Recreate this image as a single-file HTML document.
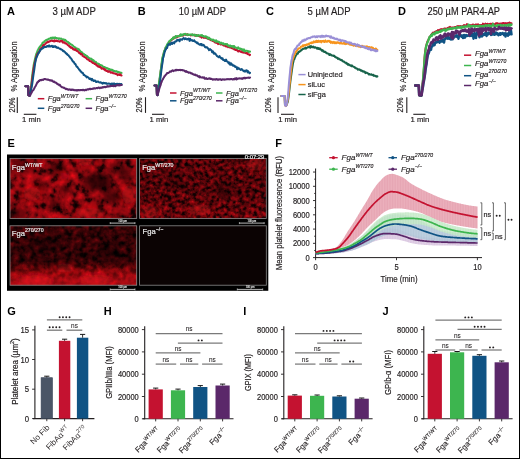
<!DOCTYPE html>
<html><head><meta charset="utf-8"><style>
html,body{margin:0;padding:0;background:#fff;}
svg{display:block;will-change:transform;}
</style></head><body>
<svg width="520" height="459" viewBox="0 0 520 459" font-family='"Liberation Sans", sans-serif' fill="#231f20">
<defs>
<filter id="t1" x="0" y="0" width="1" height="1" color-interpolation-filters="sRGB">
<feTurbulence type="fractalNoise" baseFrequency="0.12" numOctaves="4" seed="3"/>
<feGaussianBlur stdDeviation="0.5"/>
<feComponentTransfer><feFuncR type="table" tableValues="0 0 0.03 0.14 0.4 0.56 0.64 0.73 0.84 0.93 1"/><feFuncA type="linear" slope="0" intercept="1"/></feComponentTransfer>
<feColorMatrix type="matrix" values="1 0 0 0 0  0.05 0 0 0 0  0.1 0 0 0 0  0 0 0 1 0"/>
</filter>
<filter id="t2" x="0" y="0" width="1" height="1" color-interpolation-filters="sRGB">
<feTurbulence type="fractalNoise" baseFrequency="0.27" numOctaves="4" seed="11"/>
<feGaussianBlur stdDeviation="0.35"/>
<feComponentTransfer><feFuncR type="table" tableValues="0 0 0.03 0.09 0.23 0.39 0.51 0.62 0.75 0.88 1"/><feFuncA type="linear" slope="0" intercept="1"/></feComponentTransfer>
<feColorMatrix type="matrix" values="1 0 0 0 0  0.05 0 0 0 0  0.1 0 0 0 0  0 0 0 1 0"/>
</filter>
<filter id="t3" x="0" y="0" width="1" height="1" color-interpolation-filters="sRGB">
<feTurbulence type="fractalNoise" baseFrequency="0.18" numOctaves="4" seed="5"/>
<feGaussianBlur stdDeviation="0.4"/>
<feComponentTransfer><feFuncR type="table" tableValues="0 0 0.02 0.08 0.2 0.33 0.43 0.53 0.68 0.84 1"/><feFuncA type="linear" slope="0" intercept="1"/></feComponentTransfer>
<feColorMatrix type="matrix" values="1 0 0 0 0  0.05 0 0 0 0  0.1 0 0 0 0  0 0 0 1 0"/>
</filter>
<clipPath id="ci0"><rect x="10" y="158.5" width="126.7" height="59.9"/></clipPath>
<clipPath id="ci1"><rect x="139.6" y="158.5" width="126.7" height="59.9"/></clipPath>
<clipPath id="ci2"><rect x="10" y="225.8" width="126.7" height="59.4"/></clipPath>
<radialGradient id="g1a" cx="0.3" cy="0.55" r="0.45"><stop offset="0" stop-color="#e01018" stop-opacity="0.25"/><stop offset="1" stop-color="#ff1010" stop-opacity="0"/></radialGradient>
<radialGradient id="g1b" cx="0.72" cy="0.45" r="0.35"><stop offset="0" stop-color="#000" stop-opacity="0.45"/><stop offset="1" stop-color="#000" stop-opacity="0"/></radialGradient>
<linearGradient id="g3a" x1="0" y1="0" x2="0" y2="1"><stop offset="0" stop-color="#000" stop-opacity="0.35"/><stop offset="0.6" stop-color="#000" stop-opacity="0.45"/><stop offset="0.78" stop-color="#000" stop-opacity="0"/></linearGradient>
<linearGradient id="g3b" x1="0" y1="0" x2="0" y2="1"><stop offset="0.6" stop-color="#ff0a0a" stop-opacity="0"/><stop offset="0.9" stop-color="#f0101a" stop-opacity="0.5"/><stop offset="1" stop-color="#f0101a" stop-opacity="0.55"/></linearGradient>
<linearGradient id="g2a" x1="0" y1="0" x2="0" y2="1"><stop offset="0" stop-color="#000" stop-opacity="0.1"/><stop offset="0.5" stop-color="#000" stop-opacity="0.2"/><stop offset="1" stop-color="#000" stop-opacity="0"/></linearGradient>
<filter id="blr" x="-0.5" y="-0.5" width="2" height="2"><feGaussianBlur stdDeviation="3"/></filter><clipPath id="cTL"><rect x="10" y="158.5" width="126.7" height="59.9"/></clipPath>
<clipPath id="cTR"><rect x="139.6" y="158.5" width="126.7" height="59.9"/></clipPath><clipPath id="cBL"><rect x="10" y="225.8" width="126.7" height="59.4"/></clipPath>
<pattern id="pr" width="1.62" height="10" patternUnits="userSpaceOnUse"><rect width="1.62" height="10" fill="#ebb0bc"/><rect width="0.5" height="10" fill="#e39fad"/></pattern>
<pattern id="pg" width="1.62" height="10" patternUnits="userSpaceOnUse"><rect width="1.62" height="10" fill="#c9ebcb"/><rect width="0.5" height="10" fill="#b9e3bc"/></pattern>
<pattern id="pb" width="1.62" height="10" patternUnits="userSpaceOnUse"><rect width="1.62" height="10" fill="#b7cadb"/><rect width="0.5" height="10" fill="#a9bfd3"/></pattern>
<pattern id="pp" width="1.62" height="10" patternUnits="userSpaceOnUse"><rect width="1.62" height="10" fill="#ddcbe3"/><rect width="0.5" height="10" fill="#d2bcdb"/></pattern>
</defs>
<rect x="0" y="0" width="520" height="459" fill="#fff"/>
<text x="7" y="14.6" font-size="11" font-weight="bold" fill="#000" >A</text>
<text x="137.8" y="14.6" font-size="11" font-weight="bold" fill="#000" >B</text>
<text x="266" y="14.6" font-size="11" font-weight="bold" fill="#000" >C</text>
<text x="398" y="14.6" font-size="11" font-weight="bold" fill="#000" >D</text>
<text x="7.6" y="147" font-size="11" font-weight="bold" fill="#000" >E</text>
<text x="275.3" y="147" font-size="11" font-weight="bold" fill="#000" >F</text>
<text x="7.2" y="315.2" font-size="11" font-weight="bold" fill="#000" >G</text>
<text x="103.8" y="315.3" font-size="11" font-weight="bold" fill="#000" >H</text>
<text x="243.2" y="315.2" font-size="11" font-weight="bold" fill="#000" >I</text>
<text x="382.4" y="315.2" font-size="11" font-weight="bold" fill="#000" >J</text>
<text x="52.5" y="14.9" font-size="10" stroke="#231f20" stroke-width="0.18" textLength="43.3" lengthAdjust="spacingAndGlyphs" >3 µM ADP</text>
<text x="178.8" y="14.9" font-size="10" stroke="#231f20" stroke-width="0.18" textLength="47.2" lengthAdjust="spacingAndGlyphs" >10 µM ADP</text>
<text x="307.6" y="14.9" font-size="10" stroke="#231f20" stroke-width="0.18" textLength="43" lengthAdjust="spacingAndGlyphs" >5 µM ADP</text>
<text x="427.6" y="14.9" font-size="10" stroke="#231f20" stroke-width="0.18" textLength="72.4" lengthAdjust="spacingAndGlyphs" >250 µM PAR4-AP</text>
<text transform="translate(16.9,66.4) rotate(-90)" font-size="9" stroke="#231f20" stroke-width="0.18" text-anchor="middle" textLength="50.2" lengthAdjust="spacingAndGlyphs" >% Aggregation</text>
<line x1="17.3" y1="97.2" x2="17.3" y2="112.9" stroke="#231f20" stroke-width="1.1" />
<line x1="23.8" y1="114.3" x2="36.4" y2="114.3" stroke="#231f20" stroke-width="1.1" />
<text transform="translate(14.9,105) rotate(-90)" font-size="8.6" stroke="#231f20" stroke-width="0.18" text-anchor="middle" textLength="15.2" lengthAdjust="spacingAndGlyphs" >20%</text>
<text x="22.1" y="122" font-size="7.4" stroke="#231f20" stroke-width="0.18" textLength="18.7" lengthAdjust="spacingAndGlyphs" >1 min</text>
<path d="M25.4,86.2 L28.2,86.2 L28.4,95.2 L29.6,95.9 L30.1,93.4 L30.6,90.0 L31.1,86.1 L31.6,81.5 L32.1,76.2 L32.6,72.3 L33.1,69.1 L33.6,65.4 L34.1,62.7 L34.6,60.7 L35.1,58.5 L35.6,56.5 L36.1,54.4 L36.6,53.2 L37.1,52.2 L37.6,50.4 L38.1,49.8 L38.6,48.5 L39.1,47.9 L39.6,46.9 L40.1,46.7 L40.6,45.6 L41.1,45.4 L41.6,44.7 L42.1,44.0 L42.6,42.6 L43.1,42.8 L43.6,42.4 L44.1,42.0 L44.6,40.9 L45.1,40.9 L45.6,40.3 L46.1,40.1 L46.6,40.4 L47.1,39.5 L47.6,39.5 L48.1,39.5 L48.6,38.8 L49.1,38.7 L49.6,38.7 L50.1,38.5 L50.6,37.9 L51.1,38.2 L51.6,38.6 L52.1,37.5 L52.6,38.2 L53.1,37.9 L53.6,37.6 L54.1,38.5 L54.6,38.1 L55.1,37.4 L55.6,37.9 L56.1,38.2 L56.6,38.0 L57.1,38.3 L57.6,38.2 L58.1,38.5 L58.6,38.9 L59.1,38.2 L59.6,38.7 L60.1,38.5 L60.6,38.8 L61.1,38.5 L61.6,38.9 L62.1,39.2 L62.6,39.7 L63.1,40.0 L63.6,39.3 L64.1,39.7 L64.6,40.4 L65.1,39.7 L65.6,40.4 L66.1,40.8 L66.6,41.6 L67.1,41.7 L67.6,41.7 L68.1,42.1 L68.6,42.5 L69.1,43.6 L69.6,43.3 L70.1,43.7 L70.6,44.2 L71.1,44.4 L71.6,44.8 L72.1,44.8 L72.6,45.5 L73.1,45.7 L73.6,46.6 L74.1,46.8 L74.6,46.9 L75.1,47.5 L75.6,47.5 L76.1,48.4 L76.6,48.4 L77.1,48.9 L77.6,48.6 L78.1,49.6 L78.6,49.3 L79.1,49.5 L79.6,50.5 L80.1,50.7 L80.6,51.5 L81.1,52.7 L81.6,52.0 L82.1,52.5 L82.6,53.2 L83.1,53.7 L83.6,53.8 L84.1,54.2 L84.6,54.9 L85.1,55.2 L85.6,55.1 L86.1,55.8 L86.6,56.2 L87.1,56.1 L87.6,57.0 L88.1,56.9 L88.6,57.9 L89.1,58.0 L89.6,58.3 L90.1,58.4 L90.6,58.9 L91.1,58.6 L91.6,59.2 L92.1,60.1 L92.6,59.6 L93.1,60.9 L93.6,60.3 L94.1,61.5 L94.6,61.3 L95.1,62.2 L95.6,62.3 L96.1,62.0 L96.6,63.3 L97.1,63.6 L97.6,63.4 L98.1,63.6 L98.6,64.0 L99.1,64.0 L99.6,65.0 L100.1,64.7 L100.6,65.1 L101.1,65.2 L101.6,65.5 L102.1,65.5 L102.6,66.7 L103.1,66.5 L103.6,67.1 L104.1,67.0 L104.6,67.0 L105.1,67.4 L105.6,67.6 L106.1,68.0 L106.6,68.1 L107.1,68.4 L107.6,68.2 L108.1,68.6 L108.6,69.7 L109.1,69.1 L109.6,69.1 L110.1,69.8 L110.6,70.3 L111.1,69.5 L111.6,70.1 L112.1,70.1 L112.6,69.9 L113.1,70.9 L113.6,70.8 L114.1,71.0 L114.6,70.9 L115.1,71.5 L115.6,71.3 L116.1,71.5 L116.6,71.3 L117.1,71.4 L117.6,72.5 L118.1,71.9 L118.6,72.3 L119.1,72.4 L119.6,72.3 L120.1,72.4 L120.6,72.9 L121.1,72.7 L121.6,72.9" fill="none" stroke="#3db54f" stroke-width="2.0" stroke-linejoin="round" stroke-linecap="round"/>
<path d="M25.4,86.2 L28.2,86.2 L28.4,95.2 L29.6,95.9 L30.1,94.0 L30.6,91.2 L31.1,88.1 L31.6,84.2 L32.1,79.7 L32.6,76.3 L33.1,72.7 L33.6,69.0 L34.1,66.2 L34.6,63.8 L35.1,61.4 L35.6,59.4 L36.1,57.1 L36.6,56.4 L37.1,54.3 L37.6,54.0 L38.1,53.0 L38.6,52.3 L39.1,51.9 L39.6,51.1 L40.1,49.5 L40.6,48.6 L41.1,48.8 L41.6,47.5 L42.1,47.2 L42.6,46.9 L43.1,45.4 L43.6,44.8 L44.1,45.1 L44.6,44.5 L45.1,44.0 L45.6,43.7 L46.1,43.0 L46.6,42.4 L47.1,42.6 L47.6,42.0 L48.1,41.5 L48.6,42.1 L49.1,41.6 L49.6,41.6 L50.1,41.0 L50.6,40.9 L51.1,40.7 L51.6,40.7 L52.1,41.0 L52.6,40.6 L53.1,41.0 L53.6,40.9 L54.1,41.5 L54.6,40.3 L55.1,41.1 L55.6,40.8 L56.1,40.9 L56.6,40.5 L57.1,40.9 L57.6,41.3 L58.1,41.1 L58.6,41.3 L59.1,41.2 L59.6,41.8 L60.1,41.5 L60.6,40.8 L61.1,41.4 L61.6,41.1 L62.1,40.8 L62.6,41.9 L63.1,42.7 L63.6,42.4 L64.1,42.2 L64.6,42.4 L65.1,43.4 L65.6,43.3 L66.1,43.5 L66.6,43.8 L67.1,44.2 L67.6,44.9 L68.1,45.3 L68.6,45.7 L69.1,45.7 L69.6,46.7 L70.1,46.6 L70.6,47.6 L71.1,47.1 L71.6,47.8 L72.1,48.2 L72.6,48.0 L73.1,49.3 L73.6,49.5 L74.1,49.1 L74.6,49.8 L75.1,50.0 L75.6,49.2 L76.1,50.5 L76.6,50.7 L77.1,51.1 L77.6,51.0 L78.1,51.7 L78.6,52.1 L79.1,52.9 L79.6,53.0 L80.1,53.3 L80.6,54.2 L81.1,53.9 L81.6,54.4 L82.1,54.3 L82.6,55.9 L83.1,56.1 L83.6,56.5 L84.1,56.8 L84.6,57.0 L85.1,57.4 L85.6,57.6 L86.1,58.0 L86.6,58.5 L87.1,59.3 L87.6,59.4 L88.1,59.5 L88.6,59.7 L89.1,60.0 L89.6,61.1 L90.1,61.1 L90.6,61.3 L91.1,61.5 L91.6,61.6 L92.1,62.3 L92.6,62.9 L93.1,62.8 L93.6,63.2 L94.1,63.5 L94.6,63.9 L95.1,63.6 L95.6,64.4 L96.1,64.5 L96.6,65.4 L97.1,65.2 L97.6,65.9 L98.1,66.6 L98.6,66.2 L99.1,66.4 L99.6,67.0 L100.1,67.2 L100.6,67.1 L101.1,67.9 L101.6,68.7 L102.1,68.2 L102.6,68.5 L103.1,68.4 L103.6,69.2 L104.1,68.9 L104.6,69.2 L105.1,70.3 L105.6,69.8 L106.1,70.7 L106.6,71.1 L107.1,70.9 L107.6,71.2 L108.1,71.9 L108.6,71.3 L109.1,71.4 L109.6,71.3 L110.1,72.0 L110.6,72.7 L111.1,72.7 L111.6,72.2 L112.1,72.4 L112.6,72.7 L113.1,73.2 L113.6,73.2 L114.1,73.5 L114.6,73.6 L115.1,73.6 L115.6,73.8 L116.1,74.1 L116.6,74.1 L117.1,74.4 L117.6,75.1 L118.1,74.7 L118.6,74.7 L119.1,74.2 L119.6,75.0 L120.1,74.3 L120.6,74.6 L121.1,75.5 L121.6,75.6" fill="none" stroke="#c41230" stroke-width="2.0" stroke-linejoin="round" stroke-linecap="round"/>
<path d="M25.4,86.2 L28.2,86.2 L28.4,95.2 L29.6,95.8 L30.1,93.4 L30.6,91.7 L31.1,89.3 L31.6,87.2 L32.1,84.8 L32.6,81.0 L33.1,77.3 L33.6,73.9 L34.1,70.9 L34.6,67.2 L35.1,63.4 L35.6,61.0 L36.1,58.5 L36.6,57.5 L37.1,56.1 L37.6,55.1 L38.1,53.6 L38.6,53.2 L39.1,52.2 L39.6,51.4 L40.1,50.7 L40.6,49.7 L41.1,49.0 L41.6,49.2 L42.1,48.4 L42.6,48.2 L43.1,48.2 L43.6,47.0 L44.1,47.1 L44.6,47.2 L45.1,47.1 L45.6,46.7 L46.1,47.0 L46.6,46.6 L47.1,46.0 L47.6,46.0 L48.1,46.5 L48.6,46.3 L49.1,45.4 L49.6,46.5 L50.1,46.2 L50.6,46.5 L51.1,45.9 L51.6,46.0 L52.1,45.7 L52.6,47.0 L53.1,46.2 L53.6,46.9 L54.1,46.2 L54.6,46.6 L55.1,46.1 L55.6,46.8 L56.1,47.5 L56.6,46.9 L57.1,47.9 L57.6,47.8 L58.1,47.6 L58.6,48.0 L59.1,48.3 L59.6,48.7 L60.1,48.8 L60.6,49.0 L61.1,49.5 L61.6,49.5 L62.1,49.8 L62.6,50.5 L63.1,51.2 L63.6,50.7 L64.1,51.6 L64.6,51.8 L65.1,52.1 L65.6,53.1 L66.1,53.1 L66.6,54.2 L67.1,53.9 L67.6,54.8 L68.1,55.1 L68.6,55.4 L69.1,56.4 L69.6,56.7 L70.1,57.6 L70.6,58.0 L71.1,58.3 L71.6,59.4 L72.1,60.1 L72.6,61.2 L73.1,61.2 L73.6,62.2 L74.1,62.3 L74.6,63.8 L75.1,63.9 L75.6,64.3 L76.1,65.6 L76.6,66.7 L77.1,66.5 L77.6,67.3 L78.1,68.1 L78.6,68.6 L79.1,69.7 L79.6,69.9 L80.1,70.5 L80.6,71.5 L81.1,71.6 L81.6,72.5 L82.1,72.5 L82.6,73.0 L83.1,73.2 L83.6,75.0 L84.1,74.7 L84.6,75.3 L85.1,75.6 L85.6,76.1 L86.1,76.4 L86.6,77.4 L87.1,76.7 L87.6,76.9 L88.1,77.4 L88.6,77.6 L89.1,78.6 L89.6,79.0 L90.1,78.6 L90.6,78.7 L91.1,79.3 L91.6,80.2 L92.1,78.9 L92.6,80.3 L93.1,80.0 L93.6,80.9 L94.1,80.4 L94.6,80.9 L95.1,80.6 L95.6,81.0 L96.1,82.0 L96.6,81.9 L97.1,81.7 L97.6,81.6 L98.1,81.4 L98.6,82.0 L99.1,82.3 L99.6,82.4 L100.1,82.5 L100.6,82.2 L101.1,82.7 L101.6,82.8 L102.1,83.3 L102.6,83.6 L103.1,83.0 L103.6,82.8 L104.1,83.2 L104.6,83.0 L105.1,83.1 L105.6,83.4 L106.1,83.1 L106.6,83.8 L107.1,83.6 L107.6,83.8 L108.1,83.7 L108.6,83.6 L109.1,83.5 L109.6,83.8 L110.1,83.8 L110.6,84.1 L111.1,84.0 L111.6,83.6 L112.1,84.1 L112.6,83.6 L113.1,83.9 L113.6,84.0 L114.1,83.4 L114.6,84.1 L115.1,84.2 L115.6,84.0 L116.1,84.0 L116.6,84.0 L117.1,83.8 L117.6,84.0 L118.1,83.9 L118.6,84.1 L119.1,83.7 L119.6,84.2 L120.1,84.2 L120.6,84.1 L121.1,83.9 L121.6,84.3" fill="none" stroke="#105384" stroke-width="2.0" stroke-linejoin="round" stroke-linecap="round"/>
<path d="M25.4,86.2 L28.2,86.2 L28.4,95.2 L29.8,95.6 L30.3,95.1 L30.8,94.0 L31.3,93.1 L31.8,92.3 L32.3,91.2 L32.8,90.5 L33.3,90.1 L33.8,89.3 L34.3,88.5 L34.8,87.1 L35.3,86.6 L35.8,85.7 L36.3,84.6 L36.8,83.5 L37.3,82.3 L37.8,82.4 L38.3,81.7 L38.8,80.7 L39.3,81.0 L39.8,80.2 L40.3,80.0 L40.8,80.0 L41.3,80.3 L41.8,79.7 L42.3,79.7 L42.8,80.0 L43.3,79.8 L43.8,79.3 L44.3,79.2 L44.8,78.9 L45.3,79.0 L45.8,79.3 L46.3,79.4 L46.8,79.4 L47.3,79.7 L47.8,79.4 L48.3,79.7 L48.8,80.0 L49.3,80.1 L49.8,80.4 L50.3,80.3 L50.8,80.3 L51.3,80.7 L51.8,80.5 L52.3,80.6 L52.8,81.4 L53.3,81.5 L53.8,81.9 L54.3,81.6 L54.8,82.3 L55.3,82.5 L55.8,82.7 L56.3,82.7 L56.8,83.4 L57.3,84.0 L57.8,84.2 L58.3,84.3 L58.8,84.8 L59.3,85.3 L59.8,84.8 L60.3,85.8 L60.8,86.3 L61.3,86.6 L61.8,87.2 L62.3,87.3 L62.8,87.3 L63.3,87.6 L63.8,87.9 L64.3,87.8 L64.8,88.2 L65.3,88.6 L65.8,89.1 L66.3,88.8 L66.8,89.0 L67.3,89.2 L67.8,89.6 L68.3,89.4 L68.8,89.9 L69.3,89.3 L69.8,89.6 L70.3,89.6 L70.8,90.0 L71.3,90.1 L71.8,89.5 L72.3,89.7 L72.8,90.0 L73.3,89.8 L73.8,89.7 L74.3,90.3 L74.8,90.2 L75.3,90.3 L75.8,90.0 L76.3,90.4 L76.8,90.1 L77.3,90.5 L77.8,90.0 L78.3,90.0 L78.8,90.2 L79.3,90.0 L79.8,90.3 L80.3,90.2 L80.8,89.9 L81.3,90.1 L81.8,90.0 L82.3,90.2 L82.8,89.8 L83.3,89.8 L83.8,90.2 L84.3,90.4 L84.8,90.3 L85.3,89.8 L85.8,89.8 L86.3,90.1 L86.8,89.6 L87.3,89.3 L87.8,89.5 L88.3,89.6 L88.8,89.2 L89.3,88.9 L89.8,88.8 L90.3,89.3 L90.8,88.8 L91.3,88.9 L91.8,88.9 L92.3,88.9 L92.8,88.6 L93.3,88.8 L93.8,88.3 L94.3,88.4 L94.8,88.2 L95.3,88.6 L95.8,88.3 L96.3,88.0 L96.8,88.1 L97.3,88.0 L97.8,88.2 L98.3,87.5 L98.8,87.6 L99.3,87.7 L99.8,88.3 L100.3,87.9 L100.8,87.5 L101.3,87.7 L101.8,87.9 L102.3,87.3 L102.8,87.1 L103.3,87.4 L103.8,87.2 L104.3,87.1 L104.8,86.8 L105.3,87.3 L105.8,87.1 L106.3,86.8 L106.8,86.7 L107.3,86.0 L107.8,86.6 L108.3,86.3 L108.8,86.4 L109.3,86.4 L109.8,86.1 L110.3,85.8 L110.8,86.2 L111.3,85.9 L111.8,86.0 L112.3,85.9 L112.8,85.9 L113.3,85.4 L113.8,86.2 L114.3,85.9 L114.8,86.1 L115.3,86.2 L115.8,85.7 L116.3,85.2 L116.8,85.4 L117.3,85.2 L117.8,85.3 L118.3,85.4 L118.8,84.8 L119.3,85.4 L119.8,84.8 L120.3,85.2 L120.8,85.0 L121.3,84.9 L121.8,84.9" fill="none" stroke="#5b286a" stroke-width="2.0" stroke-linejoin="round" stroke-linecap="round"/>
<line x1="37.8" y1="98.7" x2="44.3" y2="98.7" stroke="#c41230" stroke-width="1.5" />
<text x="47.8" y="101.3" font-size="7.5" font-style="italic" stroke="#231f20" stroke-width="0.15">Fga<tspan font-size="5.2" dy="-3.15">WT/WT</tspan></text>
<line x1="85.6" y1="98.7" x2="92.1" y2="98.7" stroke="#3db54f" stroke-width="1.5" />
<text x="95.6" y="101.3" font-size="7.5" font-style="italic" stroke="#231f20" stroke-width="0.15">Fga<tspan font-size="5.2" dy="-3.15">WT/270</tspan></text>
<line x1="37.8" y1="108.3" x2="44.3" y2="108.3" stroke="#105384" stroke-width="1.5" />
<text x="47.8" y="110.9" font-size="7.5" font-style="italic" stroke="#231f20" stroke-width="0.15">Fga<tspan font-size="5.2" dy="-3.15">270/270</tspan></text>
<line x1="85.6" y1="108.3" x2="92.1" y2="108.3" stroke="#5b286a" stroke-width="1.5" />
<text x="95.6" y="110.9" font-size="7.5" font-style="italic" stroke="#231f20" stroke-width="0.15">Fga<tspan font-size="5.2" dy="-3.15">−/−</tspan></text>
<text transform="translate(144.5,66.4) rotate(-90)" font-size="9" stroke="#231f20" stroke-width="0.18" text-anchor="middle" textLength="50.2" lengthAdjust="spacingAndGlyphs" >% Aggregation</text>
<line x1="145.5" y1="97.2" x2="145.5" y2="112.9" stroke="#231f20" stroke-width="1.1" />
<line x1="152" y1="114.3" x2="164.3" y2="114.3" stroke="#231f20" stroke-width="1.1" />
<text transform="translate(142.4,105) rotate(-90)" font-size="8.6" stroke="#231f20" stroke-width="0.18" text-anchor="middle" textLength="15.2" lengthAdjust="spacingAndGlyphs" >20%</text>
<text x="149.6" y="122" font-size="7.4" stroke="#231f20" stroke-width="0.18" textLength="18.7" lengthAdjust="spacingAndGlyphs" >1 min</text>
<path d="M154.5,85.6 L156.6,85.6 L156.9,94.5 L157.6,95.1 L158.1,90.9 L158.6,86.5 L159.1,83.1 L159.6,79.9 L160.1,76.2 L160.6,72.3 L161.1,68.5 L161.6,64.5 L162.1,61.7 L162.6,58.4 L163.1,56.0 L163.6,53.9 L164.1,52.3 L164.6,50.7 L165.1,49.6 L165.6,48.1 L166.1,47.3 L166.6,47.3 L167.1,45.5 L167.6,44.6 L168.1,44.1 L168.6,43.3 L169.1,42.0 L169.6,41.6 L170.1,41.4 L170.6,40.7 L171.1,40.1 L171.6,40.2 L172.1,39.0 L172.6,38.9 L173.1,38.3 L173.6,38.8 L174.1,37.3 L174.6,37.5 L175.1,37.4 L175.6,37.6 L176.1,37.4 L176.6,37.5 L177.1,36.3 L177.6,36.9 L178.1,36.4 L178.6,36.1 L179.1,36.4 L179.6,35.8 L180.1,35.2 L180.6,35.7 L181.1,35.1 L181.6,35.3 L182.1,35.5 L182.6,35.4 L183.1,35.7 L183.6,35.0 L184.1,34.4 L184.6,34.6 L185.1,34.5 L185.6,34.4 L186.1,35.0 L186.6,34.6 L187.1,34.1 L187.6,35.1 L188.1,34.8 L188.6,35.0 L189.1,34.9 L189.6,35.1 L190.1,34.9 L190.6,35.4 L191.1,35.1 L191.6,35.2 L192.1,35.2 L192.6,34.6 L193.1,35.1 L193.6,35.1 L194.1,35.3 L194.6,34.8 L195.1,35.9 L195.6,35.5 L196.1,35.1 L196.6,35.0 L197.1,35.6 L197.6,35.8 L198.1,35.7 L198.6,36.1 L199.1,36.0 L199.6,36.5 L200.1,36.2 L200.6,36.5 L201.1,37.0 L201.6,37.7 L202.1,36.6 L202.6,36.9 L203.1,36.9 L203.6,37.7 L204.1,37.1 L204.6,37.5 L205.1,37.9 L205.6,37.7 L206.1,37.9 L206.6,38.2 L207.1,37.8 L207.6,38.2 L208.1,38.8 L208.6,39.1 L209.1,39.2 L209.6,38.8 L210.1,39.5 L210.6,40.1 L211.1,40.3 L211.6,40.3 L212.1,40.2 L212.6,41.0 L213.1,40.8 L213.6,40.8 L214.1,41.2 L214.6,42.2 L215.1,42.0 L215.6,42.6 L216.1,42.2 L216.6,42.9 L217.1,42.6 L217.6,43.0 L218.1,44.1 L218.6,43.7 L219.1,43.4 L219.6,43.7 L220.1,44.0 L220.6,44.5 L221.1,44.1 L221.6,43.8 L222.1,44.5 L222.6,44.7 L223.1,44.9 L223.6,45.5 L224.1,45.3 L224.6,45.6 L225.1,45.1 L225.6,46.0 L226.1,46.5 L226.6,46.3 L227.1,46.2 L227.6,46.4 L228.1,47.2 L228.6,46.4 L229.1,46.9 L229.6,47.3 L230.1,47.6 L230.6,47.4 L231.1,47.9 L231.6,47.9 L232.1,48.3 L232.6,48.4 L233.1,48.3 L233.6,48.9 L234.1,49.4 L234.6,49.0 L235.1,49.4 L235.6,50.0 L236.1,49.5 L236.6,50.2 L237.1,49.9 L237.6,50.8 L238.1,51.4 L238.6,51.5 L239.1,50.8 L239.6,51.3 L240.1,51.2 L240.6,51.4 L241.1,52.0 L241.6,51.2 L242.1,52.2 L242.6,51.9 L243.1,52.6 L243.6,52.3 L244.1,52.2 L244.6,52.7 L245.1,53.0 L245.6,52.9 L246.1,53.3 L246.6,53.1 L247.1,52.8 L247.6,54.1 L248.1,54.2 L248.6,54.3 L249.1,54.5 L249.6,55.1 L250.1,54.8" fill="none" stroke="#c41230" stroke-width="2.0" stroke-linejoin="round" stroke-linecap="round"/>
<path d="M154.5,85.6 L156.6,85.6 L156.9,94.5 L157.6,95.0 L158.1,90.7 L158.6,87.1 L159.1,81.8 L159.6,79.0 L160.1,74.5 L160.6,70.7 L161.1,68.1 L161.6,63.5 L162.1,59.3 L162.6,57.0 L163.1,55.3 L163.6,53.5 L164.1,51.2 L164.6,50.2 L165.1,49.1 L165.6,47.4 L166.1,46.8 L166.6,45.7 L167.1,44.6 L167.6,43.7 L168.1,43.1 L168.6,42.4 L169.1,41.4 L169.6,40.8 L170.1,40.9 L170.6,40.0 L171.1,39.8 L171.6,39.4 L172.1,38.7 L172.6,39.1 L173.1,37.4 L173.6,37.9 L174.1,37.2 L174.6,37.9 L175.1,37.7 L175.6,35.9 L176.1,36.1 L176.6,36.7 L177.1,36.6 L177.6,36.5 L178.1,36.0 L178.6,36.1 L179.1,36.0 L179.6,35.6 L180.1,35.9 L180.6,34.3 L181.1,35.5 L181.6,34.6 L182.1,35.4 L182.6,34.7 L183.1,34.3 L183.6,34.8 L184.1,34.1 L184.6,34.1 L185.1,33.7 L185.6,34.4 L186.1,34.6 L186.6,34.9 L187.1,34.3 L187.6,34.9 L188.1,34.5 L188.6,34.4 L189.1,34.8 L189.6,35.0 L190.1,34.4 L190.6,34.5 L191.1,34.6 L191.6,34.7 L192.1,34.3 L192.6,35.3 L193.1,34.7 L193.6,35.1 L194.1,34.6 L194.6,35.1 L195.1,35.2 L195.6,34.9 L196.1,36.0 L196.6,35.3 L197.1,36.0 L197.6,35.7 L198.1,35.0 L198.6,35.2 L199.1,35.7 L199.6,35.6 L200.1,35.6 L200.6,35.6 L201.1,35.0 L201.6,35.8 L202.1,35.0 L202.6,36.3 L203.1,36.0 L203.6,36.1 L204.1,36.5 L204.6,36.9 L205.1,36.3 L205.6,36.3 L206.1,36.8 L206.6,36.6 L207.1,37.2 L207.6,38.6 L208.1,37.5 L208.6,38.5 L209.1,37.7 L209.6,38.7 L210.1,38.6 L210.6,38.9 L211.1,39.4 L211.6,40.1 L212.1,39.6 L212.6,39.8 L213.1,39.5 L213.6,40.4 L214.1,40.2 L214.6,40.9 L215.1,40.7 L215.6,41.7 L216.1,40.3 L216.6,41.2 L217.1,41.9 L217.6,41.6 L218.1,41.6 L218.6,42.0 L219.1,41.7 L219.6,42.5 L220.1,43.7 L220.6,43.3 L221.1,42.5 L221.6,42.8 L222.1,43.2 L222.6,44.0 L223.1,43.3 L223.6,43.5 L224.1,44.4 L224.6,44.6 L225.1,44.2 L225.6,44.0 L226.1,44.0 L226.6,44.5 L227.1,44.0 L227.6,45.5 L228.1,45.0 L228.6,45.7 L229.1,46.4 L229.6,46.3 L230.1,45.4 L230.6,46.4 L231.1,46.7 L231.6,46.0 L232.1,46.1 L232.6,46.6 L233.1,46.1 L233.6,47.6 L234.1,46.0 L234.6,46.7 L235.1,47.2 L235.6,47.4 L236.1,47.7 L236.6,47.9 L237.1,47.9 L237.6,48.6 L238.1,47.3 L238.6,48.4 L239.1,48.2 L239.6,48.8 L240.1,48.9 L240.6,48.6 L241.1,48.9 L241.6,49.7 L242.1,49.6 L242.6,49.3 L243.1,50.7 L243.6,50.9 L244.1,49.4 L244.6,50.4 L245.1,51.5 L245.6,50.9 L246.1,50.8 L246.6,50.8 L247.1,50.8 L247.6,51.1 L248.1,51.1 L248.6,51.9 L249.1,51.5 L249.6,51.7 L250.1,51.5" fill="none" stroke="#3db54f" stroke-width="2.0" stroke-linejoin="round" stroke-linecap="round"/>
<path d="M154.5,85.6 L156.6,85.6 L156.9,94.5 L157.6,95.3 L158.1,92.3 L158.6,89.9 L159.1,87.7 L159.6,84.2 L160.1,80.9 L160.6,77.0 L161.1,72.9 L161.6,68.9 L162.1,65.2 L162.6,62.3 L163.1,57.9 L163.6,56.9 L164.1,54.3 L164.6,52.2 L165.1,51.0 L165.6,49.6 L166.1,49.0 L166.6,47.6 L167.1,47.9 L167.6,46.1 L168.1,44.6 L168.6,45.0 L169.1,43.8 L169.6,44.6 L170.1,44.8 L170.6,44.2 L171.1,42.7 L171.6,42.7 L172.1,44.0 L172.6,42.9 L173.1,42.4 L173.6,42.8 L174.1,43.4 L174.6,42.5 L175.1,41.6 L175.6,41.5 L176.1,41.4 L176.6,40.5 L177.1,40.0 L177.6,40.5 L178.1,39.8 L178.6,40.1 L179.1,40.1 L179.6,41.3 L180.1,39.2 L180.6,39.5 L181.1,39.4 L181.6,39.6 L182.1,39.8 L182.6,38.8 L183.1,38.5 L183.6,38.0 L184.1,38.4 L184.6,39.2 L185.1,38.9 L185.6,38.3 L186.1,38.8 L186.6,39.1 L187.1,39.5 L187.6,39.0 L188.1,39.3 L188.6,38.5 L189.1,39.1 L189.6,40.9 L190.1,38.7 L190.6,40.0 L191.1,40.4 L191.6,40.2 L192.1,40.1 L192.6,40.8 L193.1,41.0 L193.6,41.1 L194.1,40.2 L194.6,41.5 L195.1,41.3 L195.6,41.7 L196.1,42.3 L196.6,42.8 L197.1,43.2 L197.6,42.6 L198.1,43.6 L198.6,44.0 L199.1,44.3 L199.6,44.7 L200.1,44.0 L200.6,44.2 L201.1,45.1 L201.6,44.0 L202.1,45.2 L202.6,45.0 L203.1,45.4 L203.6,44.8 L204.1,45.5 L204.6,46.3 L205.1,47.1 L205.6,47.4 L206.1,47.1 L206.6,47.3 L207.1,47.2 L207.6,48.3 L208.1,48.3 L208.6,49.2 L209.1,50.2 L209.6,49.6 L210.1,49.1 L210.6,49.8 L211.1,49.9 L211.6,50.4 L212.1,52.3 L212.6,52.0 L213.1,51.4 L213.6,53.1 L214.1,53.8 L214.6,53.2 L215.1,53.4 L215.6,54.0 L216.1,54.8 L216.6,55.4 L217.1,56.1 L217.6,56.4 L218.1,56.8 L218.6,57.2 L219.1,57.1 L219.6,56.1 L220.1,57.3 L220.6,57.9 L221.1,57.8 L221.6,58.8 L222.1,58.4 L222.6,58.3 L223.1,60.1 L223.6,59.9 L224.1,59.9 L224.6,60.7 L225.1,61.1 L225.6,61.0 L226.1,59.6 L226.6,61.0 L227.1,61.4 L227.6,61.4 L228.1,62.4 L228.6,63.4 L229.1,62.7 L229.6,62.6 L230.1,64.8 L230.6,63.6 L231.1,63.4 L231.6,64.6 L232.1,65.0 L232.6,64.6 L233.1,65.8 L233.6,65.4 L234.1,65.4 L234.6,66.3 L235.1,67.0 L235.6,66.4 L236.1,67.2 L236.6,67.2 L237.1,69.2 L237.6,67.4 L238.1,68.8 L238.6,68.2 L239.1,68.4 L239.6,69.1 L240.1,69.4 L240.6,69.9 L241.1,69.5 L241.6,69.1 L242.1,69.4 L242.6,70.2 L243.1,70.4 L243.6,71.1 L244.1,70.6 L244.6,71.2 L245.1,71.6 L245.6,71.0 L246.1,70.2 L246.6,70.5 L247.1,70.5 L247.6,72.4 L248.1,71.1 L248.6,72.5 L249.1,72.3 L249.6,73.1 L250.1,72.8" fill="none" stroke="#105384" stroke-width="2.0" stroke-linejoin="round" stroke-linecap="round"/>
<path d="M154.5,85.6 L156.6,85.6 L156.9,94.5 L157.6,95.3 L158.1,93.3 L158.6,91.4 L159.1,89.6 L159.6,87.7 L160.1,86.3 L160.6,85.2 L161.1,83.0 L161.6,82.1 L162.1,80.5 L162.6,79.7 L163.1,78.9 L163.6,77.8 L164.1,77.2 L164.6,75.9 L165.1,75.9 L165.6,74.9 L166.1,74.6 L166.6,74.0 L167.1,72.9 L167.6,72.9 L168.1,72.9 L168.6,72.9 L169.1,72.3 L169.6,72.0 L170.1,71.3 L170.6,71.8 L171.1,71.7 L171.6,71.0 L172.1,70.8 L172.6,70.3 L173.1,70.8 L173.6,71.1 L174.1,70.6 L174.6,70.6 L175.1,70.4 L175.6,69.9 L176.1,70.5 L176.6,69.8 L177.1,70.0 L177.6,70.1 L178.1,70.2 L178.6,70.1 L179.1,70.1 L179.6,69.9 L180.1,69.8 L180.6,70.2 L181.1,70.1 L181.6,70.0 L182.1,70.1 L182.6,70.4 L183.1,70.2 L183.6,70.4 L184.1,70.5 L184.6,71.0 L185.1,71.2 L185.6,71.8 L186.1,71.0 L186.6,71.4 L187.1,72.0 L187.6,71.9 L188.1,72.1 L188.6,72.8 L189.1,72.5 L189.6,72.5 L190.1,72.6 L190.6,73.2 L191.1,73.4 L191.6,73.2 L192.1,73.5 L192.6,74.1 L193.1,74.3 L193.6,74.2 L194.1,74.7 L194.6,74.9 L195.1,74.5 L195.6,75.1 L196.1,75.5 L196.6,75.5 L197.1,75.3 L197.6,76.0 L198.1,76.4 L198.6,76.8 L199.1,76.0 L199.6,77.4 L200.1,76.6 L200.6,77.2 L201.1,77.4 L201.6,77.5 L202.1,77.4 L202.6,77.2 L203.1,77.8 L203.6,77.6 L204.1,77.3 L204.6,78.7 L205.1,78.3 L205.6,78.7 L206.1,78.1 L206.6,78.8 L207.1,78.9 L207.6,79.0 L208.1,78.7 L208.6,78.4 L209.1,78.7 L209.6,78.3 L210.1,78.5 L210.6,79.0 L211.1,78.8 L211.6,79.0 L212.1,79.1 L212.6,79.7 L213.1,79.5 L213.6,79.3 L214.1,79.6 L214.6,79.2 L215.1,79.3 L215.6,79.6 L216.1,79.1 L216.6,79.4 L217.1,79.2 L217.6,79.5 L218.1,79.9 L218.6,79.3 L219.1,79.6 L219.6,79.3 L220.1,79.2 L220.6,79.2 L221.1,79.9 L221.6,80.1 L222.1,79.6 L222.6,79.3 L223.1,79.6 L223.6,79.4 L224.1,79.7 L224.6,79.5 L225.1,79.5 L225.6,79.6 L226.1,79.3 L226.6,79.3 L227.1,79.0 L227.6,79.3 L228.1,79.0 L228.6,79.3 L229.1,79.1 L229.6,79.3 L230.1,79.4 L230.6,78.9 L231.1,79.0 L231.6,79.0 L232.1,79.3 L232.6,79.5 L233.1,79.3 L233.6,79.0 L234.1,79.4 L234.6,78.6 L235.1,79.3 L235.6,78.7 L236.1,78.1 L236.6,79.5 L237.1,79.2 L237.6,78.5 L238.1,78.7 L238.6,78.6 L239.1,78.6 L239.6,78.2 L240.1,78.4 L240.6,78.6 L241.1,78.5 L241.6,78.7 L242.1,78.4 L242.6,78.9 L243.1,78.1 L243.6,78.3 L244.1,77.7 L244.6,77.8 L245.1,78.4 L245.6,77.8 L246.1,78.1 L246.6,77.9 L247.1,77.7 L247.6,77.8 L248.1,77.7 L248.6,77.6 L249.1,77.9 L249.6,77.8 L250.1,77.5" fill="none" stroke="#5b286a" stroke-width="2.0" stroke-linejoin="round" stroke-linecap="round"/>
<line x1="170" y1="93" x2="176.5" y2="93" stroke="#c41230" stroke-width="1.5" />
<text x="180" y="95.6" font-size="7.5" font-style="italic" stroke="#231f20" stroke-width="0.15">Fga<tspan font-size="5.2" dy="-3.15">WT/WT</tspan></text>
<line x1="216" y1="93" x2="222.5" y2="93" stroke="#3db54f" stroke-width="1.5" />
<text x="226" y="95.6" font-size="7.5" font-style="italic" stroke="#231f20" stroke-width="0.15">Fga<tspan font-size="5.2" dy="-3.15">WT/270</tspan></text>
<line x1="170" y1="100.8" x2="176.5" y2="100.8" stroke="#105384" stroke-width="1.5" />
<text x="180" y="103.4" font-size="7.5" font-style="italic" stroke="#231f20" stroke-width="0.15">Fga<tspan font-size="5.2" dy="-3.15">270/270</tspan></text>
<line x1="216" y1="100.8" x2="222.5" y2="100.8" stroke="#5b286a" stroke-width="1.5" />
<text x="226" y="103.4" font-size="7.5" font-style="italic" stroke="#231f20" stroke-width="0.15">Fga<tspan font-size="5.2" dy="-3.15">−/−</tspan></text>
<text transform="translate(273.9,66.4) rotate(-90)" font-size="9" stroke="#231f20" stroke-width="0.18" text-anchor="middle" textLength="50.2" lengthAdjust="spacingAndGlyphs" >% Aggregation</text>
<line x1="278" y1="97.2" x2="278" y2="112.9" stroke="#231f20" stroke-width="1.1" />
<line x1="281" y1="114.3" x2="294" y2="114.3" stroke="#231f20" stroke-width="1.1" />
<text transform="translate(271,105) rotate(-90)" font-size="8.6" stroke="#231f20" stroke-width="0.18" text-anchor="middle" textLength="15.2" lengthAdjust="spacingAndGlyphs" >20%</text>
<text x="278.2" y="122" font-size="7.4" stroke="#231f20" stroke-width="0.18" textLength="18.7" lengthAdjust="spacingAndGlyphs" >1 min</text>
<path d="M281.3,95.9 L284.6,95.9 L285.0,105.2 L285.9,105.7 L286.4,105.4 L286.9,104.0 L287.4,102.8 L287.9,101.5 L288.4,98.2 L288.9,94.4 L289.4,90.2 L289.9,85.7 L290.4,81.4 L290.9,77.5 L291.4,74.1 L291.9,70.3 L292.4,67.2 L292.9,63.8 L293.4,61.8 L293.9,59.6 L294.4,59.1 L294.9,57.4 L295.4,56.7 L295.9,55.4 L296.4,54.9 L296.9,53.7 L297.4,53.4 L297.9,53.6 L298.4,51.7 L298.9,52.1 L299.4,51.9 L299.9,51.1 L300.4,50.9 L300.9,50.8 L301.4,49.8 L301.9,49.9 L302.4,49.2 L302.9,49.0 L303.4,48.8 L303.9,48.7 L304.4,48.6 L304.9,48.5 L305.4,47.6 L305.9,48.7 L306.4,48.2 L306.9,47.9 L307.4,47.3 L307.9,47.2 L308.4,47.3 L308.9,47.2 L309.4,46.3 L309.9,47.1 L310.4,47.8 L310.9,46.0 L311.4,47.1 L311.9,46.9 L312.4,46.8 L312.9,47.4 L313.4,46.6 L313.9,47.1 L314.4,47.7 L314.9,47.2 L315.4,47.3 L315.9,47.7 L316.4,47.7 L316.9,48.6 L317.4,47.9 L317.9,48.7 L318.4,48.1 L318.9,49.1 L319.4,49.0 L319.9,48.3 L320.4,49.5 L320.9,49.4 L321.4,49.8 L321.9,50.8 L322.4,50.1 L322.9,50.4 L323.4,51.5 L323.9,51.3 L324.4,52.1 L324.9,52.0 L325.4,51.8 L325.9,52.4 L326.4,53.2 L326.9,53.3 L327.4,53.3 L327.9,53.6 L328.4,53.8 L328.9,53.8 L329.4,55.0 L329.9,54.5 L330.4,54.3 L330.9,54.7 L331.4,55.4 L331.9,55.6 L332.4,55.5 L332.9,55.5 L333.4,56.0 L333.9,55.6 L334.4,55.9 L334.9,56.9 L335.4,56.7 L335.9,57.2 L336.4,57.7 L336.9,57.8 L337.4,57.8 L337.9,58.9 L338.4,58.6 L338.9,58.6 L339.4,59.3 L339.9,59.5 L340.4,59.4 L340.9,60.1 L341.4,60.3 L341.9,60.0 L342.4,61.0 L342.9,61.3 L343.4,61.5 L343.9,61.4 L344.4,62.1 L344.9,62.5 L345.4,62.8 L345.9,62.6 L346.4,63.6 L346.9,63.2 L347.4,63.8 L347.9,64.6 L348.4,64.1 L348.9,64.5 L349.4,65.3 L349.9,65.0 L350.4,65.3 L350.9,65.8 L351.4,66.3 L351.9,65.4 L352.4,66.2 L352.9,66.4 L353.4,66.6 L353.9,66.9 L354.4,67.2 L354.9,67.8 L355.4,67.6 L355.9,68.2 L356.4,68.6 L356.9,68.4 L357.4,68.9 L357.9,69.7 L358.4,69.4 L358.9,69.3 L359.4,69.7 L359.9,69.6 L360.4,70.3 L360.9,70.7 L361.4,70.3 L361.9,70.8 L362.4,71.4 L362.9,71.1 L363.4,71.6 L363.9,71.3 L364.4,71.6 L364.9,72.0 L365.4,73.1 L365.9,72.4 L366.4,72.6 L366.9,72.8 L367.4,73.1 L367.9,73.6 L368.4,73.6 L368.9,74.5 L369.4,74.0 L369.9,74.6 L370.4,74.4 L370.9,74.7 L371.4,74.2 L371.9,74.8 L372.4,75.0 L372.9,75.2 L373.4,74.7 L373.9,75.9 L374.4,75.6 L374.9,75.8 L375.4,76.0 L375.9,76.2 L376.4,76.6 L376.9,76.1 L377.4,76.4" fill="none" stroke="#17634a" stroke-width="2.0" stroke-linejoin="round" stroke-linecap="round"/>
<path d="M281.3,95.9 L284.6,95.9 L285.0,105.2 L285.9,106.1 L286.4,105.3 L286.9,103.6 L287.4,101.6 L287.9,99.1 L288.4,95.8 L288.9,91.8 L289.4,85.9 L289.9,82.1 L290.4,77.4 L290.9,72.4 L291.4,68.5 L291.9,63.6 L292.4,60.9 L292.9,59.0 L293.4,57.6 L293.9,56.1 L294.4,54.7 L294.9,53.9 L295.4,52.0 L295.9,52.4 L296.4,50.8 L296.9,50.5 L297.4,50.0 L297.9,49.2 L298.4,48.6 L298.9,48.3 L299.4,48.3 L299.9,48.2 L300.4,47.8 L300.9,46.8 L301.4,46.6 L301.9,46.2 L302.4,46.5 L302.9,45.2 L303.4,46.4 L303.9,45.4 L304.4,45.0 L304.9,45.3 L305.4,45.4 L305.9,44.8 L306.4,45.0 L306.9,44.4 L307.4,44.7 L307.9,44.5 L308.4,43.7 L308.9,44.3 L309.4,43.6 L309.9,43.4 L310.4,42.8 L310.9,42.9 L311.4,43.3 L311.9,42.2 L312.4,42.9 L312.9,42.7 L313.4,42.5 L313.9,41.3 L314.4,42.1 L314.9,42.3 L315.4,41.6 L315.9,41.9 L316.4,40.7 L316.9,42.0 L317.4,41.3 L317.9,42.0 L318.4,40.7 L318.9,41.8 L319.4,41.4 L319.9,41.8 L320.4,41.0 L320.9,41.1 L321.4,42.4 L321.9,41.0 L322.4,41.0 L322.9,41.2 L323.4,40.8 L323.9,41.8 L324.4,42.0 L324.9,40.9 L325.4,40.4 L325.9,41.7 L326.4,41.7 L326.9,41.6 L327.4,41.7 L327.9,40.9 L328.4,41.2 L328.9,40.8 L329.4,40.9 L329.9,42.0 L330.4,41.4 L330.9,42.9 L331.4,42.0 L331.9,41.8 L332.4,42.5 L332.9,43.1 L333.4,42.6 L333.9,41.9 L334.4,42.7 L334.9,43.2 L335.4,42.4 L335.9,42.3 L336.4,43.2 L336.9,42.8 L337.4,42.3 L337.9,42.7 L338.4,42.5 L338.9,43.0 L339.4,43.0 L339.9,43.5 L340.4,43.3 L340.9,42.4 L341.4,43.3 L341.9,43.6 L342.4,43.4 L342.9,43.7 L343.4,43.1 L343.9,42.9 L344.4,43.9 L344.9,43.0 L345.4,42.6 L345.9,44.1 L346.4,43.4 L346.9,43.7 L347.4,43.3 L347.9,43.4 L348.4,43.6 L348.9,44.0 L349.4,44.4 L349.9,43.3 L350.4,44.8 L350.9,44.0 L351.4,44.1 L351.9,45.0 L352.4,44.7 L352.9,44.2 L353.4,45.8 L353.9,44.6 L354.4,45.2 L354.9,45.3 L355.4,45.9 L355.9,45.2 L356.4,45.9 L356.9,45.2 L357.4,46.1 L357.9,45.3 L358.4,45.6 L358.9,46.7 L359.4,46.1 L359.9,46.1 L360.4,47.1 L360.9,46.3 L361.4,45.9 L361.9,46.7 L362.4,45.9 L362.9,47.0 L363.4,47.1 L363.9,46.4 L364.4,46.5 L364.9,46.9 L365.4,46.9 L365.9,46.5 L366.4,47.3 L366.9,46.2 L367.4,47.0 L367.9,47.1 L368.4,47.2 L368.9,47.6 L369.4,47.0 L369.9,47.9 L370.4,47.6 L370.9,47.5 L371.4,47.3 L371.9,47.5 L372.4,48.3 L372.9,47.8 L373.4,48.4 L373.9,48.9 L374.4,49.1 L374.9,49.4 L375.4,48.7 L375.9,48.5 L376.4,49.5 L376.9,49.4 L377.4,49.9" fill="none" stroke="#f7941d" stroke-width="2.0" stroke-linejoin="round" stroke-linecap="round"/>
<path d="M281.3,95.9 L284.6,95.9 L285.0,105.2 L285.9,106.0 L286.4,105.5 L286.9,103.1 L287.4,100.3 L287.9,96.3 L288.4,90.4 L288.9,83.8 L289.4,78.0 L289.9,73.3 L290.4,67.7 L290.9,64.6 L291.4,60.9 L291.9,58.9 L292.4,56.2 L292.9,54.3 L293.4,53.7 L293.9,51.4 L294.4,49.9 L294.9,49.2 L295.4,48.6 L295.9,48.9 L296.4,47.3 L296.9,47.0 L297.4,45.5 L297.9,45.6 L298.4,45.2 L298.9,45.1 L299.4,43.5 L299.9,43.6 L300.4,43.0 L300.9,42.0 L301.4,42.0 L301.9,41.5 L302.4,40.3 L302.9,41.2 L303.4,40.9 L303.9,40.1 L304.4,39.5 L304.9,40.4 L305.4,39.6 L305.9,39.7 L306.4,39.6 L306.9,38.6 L307.4,39.0 L307.9,38.3 L308.4,38.2 L308.9,38.0 L309.4,37.9 L309.9,38.3 L310.4,37.7 L310.9,37.4 L311.4,37.2 L311.9,37.3 L312.4,36.6 L312.9,36.7 L313.4,36.8 L313.9,36.4 L314.4,36.5 L314.9,36.2 L315.4,37.3 L315.9,36.9 L316.4,36.5 L316.9,36.2 L317.4,37.2 L317.9,36.3 L318.4,36.2 L318.9,36.3 L319.4,36.3 L319.9,36.8 L320.4,36.2 L320.9,37.1 L321.4,35.8 L321.9,36.5 L322.4,35.7 L322.9,37.0 L323.4,36.1 L323.9,36.2 L324.4,36.6 L324.9,36.8 L325.4,35.7 L325.9,36.0 L326.4,35.6 L326.9,36.3 L327.4,36.2 L327.9,36.1 L328.4,36.1 L328.9,36.3 L329.4,36.3 L329.9,37.1 L330.4,37.7 L330.9,36.3 L331.4,37.3 L331.9,37.4 L332.4,38.0 L332.9,37.5 L333.4,38.1 L333.9,37.8 L334.4,38.8 L334.9,38.6 L335.4,38.7 L335.9,39.1 L336.4,38.9 L336.9,38.5 L337.4,39.6 L337.9,39.6 L338.4,39.5 L338.9,40.2 L339.4,40.4 L339.9,39.5 L340.4,39.8 L340.9,41.0 L341.4,41.1 L341.9,40.3 L342.4,40.2 L342.9,40.6 L343.4,40.8 L343.9,40.5 L344.4,41.3 L344.9,40.9 L345.4,41.0 L345.9,42.1 L346.4,41.6 L346.9,42.0 L347.4,42.4 L347.9,42.6 L348.4,42.3 L348.9,42.6 L349.4,42.3 L349.9,43.6 L350.4,43.3 L350.9,42.6 L351.4,43.3 L351.9,43.7 L352.4,43.8 L352.9,44.5 L353.4,44.5 L353.9,43.8 L354.4,44.2 L354.9,43.8 L355.4,44.6 L355.9,44.8 L356.4,46.1 L356.9,45.1 L357.4,44.3 L357.9,45.1 L358.4,45.6 L358.9,45.1 L359.4,45.5 L359.9,45.9 L360.4,46.4 L360.9,46.3 L361.4,46.1 L361.9,47.0 L362.4,46.6 L362.9,46.8 L363.4,46.5 L363.9,47.0 L364.4,47.8 L364.9,46.9 L365.4,47.8 L365.9,48.3 L366.4,47.9 L366.9,48.4 L367.4,47.9 L367.9,49.1 L368.4,49.2 L368.9,49.0 L369.4,48.2 L369.9,48.7 L370.4,49.7 L370.9,50.2 L371.4,49.7 L371.9,50.3 L372.4,49.6 L372.9,49.9 L373.4,50.1 L373.9,50.4 L374.4,49.7 L374.9,50.9 L375.4,51.2 L375.9,50.3 L376.4,50.3 L376.9,51.2 L377.4,50.9" fill="none" stroke="#9a8fd6" stroke-width="2.0" stroke-linejoin="round" stroke-linecap="round"/>
<line x1="298.4" y1="74.6" x2="305.6" y2="74.6" stroke="#9a8fd6" stroke-width="1.5" />
<text x="307.7" y="77.2" font-size="7.4" stroke="#231f20" stroke-width="0.18" >Uninjected</text>
<line x1="298.4" y1="84.6" x2="305.6" y2="84.6" stroke="#f7941d" stroke-width="1.5" />
<text x="307.7" y="87.2" font-size="7.4" stroke="#231f20" stroke-width="0.18" >siLuc</text>
<line x1="298.4" y1="94.5" x2="305.6" y2="94.5" stroke="#17634a" stroke-width="1.5" />
<text x="307.7" y="97.1" font-size="7.4" stroke="#231f20" stroke-width="0.18" >siFga</text>
<text transform="translate(406.4,66.4) rotate(-90)" font-size="9" stroke="#231f20" stroke-width="0.18" text-anchor="middle" textLength="50.2" lengthAdjust="spacingAndGlyphs" >% Aggregation</text>
<line x1="406.8" y1="97.2" x2="406.8" y2="112.9" stroke="#231f20" stroke-width="1.1" />
<line x1="413.3" y1="114.3" x2="425.5" y2="114.3" stroke="#231f20" stroke-width="1.1" />
<text transform="translate(402.6,105) rotate(-90)" font-size="8.6" stroke="#231f20" stroke-width="0.18" text-anchor="middle" textLength="15.2" lengthAdjust="spacingAndGlyphs" >20%</text>
<text x="410.5" y="122" font-size="7.4" stroke="#231f20" stroke-width="0.18" textLength="18.7" lengthAdjust="spacingAndGlyphs" >1 min</text>
<path d="M415.2,85.5 L418.8,85.5 L419.2,95.3 L421.2,95.5 L421.5,94.1 L422.0,90.7 L422.5,85.1 L423.0,79.4 L423.5,74.8 L424.0,66.5 L424.5,58.2 L425.0,52.8 L425.5,49.0 L426.0,46.5 L426.5,44.9 L427.0,42.7 L427.5,41.3 L428.0,41.1 L428.5,39.5 L429.0,38.4 L429.5,37.3 L430.0,36.4 L430.5,36.1 L431.0,34.8 L431.5,35.2 L432.0,33.4 L432.5,33.4 L433.0,32.5 L433.5,32.7 L434.0,32.9 L434.5,33.1 L435.0,31.8 L435.5,31.9 L436.0,31.5 L436.5,31.1 L437.0,30.7 L437.5,31.1 L438.0,30.0 L438.5,30.8 L439.0,30.6 L439.5,30.1 L440.0,29.7 L440.5,29.4 L441.0,30.9 L441.5,29.1 L442.0,30.4 L442.5,29.8 L443.0,29.2 L443.5,28.7 L444.0,29.6 L444.5,29.9 L445.0,28.4 L445.5,28.6 L446.0,29.2 L446.5,28.7 L447.0,29.5 L447.5,28.1 L448.0,28.5 L448.5,27.5 L449.0,29.1 L449.5,27.6 L450.0,26.8 L450.5,27.7 L451.0,27.6 L451.5,28.6 L452.0,27.4 L452.5,27.5 L453.0,27.7 L453.5,28.1 L454.0,27.2 L454.5,27.7 L455.0,27.3 L455.5,26.9 L456.0,27.0 L456.5,26.9 L457.0,26.3 L457.5,27.3 L458.0,26.0 L458.5,27.2 L459.0,27.0 L459.5,26.4 L460.0,26.0 L460.5,26.2 L461.0,26.5 L461.5,26.5 L462.0,26.2 L462.5,26.5 L463.0,25.7 L463.5,26.0 L464.0,25.0 L464.5,26.1 L465.0,25.8 L465.5,25.4 L466.0,26.2 L466.5,25.9 L467.0,24.1 L467.5,25.4 L468.0,24.7 L468.5,25.9 L469.0,26.5 L469.5,25.0 L470.0,25.3 L470.5,25.1 L471.0,25.3 L471.5,25.5 L472.0,25.7 L472.5,24.6 L473.0,25.8 L473.5,24.6 L474.0,25.1 L474.5,25.5 L475.0,25.3 L475.5,24.4 L476.0,24.5 L476.5,24.6 L477.0,24.8 L477.5,25.4 L478.0,24.2 L478.5,25.0 L479.0,25.1 L479.5,25.0 L480.0,24.9 L480.5,25.5 L481.0,24.9 L481.5,25.1 L482.0,24.9 L482.5,25.5 L483.0,23.6 L483.5,25.2 L484.0,24.4 L484.5,24.4 L485.0,24.0 L485.5,23.6 L486.0,24.3 L486.5,24.1 L487.0,24.7 L487.5,23.7 L488.0,25.1 L488.5,24.5 L489.0,24.2 L489.5,24.0 L490.0,23.9 L490.5,23.7 L491.0,24.0 L491.5,24.2 L492.0,24.1 L492.5,23.5 L493.0,24.0 L493.5,23.7 L494.0,24.2 L494.5,25.0 L495.0,24.4 L495.5,23.9 L496.0,23.2 L496.5,23.3 L497.0,23.1 L497.5,24.3 L498.0,23.5 L498.5,23.9 L499.0,23.6 L499.5,23.9 L500.0,24.5 L500.5,23.5 L501.0,23.6 L501.5,23.4 L502.0,24.2 L502.5,23.2 L503.0,23.1 L503.5,23.0 L504.0,23.0 L504.5,23.9 L505.0,24.9 L505.5,23.1 L506.0,24.0 L506.5,23.7 L507.0,23.0 L507.5,23.4 L508.0,23.4 L508.5,23.1 L509.0,24.4 L509.5,22.5 L510.0,23.6 L510.5,23.5 L511.0,23.1 L511.5,23.4" fill="none" stroke="#c41230" stroke-width="2.0" stroke-linejoin="round" stroke-linecap="round"/>
<path d="M415.2,85.5 L418.8,85.5 L419.2,95.3 L421.2,95.5 L421.5,95.7 L422.0,90.3 L422.5,85.2 L423.0,80.0 L423.5,72.7 L424.0,67.1 L424.5,60.3 L425.0,54.3 L425.5,51.1 L426.0,47.2 L426.5,45.7 L427.0,43.6 L427.5,42.2 L428.0,41.7 L428.5,39.7 L429.0,38.9 L429.5,37.0 L430.0,37.1 L430.5,36.4 L431.0,35.4 L431.5,34.9 L432.0,35.8 L432.5,33.9 L433.0,33.7 L433.5,33.5 L434.0,34.2 L434.5,34.4 L435.0,33.3 L435.5,32.5 L436.0,32.4 L436.5,33.0 L437.0,31.8 L437.5,32.8 L438.0,32.6 L438.5,31.8 L439.0,31.9 L439.5,31.8 L440.0,32.0 L440.5,30.6 L441.0,31.5 L441.5,30.6 L442.0,30.3 L442.5,30.6 L443.0,30.3 L443.5,29.8 L444.0,29.3 L444.5,29.5 L445.0,30.6 L445.5,30.8 L446.0,30.0 L446.5,30.2 L447.0,29.2 L447.5,29.3 L448.0,29.4 L448.5,28.6 L449.0,28.6 L449.5,29.0 L450.0,28.7 L450.5,28.3 L451.0,28.9 L451.5,28.5 L452.0,29.0 L452.5,28.5 L453.0,28.2 L453.5,28.4 L454.0,28.1 L454.5,27.8 L455.0,27.9 L455.5,28.4 L456.0,28.3 L456.5,28.5 L457.0,27.0 L457.5,27.5 L458.0,27.5 L458.5,27.7 L459.0,27.3 L459.5,27.2 L460.0,27.8 L460.5,27.4 L461.0,26.7 L461.5,27.9 L462.0,27.6 L462.5,26.8 L463.0,27.4 L463.5,26.6 L464.0,27.4 L464.5,26.7 L465.0,26.3 L465.5,26.5 L466.0,26.2 L466.5,26.7 L467.0,26.6 L467.5,26.5 L468.0,26.2 L468.5,24.6 L469.0,26.4 L469.5,25.4 L470.0,26.5 L470.5,26.9 L471.0,26.4 L471.5,26.1 L472.0,26.2 L472.5,26.2 L473.0,26.0 L473.5,25.9 L474.0,25.7 L474.5,26.8 L475.0,26.2 L475.5,26.6 L476.0,26.0 L476.5,26.2 L477.0,26.0 L477.5,26.3 L478.0,26.5 L478.5,26.2 L479.0,25.7 L479.5,25.7 L480.0,26.9 L480.5,25.9 L481.0,25.9 L481.5,26.7 L482.0,26.5 L482.5,26.2 L483.0,25.8 L483.5,27.1 L484.0,26.1 L484.5,26.2 L485.0,25.8 L485.5,25.2 L486.0,25.2 L486.5,26.1 L487.0,26.1 L487.5,25.7 L488.0,25.3 L488.5,25.1 L489.0,25.7 L489.5,25.1 L490.0,26.2 L490.5,26.4 L491.0,27.2 L491.5,26.2 L492.0,25.4 L492.5,25.3 L493.0,24.0 L493.5,25.4 L494.0,25.6 L494.5,26.2 L495.0,26.0 L495.5,25.9 L496.0,25.7 L496.5,25.9 L497.0,26.3 L497.5,25.1 L498.0,25.3 L498.5,24.9 L499.0,26.4 L499.5,26.2 L500.0,25.9 L500.5,24.9 L501.0,25.6 L501.5,25.4 L502.0,25.5 L502.5,25.4 L503.0,25.7 L503.5,25.2 L504.0,25.8 L504.5,25.5 L505.0,25.2 L505.5,25.3 L506.0,25.1 L506.5,25.8 L507.0,25.2 L507.5,25.5 L508.0,25.1 L508.5,24.5 L509.0,25.7 L509.5,24.7 L510.0,25.6 L510.5,25.4 L511.0,24.4 L511.5,24.7" fill="none" stroke="#3db54f" stroke-width="2.3" stroke-linejoin="round" stroke-linecap="round"/>
<path d="M415.2,85.5 L418.8,85.5 L419.2,95.3 L421.2,95.5 L421.5,94.8 L422.0,91.5 L422.5,88.1 L423.0,86.9 L423.5,83.0 L424.0,80.7 L424.5,77.1 L425.0,74.6 L425.5,70.1 L426.0,67.0 L426.5,64.2 L427.0,60.3 L427.5,57.0 L428.0,54.4 L428.5,53.8 L429.0,52.4 L429.5,50.4 L430.0,48.7 L430.5,48.9 L431.0,49.7 L431.5,46.5 L432.0,46.5 L432.5,46.0 L433.0,42.8 L433.5,44.8 L434.0,43.6 L434.5,45.1 L435.0,43.2 L435.5,42.4 L436.0,42.6 L436.5,42.6 L437.0,41.7 L437.5,41.9 L438.0,40.4 L438.5,41.2 L439.0,41.9 L439.5,42.7 L440.0,41.4 L440.5,40.8 L441.0,41.4 L441.5,41.1 L442.0,41.5 L442.5,40.8 L443.0,39.6 L443.5,39.8 L444.0,42.5 L444.5,39.5 L445.0,39.3 L445.5,38.3 L446.0,37.0 L446.5,38.1 L447.0,36.8 L447.5,38.6 L448.0,38.4 L448.5,36.8 L449.0,38.8 L449.5,38.8 L450.0,38.0 L450.5,39.3 L451.0,39.4 L451.5,36.5 L452.0,38.4 L452.5,39.3 L453.0,37.7 L453.5,38.0 L454.0,36.4 L454.5,36.5 L455.0,36.2 L455.5,36.1 L456.0,36.6 L456.5,35.3 L457.0,35.6 L457.5,37.0 L458.0,36.3 L458.5,38.7 L459.0,34.5 L459.5,35.4 L460.0,35.5 L460.5,36.0 L461.0,35.3 L461.5,36.6 L462.0,35.7 L462.5,35.6 L463.0,38.1 L463.5,36.1 L464.0,35.0 L464.5,36.3 L465.0,37.6 L465.5,35.3 L466.0,35.1 L466.5,35.5 L467.0,35.9 L467.5,35.8 L468.0,35.2 L468.5,35.6 L469.0,34.9 L469.5,35.9 L470.0,34.7 L470.5,32.8 L471.0,35.9 L471.5,34.7 L472.0,33.6 L472.5,34.4 L473.0,33.8 L473.5,38.7 L474.0,35.0 L474.5,33.1 L475.0,35.0 L475.5,34.1 L476.0,38.1 L476.5,33.5 L477.0,32.4 L477.5,34.4 L478.0,34.1 L478.5,34.0 L479.0,32.4 L479.5,37.3 L480.0,35.8 L480.5,32.6 L481.0,35.3 L481.5,33.7 L482.0,36.4 L482.5,34.6 L483.0,34.0 L483.5,35.2 L484.0,34.7 L484.5,33.6 L485.0,34.8 L485.5,33.7 L486.0,32.5 L486.5,35.9 L487.0,33.8 L487.5,33.5 L488.0,34.4 L488.5,32.6 L489.0,32.8 L489.5,33.6 L490.0,33.5 L490.5,34.0 L491.0,35.0 L491.5,33.5 L492.0,34.4 L492.5,34.5 L493.0,32.9 L493.5,34.1 L494.0,33.0 L494.5,34.8 L495.0,34.3 L495.5,33.8 L496.0,32.6 L496.5,33.9 L497.0,33.1 L497.5,34.4 L498.0,33.6 L498.5,35.2 L499.0,34.6 L499.5,34.4 L500.0,33.2 L500.5,34.7 L501.0,33.4 L501.5,33.4 L502.0,33.8 L502.5,33.0 L503.0,33.2 L503.5,33.5 L504.0,35.0 L504.5,34.9 L505.0,33.3 L505.5,36.6 L506.0,33.5 L506.5,33.9 L507.0,34.3 L507.5,33.8 L508.0,35.7 L508.5,33.7 L509.0,32.4 L509.5,34.6 L510.0,33.1 L510.5,33.2 L511.0,30.7 L511.5,34.3" fill="none" stroke="#105384" stroke-width="2.5" stroke-linejoin="round" stroke-linecap="round"/>
<path d="M415.2,85.5 L418.8,85.5 L419.2,95.3 L421.2,95.5 L421.5,95.5 L422.0,92.3 L422.5,88.9 L423.0,83.9 L423.5,81.6 L424.0,79.1 L424.5,76.4 L425.0,71.2 L425.5,66.4 L426.0,64.4 L426.5,60.7 L427.0,56.6 L427.5,52.9 L428.0,51.8 L428.5,49.9 L429.0,49.0 L429.5,45.7 L430.0,45.7 L430.5,44.4 L431.0,42.7 L431.5,43.2 L432.0,42.4 L432.5,41.5 L433.0,41.7 L433.5,39.6 L434.0,40.4 L434.5,40.4 L435.0,39.9 L435.5,40.2 L436.0,37.9 L436.5,37.3 L437.0,38.5 L437.5,38.5 L438.0,39.7 L438.5,38.1 L439.0,36.5 L439.5,37.8 L440.0,36.1 L440.5,35.3 L441.0,38.7 L441.5,36.5 L442.0,36.6 L442.5,36.3 L443.0,37.3 L443.5,35.7 L444.0,36.4 L444.5,34.2 L445.0,33.7 L445.5,36.1 L446.0,36.0 L446.5,35.0 L447.0,34.6 L447.5,34.4 L448.0,33.5 L448.5,35.4 L449.0,34.4 L449.5,34.2 L450.0,33.9 L450.5,34.4 L451.0,33.8 L451.5,37.6 L452.0,32.1 L452.5,33.5 L453.0,38.5 L453.5,32.3 L454.0,32.6 L454.5,33.4 L455.0,33.4 L455.5,33.0 L456.0,30.9 L456.5,32.7 L457.0,31.1 L457.5,31.3 L458.0,32.5 L458.5,31.6 L459.0,32.5 L459.5,34.6 L460.0,32.4 L460.5,32.2 L461.0,30.7 L461.5,30.8 L462.0,30.4 L462.5,30.8 L463.0,30.2 L463.5,30.5 L464.0,30.9 L464.5,30.1 L465.0,29.6 L465.5,29.6 L466.0,31.2 L466.5,30.8 L467.0,31.6 L467.5,31.6 L468.0,30.3 L468.5,31.1 L469.0,29.2 L469.5,35.1 L470.0,31.5 L470.5,30.2 L471.0,29.3 L471.5,32.9 L472.0,28.6 L472.5,29.5 L473.0,30.9 L473.5,30.3 L474.0,29.7 L474.5,31.0 L475.0,29.2 L475.5,30.3 L476.0,29.6 L476.5,29.3 L477.0,30.4 L477.5,29.1 L478.0,31.7 L478.5,29.4 L479.0,35.6 L479.5,28.9 L480.0,30.4 L480.5,28.8 L481.0,28.6 L481.5,33.9 L482.0,30.4 L482.5,28.6 L483.0,30.8 L483.5,29.0 L484.0,29.8 L484.5,30.0 L485.0,30.2 L485.5,28.0 L486.0,31.0 L486.5,30.1 L487.0,29.2 L487.5,28.6 L488.0,28.0 L488.5,28.2 L489.0,29.9 L489.5,29.1 L490.0,28.4 L490.5,28.9 L491.0,34.0 L491.5,29.0 L492.0,28.8 L492.5,30.5 L493.0,29.7 L493.5,29.3 L494.0,31.6 L494.5,27.8 L495.0,28.1 L495.5,28.7 L496.0,28.9 L496.5,29.4 L497.0,29.5 L497.5,29.2 L498.0,29.2 L498.5,28.1 L499.0,27.0 L499.5,28.4 L500.0,28.0 L500.5,28.3 L501.0,28.6 L501.5,27.7 L502.0,27.8 L502.5,28.7 L503.0,28.8 L503.5,28.1 L504.0,29.1 L504.5,28.5 L505.0,27.7 L505.5,28.7 L506.0,30.3 L506.5,28.0 L507.0,29.6 L507.5,29.8 L508.0,29.8 L508.5,27.7 L509.0,30.3 L509.5,28.5 L510.0,28.2 L510.5,28.2 L511.0,28.9 L511.5,28.4" fill="none" stroke="#5b286a" stroke-width="2.6" stroke-linejoin="round" stroke-linecap="round"/>
<line x1="464" y1="55.2" x2="471.2" y2="55.2" stroke="#c41230" stroke-width="1.5" />
<text x="475" y="56.1" font-size="7.8" font-style="italic" stroke="#231f20" stroke-width="0.15">Fga<tspan font-size="5.1" dy="-3.28">WT/WT</tspan></text>
<line x1="464" y1="65.5" x2="471.2" y2="65.5" stroke="#3db54f" stroke-width="1.5" />
<text x="475" y="66.4" font-size="7.8" font-style="italic" stroke="#231f20" stroke-width="0.15">Fga<tspan font-size="5.1" dy="-3.28">WT/270</tspan></text>
<line x1="464" y1="75.7" x2="471.2" y2="75.7" stroke="#105384" stroke-width="1.5" />
<text x="475" y="76.6" font-size="7.8" font-style="italic" stroke="#231f20" stroke-width="0.15">Fga<tspan font-size="5.1" dy="-3.28">270/270</tspan></text>
<line x1="464" y1="85.5" x2="471.2" y2="85.5" stroke="#5b286a" stroke-width="1.5" />
<text x="475" y="86.4" font-size="7.8" font-style="italic" stroke="#231f20" stroke-width="0.15">Fga<tspan font-size="5.1" dy="-3.28">−/−</tspan></text>
<rect x="7" y="154.5" width="261.3" height="136.3" fill="#000" />
<g clip-path="url(#ci0)"><rect x="-6.65" y="108.45" width="160" height="160" filter="url(#t1)" transform="rotate(13 73.35 188.45)"/></g>
<g clip-path="url(#ci1)"><rect x="122.95" y="108.45" width="160" height="160" filter="url(#t2)" transform="rotate(21 202.95 188.45)"/></g>
<g clip-path="url(#ci2)"><rect x="-6.65" y="175.5" width="160" height="160" filter="url(#t3)" transform="rotate(17 73.35 255.5)"/></g>
<g clip-path="url(#cTL)" filter="url(#blr)"><ellipse cx="58" cy="168" rx="8" ry="5" fill="#000" fill-opacity="0.7"/><ellipse cx="66" cy="190" rx="5" ry="4" fill="#000" fill-opacity="0.8"/><ellipse cx="40" cy="186" rx="6" ry="4" fill="#000" fill-opacity="0.7"/><ellipse cx="98" cy="182" rx="14" ry="9" fill="#000" fill-opacity="0.7"/><ellipse cx="113" cy="196" rx="10" ry="7" fill="#000" fill-opacity="0.6"/><ellipse cx="118" cy="168" rx="10" ry="5" fill="#000" fill-opacity="0.45"/><ellipse cx="126" cy="176" rx="8" ry="6" fill="#000" fill-opacity="0.5"/><ellipse cx="17" cy="213" rx="8" ry="5" fill="#000" fill-opacity="0.6"/><ellipse cx="54" cy="204" rx="5" ry="5" fill="#000" fill-opacity="0.6"/><ellipse cx="20" cy="166" rx="10" ry="6" fill="#000" fill-opacity="0.45"/><ellipse cx="32" cy="194" rx="9" ry="7" fill="#d01018" fill-opacity="0.5"/><ellipse cx="90" cy="213" rx="16" ry="5" fill="#d01018" fill-opacity="0.5"/><ellipse cx="86" cy="162" rx="12" ry="4" fill="#d01018" fill-opacity="0.45"/><ellipse cx="129" cy="195" rx="7" ry="10" fill="#d01018" fill-opacity="0.45"/><ellipse cx="65" cy="176" rx="6" ry="4" fill="#d01018" fill-opacity="0.3"/></g>
<rect x="139.6" y="158.5" width="126.7" height="59.9" fill="url(#g2a)" />
<g clip-path="url(#cTR)" filter="url(#blr)"><ellipse cx="150" cy="212" rx="9" ry="6" fill="#d01018" fill-opacity="0.5"/><ellipse cx="200" cy="210" rx="12" ry="6" fill="#d01018" fill-opacity="0.45"/><ellipse cx="255" cy="165" rx="10" ry="6" fill="#d01018" fill-opacity="0.35"/><ellipse cx="225" cy="190" rx="10" ry="6" fill="#000" fill-opacity="0.35"/><ellipse cx="175" cy="180" rx="10" ry="6" fill="#000" fill-opacity="0.3"/></g>
<rect x="10" y="225.8" width="126.7" height="59.4" fill="url(#g3a)" />
<rect x="10" y="225.8" width="126.7" height="59.4" fill="url(#g3b)" />
<g clip-path="url(#cBL)" filter="url(#blr)"><ellipse cx="35" cy="281" rx="18" ry="6" fill="#f01020" fill-opacity="0.55"/><ellipse cx="95" cy="280" rx="16" ry="6" fill="#f01020" fill-opacity="0.5"/><ellipse cx="65" cy="268" rx="10" ry="5" fill="#e01018" fill-opacity="0.35"/><ellipse cx="110" cy="250" rx="12" ry="8" fill="#000" fill-opacity="0.3"/><ellipse cx="45" cy="245" rx="15" ry="8" fill="#000" fill-opacity="0.3"/></g>
<rect x="139.6" y="225.8" width="126.7" height="59.4" fill="#0b0303" />
<rect x="10" y="158.5" width="126.7" height="59.9" fill="none" stroke="#8a8a8a" stroke-width="0.8"/>
<rect x="139.6" y="158.5" width="126.7" height="59.9" fill="none" stroke="#8a8a8a" stroke-width="0.8"/>
<rect x="10" y="225.8" width="126.7" height="59.4" fill="none" stroke="#8a8a8a" stroke-width="0.8"/>
<rect x="139.6" y="225.8" width="126.7" height="59.4" fill="none" stroke="#8a8a8a" stroke-width="0.8"/>
<text x="11.8" y="169.8" font-size="7.6" fill="#e8e8e8" stroke="#e8e8e8" stroke-width="0.2">Fga<tspan font-size="5.2" dy="-3.19">WT/WT</tspan></text>
<text x="142.2" y="169.9" font-size="7.6" fill="#e8e8e8" stroke="#e8e8e8" stroke-width="0.2">Fga<tspan font-size="5.2" dy="-3.19">WT/270</tspan></text>
<text x="11.8" y="235.5" font-size="7.6" fill="#e8e8e8" stroke="#e8e8e8" stroke-width="0.2">Fga<tspan font-size="5.2" dy="-3.19">270/270</tspan></text>
<text x="142.6" y="234.2" font-size="7.6" fill="#e8e8e8" stroke="#e8e8e8" stroke-width="0.2">Fga<tspan font-size="5.2" dy="-3.19">−/−</tspan></text>
<text x="244.8" y="158.6" font-size="4.6" stroke="#e8e8e8" stroke-width="0.18" fill="#e8e8e8" textLength="19.5" lengthAdjust="spacingAndGlyphs" >0:07:29</text>
<line x1="110.2" y1="223.1" x2="135" y2="223.1" stroke="#e8e8e8" stroke-width="0.8" />
<line x1="110.2" y1="222.1" x2="110.2" y2="224.1" stroke="#e8e8e8" stroke-width="0.6" />
<line x1="135" y1="222.1" x2="135" y2="224.1" stroke="#e8e8e8" stroke-width="0.6" />
<text x="122.6" y="221.7" font-size="2.6" stroke="#cfcfcf" stroke-width="0.18" text-anchor="middle" fill="#cfcfcf" >100 µm</text>
<line x1="239.4" y1="223.1" x2="264.2" y2="223.1" stroke="#e8e8e8" stroke-width="0.8" />
<line x1="239.4" y1="222.1" x2="239.4" y2="224.1" stroke="#e8e8e8" stroke-width="0.6" />
<line x1="264.2" y1="222.1" x2="264.2" y2="224.1" stroke="#e8e8e8" stroke-width="0.6" />
<text x="251.8" y="221.7" font-size="2.6" stroke="#cfcfcf" stroke-width="0.18" text-anchor="middle" fill="#cfcfcf" >100 µm</text>
<line x1="110.2" y1="289.4" x2="135" y2="289.4" stroke="#e8e8e8" stroke-width="0.8" />
<line x1="110.2" y1="288.4" x2="110.2" y2="290.4" stroke="#e8e8e8" stroke-width="0.6" />
<line x1="135" y1="288.4" x2="135" y2="290.4" stroke="#e8e8e8" stroke-width="0.6" />
<text x="122.6" y="288" font-size="2.6" stroke="#cfcfcf" stroke-width="0.18" text-anchor="middle" fill="#cfcfcf" >100 µm</text>
<line x1="237.3" y1="289.4" x2="262.7" y2="289.4" stroke="#e8e8e8" stroke-width="0.8" />
<line x1="237.3" y1="288.4" x2="237.3" y2="290.4" stroke="#e8e8e8" stroke-width="0.6" />
<line x1="262.7" y1="288.4" x2="262.7" y2="290.4" stroke="#e8e8e8" stroke-width="0.6" />
<text x="250" y="288" font-size="2.6" stroke="#cfcfcf" stroke-width="0.18" text-anchor="middle" fill="#cfcfcf" >100 µm</text>
<line x1="315.6" y1="168.5" x2="315.6" y2="258.1" stroke="#231f20" stroke-width="1" />
<line x1="315.1" y1="257.6" x2="482" y2="257.6" stroke="#231f20" stroke-width="1" />
<line x1="313" y1="257.6" x2="315.6" y2="257.6" stroke="#231f20" stroke-width="0.9" />
<text x="309.7" y="260.6" font-size="8.5" stroke="#231f20" stroke-width="0.18" text-anchor="end" textLength="4.21" lengthAdjust="spacingAndGlyphs" >0</text>
<line x1="314.1" y1="250.47" x2="315.6" y2="250.47" stroke="#231f20" stroke-width="0.8" />
<line x1="313" y1="243.34" x2="315.6" y2="243.34" stroke="#231f20" stroke-width="0.9" />
<text x="309.7" y="246.34" font-size="8.5" stroke="#231f20" stroke-width="0.18" text-anchor="end" textLength="16.82" lengthAdjust="spacingAndGlyphs" >2000</text>
<line x1="314.1" y1="236.21" x2="315.6" y2="236.21" stroke="#231f20" stroke-width="0.8" />
<line x1="313" y1="229.08" x2="315.6" y2="229.08" stroke="#231f20" stroke-width="0.9" />
<text x="309.7" y="232.08" font-size="8.5" stroke="#231f20" stroke-width="0.18" text-anchor="end" textLength="16.82" lengthAdjust="spacingAndGlyphs" >4000</text>
<line x1="314.1" y1="221.95" x2="315.6" y2="221.95" stroke="#231f20" stroke-width="0.8" />
<line x1="313" y1="214.82" x2="315.6" y2="214.82" stroke="#231f20" stroke-width="0.9" />
<text x="309.7" y="217.82" font-size="8.5" stroke="#231f20" stroke-width="0.18" text-anchor="end" textLength="16.82" lengthAdjust="spacingAndGlyphs" >6000</text>
<line x1="314.1" y1="207.69" x2="315.6" y2="207.69" stroke="#231f20" stroke-width="0.8" />
<line x1="313" y1="200.56" x2="315.6" y2="200.56" stroke="#231f20" stroke-width="0.9" />
<text x="309.7" y="203.56" font-size="8.5" stroke="#231f20" stroke-width="0.18" text-anchor="end" textLength="16.82" lengthAdjust="spacingAndGlyphs" >8000</text>
<line x1="314.1" y1="193.43" x2="315.6" y2="193.43" stroke="#231f20" stroke-width="0.8" />
<line x1="313" y1="186.3" x2="315.6" y2="186.3" stroke="#231f20" stroke-width="0.9" />
<text x="309.7" y="189.3" font-size="8.5" stroke="#231f20" stroke-width="0.18" text-anchor="end" textLength="21.03" lengthAdjust="spacingAndGlyphs" >10000</text>
<line x1="314.1" y1="179.17" x2="315.6" y2="179.17" stroke="#231f20" stroke-width="0.8" />
<line x1="313" y1="172.04" x2="315.6" y2="172.04" stroke="#231f20" stroke-width="0.9" />
<text x="309.7" y="175.04" font-size="8.5" stroke="#231f20" stroke-width="0.18" text-anchor="end" textLength="21.03" lengthAdjust="spacingAndGlyphs" >12000</text>
<line x1="315.6" y1="257.6" x2="315.6" y2="260.2" stroke="#231f20" stroke-width="0.9" />
<line x1="396.5" y1="257.6" x2="396.5" y2="260.2" stroke="#231f20" stroke-width="0.9" />
<line x1="477.4" y1="257.6" x2="477.4" y2="260.2" stroke="#231f20" stroke-width="0.9" />
<text x="315.6" y="269.7" font-size="8.5" stroke="#231f20" stroke-width="0.18" text-anchor="middle" textLength="4.2" lengthAdjust="spacingAndGlyphs" >0</text>
<text x="396.5" y="269.7" font-size="8.5" stroke="#231f20" stroke-width="0.18" text-anchor="middle" textLength="4.2" lengthAdjust="spacingAndGlyphs" >5</text>
<text x="477.4" y="269.7" font-size="8.5" stroke="#231f20" stroke-width="0.18" text-anchor="middle" textLength="8.4" lengthAdjust="spacingAndGlyphs" >10</text>
<text x="399" y="282.1" font-size="9" stroke="#231f20" stroke-width="0.18" text-anchor="middle" textLength="37.2" lengthAdjust="spacingAndGlyphs" >Time (min)</text>
<text transform="translate(282.3,213) rotate(-90)" font-size="8.6" stroke="#231f20" stroke-width="0.18" text-anchor="middle" textLength="114" lengthAdjust="spacingAndGlyphs" >Mean platelet fluorescence (RFU)</text>
<path d="M315.6,252.0 L316.1,252.0 L316.6,252.0 L317.1,252.0 L317.6,252.0 L318.1,251.9 L318.6,251.9 L319.1,251.9 L319.6,251.8 L320.1,251.8 L320.6,251.7 L321.1,251.7 L321.6,251.6 L322.1,251.5 L322.6,251.5 L323.1,251.4 L323.6,251.3 L324.1,251.2 L324.6,251.1 L325.1,251.0 L325.6,250.9 L326.1,250.8 L326.6,250.7 L327.1,250.6 L327.6,250.5 L328.1,250.3 L328.6,250.2 L329.1,250.1 L329.6,249.9 L330.1,249.8 L330.6,249.6 L331.1,249.5 L331.6,249.3 L332.1,249.2 L332.6,249.0 L333.1,248.8 L333.6,248.7 L334.1,248.5 L334.6,248.3 L335.1,248.1 L335.6,247.8 L336.1,247.4 L336.6,247.0 L337.1,246.5 L337.6,246.0 L338.1,245.5 L338.6,244.9 L339.1,244.3 L339.6,243.7 L340.1,243.0 L340.6,242.4 L341.1,241.8 L341.6,241.2 L342.1,240.5 L342.6,239.7 L343.1,239.0 L343.6,238.2 L344.1,237.4 L344.6,236.5 L345.1,235.7 L345.6,234.8 L346.1,234.0 L346.6,233.2 L347.1,232.3 L347.6,231.6 L348.1,230.8 L348.6,230.0 L349.1,229.3 L349.6,228.5 L350.1,227.8 L350.6,227.1 L351.1,226.3 L351.6,225.6 L352.1,224.8 L352.6,224.1 L353.1,223.3 L353.6,222.5 L354.1,221.8 L354.6,221.0 L355.1,220.1 L355.6,219.3 L356.1,218.5 L356.6,217.6 L357.1,216.8 L357.6,215.9 L358.1,215.1 L358.6,214.2 L359.1,213.4 L359.6,212.5 L360.1,211.7 L360.6,210.8 L361.1,210.0 L361.6,209.2 L362.1,208.4 L362.6,207.6 L363.1,206.8 L363.6,206.0 L364.1,205.2 L364.6,204.4 L365.1,203.6 L365.6,202.8 L366.1,202.0 L366.6,201.2 L367.1,200.3 L367.6,199.5 L368.1,198.6 L368.6,197.7 L369.1,196.8 L369.6,195.9 L370.1,195.0 L370.6,194.0 L371.1,193.1 L371.6,192.3 L372.1,191.4 L372.6,190.6 L373.1,189.9 L373.6,189.1 L374.1,188.4 L374.6,187.7 L375.1,187.0 L375.6,186.3 L376.1,185.6 L376.6,185.0 L377.1,184.3 L377.6,183.7 L378.1,183.1 L378.6,182.5 L379.1,182.0 L379.6,181.4 L380.1,180.9 L380.6,180.4 L381.1,179.9 L381.6,179.3 L382.1,178.8 L382.6,178.3 L383.1,177.8 L383.6,177.3 L384.1,176.9 L384.6,176.5 L385.1,176.1 L385.6,175.7 L386.1,175.4 L386.6,175.2 L387.1,175.0 L387.6,174.8 L388.1,174.6 L388.6,174.4 L389.1,174.3 L389.6,174.1 L390.1,174.0 L390.6,173.9 L391.1,173.9 L391.6,173.8 L392.1,173.8 L392.6,173.8 L393.1,173.9 L393.6,174.0 L394.1,174.1 L394.6,174.2 L395.1,174.4 L395.6,174.6 L396.1,174.7 L396.6,174.9 L397.1,175.1 L397.6,175.2 L398.1,175.4 L398.6,175.6 L399.1,175.8 L399.6,176.0 L400.1,176.2 L400.6,176.4 L401.1,176.6 L401.6,176.8 L402.1,177.1 L402.6,177.3 L403.1,177.6 L403.6,177.9 L404.1,178.2 L404.6,178.5 L405.1,178.9 L405.6,179.3 L406.1,179.7 L406.6,180.1 L407.1,180.5 L407.6,180.9 L408.1,181.4 L408.6,181.8 L409.1,182.2 L409.6,182.6 L410.1,182.9 L410.6,183.3 L411.1,183.6 L411.6,183.9 L412.1,184.2 L412.6,184.5 L413.1,184.8 L413.6,185.1 L414.1,185.4 L414.6,185.6 L415.1,185.9 L415.6,186.2 L416.1,186.5 L416.6,186.7 L417.1,187.0 L417.6,187.2 L418.1,187.5 L418.6,187.8 L419.1,188.0 L419.6,188.3 L420.1,188.6 L420.6,188.8 L421.1,189.1 L421.6,189.3 L422.1,189.6 L422.6,189.9 L423.1,190.1 L423.6,190.4 L424.1,190.6 L424.6,190.8 L425.1,191.1 L425.6,191.3 L426.1,191.5 L426.6,191.8 L427.1,192.0 L427.6,192.2 L428.1,192.5 L428.6,192.7 L429.1,192.9 L429.6,193.1 L430.1,193.4 L430.6,193.6 L431.1,193.8 L431.6,194.1 L432.1,194.3 L432.6,194.5 L433.1,194.7 L433.6,195.0 L434.1,195.2 L434.6,195.4 L435.1,195.6 L435.6,195.8 L436.1,196.1 L436.6,196.3 L437.1,196.5 L437.6,196.7 L438.1,196.9 L438.6,197.1 L439.1,197.3 L439.6,197.5 L440.1,197.7 L440.6,197.9 L441.1,198.1 L441.6,198.3 L442.1,198.5 L442.6,198.7 L443.1,198.8 L443.6,199.0 L444.1,199.2 L444.6,199.4 L445.1,199.5 L445.6,199.7 L446.1,199.9 L446.6,200.0 L447.1,200.2 L447.6,200.3 L448.1,200.4 L448.6,200.6 L449.1,200.7 L449.6,200.9 L450.1,201.0 L450.6,201.1 L451.1,201.3 L451.6,201.4 L452.1,201.5 L452.6,201.7 L453.1,201.8 L453.6,201.9 L454.1,202.1 L454.6,202.2 L455.1,202.3 L455.6,202.4 L456.1,202.6 L456.6,202.7 L457.1,202.8 L457.6,202.9 L458.1,203.1 L458.6,203.2 L459.1,203.3 L459.6,203.4 L460.1,203.5 L460.6,203.6 L461.1,203.8 L461.6,203.9 L462.1,204.0 L462.6,204.1 L463.1,204.2 L463.6,204.3 L464.1,204.4 L464.6,204.5 L465.1,204.6 L465.6,204.7 L466.1,204.8 L466.6,204.9 L467.1,205.0 L467.6,205.1 L468.1,205.2 L468.6,205.3 L469.1,205.4 L469.6,205.4 L470.1,205.5 L470.6,205.6 L471.1,205.7 L471.6,205.8 L472.1,205.8 L472.6,205.9 L473.1,206.0 L473.6,206.0 L474.1,206.1 L474.6,206.2 L475.1,206.2 L475.6,206.3 L476.1,206.3 L476.6,206.4 L477.1,206.4 L477.6,206.5 L477.6,228.5 L477.1,228.4 L476.6,228.4 L476.1,228.3 L475.6,228.3 L475.1,228.2 L474.6,228.1 L474.1,228.1 L473.6,228.0 L473.1,227.9 L472.6,227.9 L472.1,227.8 L471.6,227.7 L471.1,227.7 L470.6,227.6 L470.1,227.5 L469.6,227.4 L469.1,227.4 L468.6,227.3 L468.1,227.2 L467.6,227.1 L467.1,227.1 L466.6,227.0 L466.1,226.9 L465.6,226.8 L465.1,226.8 L464.6,226.7 L464.1,226.6 L463.6,226.5 L463.1,226.4 L462.6,226.3 L462.1,226.3 L461.6,226.2 L461.1,226.1 L460.6,226.0 L460.1,225.9 L459.6,225.8 L459.1,225.7 L458.6,225.6 L458.1,225.6 L457.6,225.5 L457.1,225.4 L456.6,225.3 L456.1,225.2 L455.6,225.1 L455.1,225.0 L454.6,224.9 L454.1,224.8 L453.6,224.7 L453.1,224.6 L452.6,224.5 L452.1,224.4 L451.6,224.3 L451.1,224.2 L450.6,224.1 L450.1,224.0 L449.6,223.9 L449.1,223.8 L448.6,223.7 L448.1,223.6 L447.6,223.5 L447.1,223.3 L446.6,223.2 L446.1,223.1 L445.6,223.0 L445.1,222.9 L444.6,222.7 L444.1,222.6 L443.6,222.5 L443.1,222.3 L442.6,222.2 L442.1,222.0 L441.6,221.9 L441.1,221.7 L440.6,221.6 L440.1,221.4 L439.6,221.2 L439.1,221.0 L438.6,220.8 L438.1,220.6 L437.6,220.4 L437.1,220.2 L436.6,220.0 L436.1,219.8 L435.6,219.5 L435.1,219.3 L434.6,219.1 L434.1,218.9 L433.6,218.6 L433.1,218.4 L432.6,218.2 L432.1,217.9 L431.6,217.7 L431.1,217.5 L430.6,217.3 L430.1,217.0 L429.6,216.8 L429.1,216.6 L428.6,216.4 L428.1,216.1 L427.6,215.9 L427.1,215.6 L426.6,215.4 L426.1,215.2 L425.6,214.9 L425.1,214.7 L424.6,214.4 L424.1,214.2 L423.6,213.9 L423.1,213.7 L422.6,213.5 L422.1,213.3 L421.6,213.1 L421.1,212.9 L420.6,212.7 L420.1,212.5 L419.6,212.4 L419.1,212.2 L418.6,212.1 L418.1,211.9 L417.6,211.8 L417.1,211.6 L416.6,211.5 L416.1,211.4 L415.6,211.2 L415.1,211.1 L414.6,211.0 L414.1,210.9 L413.6,210.7 L413.1,210.6 L412.6,210.5 L412.1,210.4 L411.6,210.3 L411.1,210.2 L410.6,210.1 L410.1,210.0 L409.6,209.9 L409.1,209.8 L408.6,209.7 L408.1,209.6 L407.6,209.5 L407.1,209.4 L406.6,209.3 L406.1,209.2 L405.6,209.1 L405.1,209.0 L404.6,208.9 L404.1,208.9 L403.6,208.8 L403.1,208.7 L402.6,208.7 L402.1,208.6 L401.6,208.6 L401.1,208.5 L400.6,208.5 L400.1,208.5 L399.6,208.5 L399.1,208.5 L398.6,208.5 L398.1,208.5 L397.6,208.5 L397.1,208.5 L396.6,208.5 L396.1,208.5 L395.6,208.5 L395.1,208.5 L394.6,208.5 L394.1,208.5 L393.6,208.6 L393.1,208.7 L392.6,208.7 L392.1,208.8 L391.6,208.9 L391.1,209.0 L390.6,209.2 L390.1,209.3 L389.6,209.4 L389.1,209.6 L388.6,209.7 L388.1,210.0 L387.6,210.2 L387.1,210.4 L386.6,210.7 L386.1,211.0 L385.6,211.3 L385.1,211.5 L384.6,211.8 L384.1,212.2 L383.6,212.5 L383.1,212.9 L382.6,213.3 L382.1,213.7 L381.6,214.1 L381.1,214.6 L380.6,215.0 L380.1,215.4 L379.6,215.9 L379.1,216.3 L378.6,216.8 L378.1,217.3 L377.6,217.7 L377.1,218.2 L376.6,218.7 L376.1,219.2 L375.6,219.7 L375.1,220.2 L374.6,220.7 L374.1,221.1 L373.6,221.6 L373.1,222.1 L372.6,222.5 L372.1,223.0 L371.6,223.4 L371.1,223.9 L370.6,224.3 L370.1,224.8 L369.6,225.3 L369.1,225.7 L368.6,226.2 L368.1,226.7 L367.6,227.2 L367.1,227.7 L366.6,228.2 L366.1,228.8 L365.6,229.3 L365.1,229.9 L364.6,230.4 L364.1,231.0 L363.6,231.6 L363.1,232.1 L362.6,232.7 L362.1,233.3 L361.6,233.8 L361.1,234.3 L360.6,234.8 L360.1,235.3 L359.6,235.8 L359.1,236.2 L358.6,236.7 L358.1,237.2 L357.6,237.6 L357.1,238.1 L356.6,238.5 L356.1,238.9 L355.6,239.4 L355.1,239.8 L354.6,240.2 L354.1,240.6 L353.6,241.0 L353.1,241.4 L352.6,241.8 L352.1,242.2 L351.6,242.5 L351.1,242.9 L350.6,243.3 L350.1,243.6 L349.6,244.0 L349.1,244.3 L348.6,244.6 L348.1,244.9 L347.6,245.2 L347.1,245.4 L346.6,245.6 L346.1,245.9 L345.6,246.1 L345.1,246.3 L344.6,246.5 L344.1,246.7 L343.6,246.8 L343.1,247.0 L342.6,247.2 L342.1,247.4 L341.6,247.5 L341.1,247.7 L340.6,247.9 L340.1,248.0 L339.6,248.2 L339.1,248.4 L338.6,248.5 L338.1,248.7 L337.6,248.8 L337.1,249.0 L336.6,249.1 L336.1,249.2 L335.6,249.4 L335.1,249.5 L334.6,249.6 L334.1,249.7 L333.6,249.8 L333.1,249.9 L332.6,250.1 L332.1,250.2 L331.6,250.3 L331.1,250.4 L330.6,250.5 L330.1,250.6 L329.6,250.7 L329.1,250.8 L328.6,250.9 L328.1,251.0 L327.6,251.1 L327.1,251.2 L326.6,251.3 L326.1,251.4 L325.6,251.5 L325.1,251.6 L324.6,251.7 L324.1,251.8 L323.6,251.9 L323.1,252.0 L322.6,252.1 L322.1,252.2 L321.6,252.2 L321.1,252.3 L320.6,252.4 L320.1,252.5 L319.6,252.5 L319.1,252.6 L318.6,252.7 L318.1,252.7 L317.6,252.8 L317.1,252.8 L316.6,252.9 L316.1,253.0 L315.6,253.0Z" fill="url(#pr)"/>
<path d="M315.6,252.8 L316.1,252.8 L316.6,252.8 L317.1,252.8 L317.6,252.8 L318.1,252.8 L318.6,252.7 L319.1,252.7 L319.6,252.7 L320.1,252.7 L320.6,252.6 L321.1,252.6 L321.6,252.6 L322.1,252.5 L322.6,252.5 L323.1,252.5 L323.6,252.4 L324.1,252.4 L324.6,252.3 L325.1,252.3 L325.6,252.2 L326.1,252.1 L326.6,252.1 L327.1,252.0 L327.6,252.0 L328.1,251.9 L328.6,251.8 L329.1,251.8 L329.6,251.7 L330.1,251.6 L330.6,251.5 L331.1,251.5 L331.6,251.4 L332.1,251.3 L332.6,251.2 L333.1,251.1 L333.6,251.1 L334.1,251.0 L334.6,250.9 L335.1,250.8 L335.6,250.7 L336.1,250.6 L336.6,250.5 L337.1,250.4 L337.6,250.3 L338.1,250.2 L338.6,250.1 L339.1,250.0 L339.6,249.9 L340.1,249.8 L340.6,249.7 L341.1,249.6 L341.6,249.5 L342.1,249.4 L342.6,249.3 L343.1,249.1 L343.6,249.0 L344.1,248.8 L344.6,248.6 L345.1,248.4 L345.6,248.2 L346.1,248.0 L346.6,247.8 L347.1,247.6 L347.6,247.4 L348.1,247.2 L348.6,246.9 L349.1,246.7 L349.6,246.5 L350.1,246.3 L350.6,246.0 L351.1,245.8 L351.6,245.5 L352.1,245.3 L352.6,245.0 L353.1,244.7 L353.6,244.4 L354.1,244.2 L354.6,243.9 L355.1,243.6 L355.6,243.3 L356.1,243.0 L356.6,242.7 L357.1,242.4 L357.6,242.1 L358.1,241.8 L358.6,241.5 L359.1,241.2 L359.6,240.9 L360.1,240.6 L360.6,240.4 L361.1,240.1 L361.6,239.8 L362.1,239.5 L362.6,239.1 L363.1,238.8 L363.6,238.5 L364.1,238.2 L364.6,237.9 L365.1,237.6 L365.6,237.3 L366.1,236.9 L366.6,236.6 L367.1,236.3 L367.6,236.0 L368.1,235.6 L368.6,235.3 L369.1,234.9 L369.6,234.6 L370.1,234.2 L370.6,233.9 L371.1,233.5 L371.6,233.2 L372.1,232.8 L372.6,232.5 L373.1,232.2 L373.6,231.9 L374.1,231.6 L374.6,231.4 L375.1,231.1 L375.6,230.9 L376.1,230.7 L376.6,230.5 L377.1,230.3 L377.6,230.0 L378.1,229.8 L378.6,229.6 L379.1,229.4 L379.6,229.2 L380.1,229.1 L380.6,228.9 L381.1,228.7 L381.6,228.6 L382.1,228.5 L382.6,228.4 L383.1,228.3 L383.6,228.2 L384.1,228.1 L384.6,228.1 L385.1,228.1 L385.6,228.1 L386.1,228.1 L386.6,228.1 L387.1,228.1 L387.6,228.2 L388.1,228.2 L388.6,228.2 L389.1,228.2 L389.6,228.3 L390.1,228.3 L390.6,228.3 L391.1,228.4 L391.6,228.4 L392.1,228.4 L392.6,228.5 L393.1,228.5 L393.6,228.6 L394.1,228.6 L394.6,228.7 L395.1,228.8 L395.6,228.8 L396.1,228.9 L396.6,229.0 L397.1,229.1 L397.6,229.3 L398.1,229.4 L398.6,229.5 L399.1,229.7 L399.6,229.9 L400.1,230.0 L400.6,230.2 L401.1,230.4 L401.6,230.6 L402.1,230.8 L402.6,231.0 L403.1,231.2 L403.6,231.4 L404.1,231.6 L404.6,231.7 L405.1,231.9 L405.6,232.1 L406.1,232.3 L406.6,232.5 L407.1,232.7 L407.6,232.9 L408.1,233.2 L408.6,233.4 L409.1,233.6 L409.6,233.8 L410.1,234.0 L410.6,234.2 L411.1,234.4 L411.6,234.6 L412.1,234.7 L412.6,234.9 L413.1,235.0 L413.6,235.1 L414.1,235.3 L414.6,235.4 L415.1,235.5 L415.6,235.6 L416.1,235.8 L416.6,235.9 L417.1,236.0 L417.6,236.1 L418.1,236.2 L418.6,236.3 L419.1,236.4 L419.6,236.4 L420.1,236.5 L420.6,236.6 L421.1,236.7 L421.6,236.7 L422.1,236.8 L422.6,236.9 L423.1,236.9 L423.6,237.0 L424.1,237.1 L424.6,237.1 L425.1,237.2 L425.6,237.3 L426.1,237.3 L426.6,237.4 L427.1,237.4 L427.6,237.5 L428.1,237.5 L428.6,237.6 L429.1,237.7 L429.6,237.7 L430.1,237.8 L430.6,237.8 L431.1,237.9 L431.6,237.9 L432.1,237.9 L432.6,238.0 L433.1,238.0 L433.6,238.1 L434.1,238.1 L434.6,238.1 L435.1,238.2 L435.6,238.2 L436.1,238.2 L436.6,238.3 L437.1,238.3 L437.6,238.3 L438.1,238.4 L438.6,238.4 L439.1,238.4 L439.6,238.5 L440.1,238.5 L440.6,238.5 L441.1,238.6 L441.6,238.6 L442.1,238.6 L442.6,238.6 L443.1,238.7 L443.6,238.7 L444.1,238.7 L444.6,238.7 L445.1,238.8 L445.6,238.8 L446.1,238.8 L446.6,238.8 L447.1,238.9 L447.6,238.9 L448.1,238.9 L448.6,238.9 L449.1,239.0 L449.6,239.0 L450.1,239.0 L450.6,239.0 L451.1,239.0 L451.6,239.1 L452.1,239.1 L452.6,239.1 L453.1,239.1 L453.6,239.2 L454.1,239.2 L454.6,239.2 L455.1,239.2 L455.6,239.2 L456.1,239.3 L456.6,239.3 L457.1,239.3 L457.6,239.3 L458.1,239.3 L458.6,239.4 L459.1,239.4 L459.6,239.4 L460.1,239.4 L460.6,239.4 L461.1,239.5 L461.6,239.5 L462.1,239.5 L462.6,239.5 L463.1,239.5 L463.6,239.6 L464.1,239.6 L464.6,239.6 L465.1,239.6 L465.6,239.6 L466.1,239.7 L466.6,239.7 L467.1,239.7 L467.6,239.7 L468.1,239.7 L468.6,239.7 L469.1,239.8 L469.6,239.8 L470.1,239.8 L470.6,239.8 L471.1,239.8 L471.6,239.8 L472.1,239.8 L472.6,239.9 L473.1,239.9 L473.6,239.9 L474.1,239.9 L474.6,239.9 L475.1,239.9 L475.6,239.9 L476.1,240.0 L476.6,240.0 L477.1,240.0 L477.6,240.0 L477.6,246.0 L477.1,246.0 L476.6,246.0 L476.1,246.0 L475.6,246.0 L475.1,245.9 L474.6,245.9 L474.1,245.9 L473.6,245.9 L473.1,245.9 L472.6,245.9 L472.1,245.9 L471.6,245.9 L471.1,245.9 L470.6,245.9 L470.1,245.9 L469.6,245.8 L469.1,245.8 L468.6,245.8 L468.1,245.8 L467.6,245.8 L467.1,245.8 L466.6,245.8 L466.1,245.8 L465.6,245.8 L465.1,245.8 L464.6,245.8 L464.1,245.8 L463.6,245.8 L463.1,245.7 L462.6,245.7 L462.1,245.7 L461.6,245.7 L461.1,245.7 L460.6,245.7 L460.1,245.7 L459.6,245.7 L459.1,245.7 L458.6,245.7 L458.1,245.7 L457.6,245.7 L457.1,245.7 L456.6,245.7 L456.1,245.7 L455.6,245.6 L455.1,245.6 L454.6,245.6 L454.1,245.6 L453.6,245.6 L453.1,245.6 L452.6,245.6 L452.1,245.6 L451.6,245.6 L451.1,245.6 L450.6,245.6 L450.1,245.6 L449.6,245.6 L449.1,245.6 L448.6,245.6 L448.1,245.6 L447.6,245.6 L447.1,245.6 L446.6,245.6 L446.1,245.6 L445.6,245.6 L445.1,245.6 L444.6,245.6 L444.1,245.6 L443.6,245.6 L443.1,245.6 L442.6,245.5 L442.1,245.5 L441.6,245.5 L441.1,245.5 L440.6,245.5 L440.1,245.5 L439.6,245.5 L439.1,245.5 L438.6,245.5 L438.1,245.5 L437.6,245.5 L437.1,245.5 L436.6,245.5 L436.1,245.5 L435.6,245.4 L435.1,245.4 L434.6,245.4 L434.1,245.4 L433.6,245.4 L433.1,245.4 L432.6,245.4 L432.1,245.3 L431.6,245.3 L431.1,245.3 L430.6,245.3 L430.1,245.2 L429.6,245.2 L429.1,245.2 L428.6,245.2 L428.1,245.1 L427.6,245.1 L427.1,245.1 L426.6,245.0 L426.1,245.0 L425.6,245.0 L425.1,244.9 L424.6,244.9 L424.1,244.9 L423.6,244.8 L423.1,244.8 L422.6,244.7 L422.1,244.7 L421.6,244.7 L421.1,244.6 L420.6,244.6 L420.1,244.5 L419.6,244.5 L419.1,244.4 L418.6,244.4 L418.1,244.3 L417.6,244.2 L417.1,244.2 L416.6,244.1 L416.1,244.0 L415.6,243.9 L415.1,243.9 L414.6,243.8 L414.1,243.7 L413.6,243.6 L413.1,243.5 L412.6,243.4 L412.1,243.3 L411.6,243.2 L411.1,243.1 L410.6,243.0 L410.1,242.9 L409.6,242.7 L409.1,242.6 L408.6,242.4 L408.1,242.2 L407.6,242.1 L407.1,241.9 L406.6,241.8 L406.1,241.6 L405.6,241.5 L405.1,241.3 L404.6,241.2 L404.1,241.1 L403.6,241.0 L403.1,240.8 L402.6,240.7 L402.1,240.6 L401.6,240.4 L401.1,240.3 L400.6,240.2 L400.1,240.0 L399.6,239.9 L399.1,239.8 L398.6,239.7 L398.1,239.6 L397.6,239.5 L397.1,239.4 L396.6,239.4 L396.1,239.3 L395.6,239.3 L395.1,239.3 L394.6,239.2 L394.1,239.2 L393.6,239.2 L393.1,239.2 L392.6,239.2 L392.1,239.2 L391.6,239.2 L391.1,239.2 L390.6,239.2 L390.1,239.1 L389.6,239.1 L389.1,239.1 L388.6,239.1 L388.1,239.1 L387.6,239.1 L387.1,239.1 L386.6,239.1 L386.1,239.1 L385.6,239.1 L385.1,239.1 L384.6,239.1 L384.1,239.1 L383.6,239.2 L383.1,239.2 L382.6,239.3 L382.1,239.4 L381.6,239.5 L381.1,239.6 L380.6,239.7 L380.1,239.8 L379.6,239.9 L379.1,240.1 L378.6,240.2 L378.1,240.3 L377.6,240.5 L377.1,240.6 L376.6,240.8 L376.1,240.9 L375.6,241.0 L375.1,241.2 L374.6,241.3 L374.1,241.5 L373.6,241.7 L373.1,241.9 L372.6,242.1 L372.1,242.3 L371.6,242.6 L371.1,242.8 L370.6,243.0 L370.1,243.3 L369.6,243.6 L369.1,243.8 L368.6,244.0 L368.1,244.3 L367.6,244.5 L367.1,244.7 L366.6,244.9 L366.1,245.2 L365.6,245.4 L365.1,245.6 L364.6,245.8 L364.1,246.0 L363.6,246.2 L363.1,246.4 L362.6,246.6 L362.1,246.8 L361.6,247.1 L361.1,247.3 L360.6,247.5 L360.1,247.7 L359.6,247.9 L359.1,248.1 L358.6,248.3 L358.1,248.4 L357.6,248.6 L357.1,248.8 L356.6,249.0 L356.1,249.2 L355.6,249.4 L355.1,249.6 L354.6,249.7 L354.1,249.9 L353.6,250.1 L353.1,250.2 L352.6,250.4 L352.1,250.5 L351.6,250.7 L351.1,250.8 L350.6,250.9 L350.1,251.1 L349.6,251.2 L349.1,251.3 L348.6,251.4 L348.1,251.5 L347.6,251.6 L347.1,251.7 L346.6,251.9 L346.1,252.0 L345.6,252.1 L345.1,252.2 L344.6,252.3 L344.1,252.3 L343.6,252.4 L343.1,252.5 L342.6,252.6 L342.1,252.6 L341.6,252.7 L341.1,252.8 L340.6,252.8 L340.1,252.9 L339.6,252.9 L339.1,253.0 L338.6,253.0 L338.1,253.1 L337.6,253.1 L337.1,253.2 L336.6,253.2 L336.1,253.3 L335.6,253.3 L335.1,253.4 L334.6,253.4 L334.1,253.5 L333.6,253.5 L333.1,253.5 L332.6,253.6 L332.1,253.6 L331.6,253.7 L331.1,253.7 L330.6,253.7 L330.1,253.8 L329.6,253.8 L329.1,253.9 L328.6,253.9 L328.1,253.9 L327.6,254.0 L327.1,254.0 L326.6,254.0 L326.1,254.1 L325.6,254.1 L325.1,254.1 L324.6,254.1 L324.1,254.2 L323.6,254.2 L323.1,254.2 L322.6,254.2 L322.1,254.3 L321.6,254.3 L321.1,254.3 L320.6,254.3 L320.1,254.3 L319.6,254.3 L319.1,254.4 L318.6,254.4 L318.1,254.4 L317.6,254.4 L317.1,254.4 L316.6,254.4 L316.1,254.4 L315.6,254.4Z" fill="url(#pp)" opacity="0.9"/>
<path d="M315.6,252.5 L316.1,252.5 L316.6,252.5 L317.1,252.5 L317.6,252.5 L318.1,252.4 L318.6,252.4 L319.1,252.4 L319.6,252.4 L320.1,252.3 L320.6,252.3 L321.1,252.3 L321.6,252.2 L322.1,252.2 L322.6,252.1 L323.1,252.1 L323.6,252.0 L324.1,251.9 L324.6,251.9 L325.1,251.8 L325.6,251.7 L326.1,251.7 L326.6,251.6 L327.1,251.5 L327.6,251.4 L328.1,251.4 L328.6,251.3 L329.1,251.2 L329.6,251.1 L330.1,251.0 L330.6,250.9 L331.1,250.8 L331.6,250.7 L332.1,250.6 L332.6,250.5 L333.1,250.4 L333.6,250.3 L334.1,250.2 L334.6,250.1 L335.1,250.0 L335.6,249.9 L336.1,249.7 L336.6,249.6 L337.1,249.5 L337.6,249.4 L338.1,249.3 L338.6,249.1 L339.1,249.0 L339.6,248.9 L340.1,248.8 L340.6,248.6 L341.1,248.5 L341.6,248.4 L342.1,248.2 L342.6,248.0 L343.1,247.8 L343.6,247.6 L344.1,247.3 L344.6,247.1 L345.1,246.9 L345.6,246.6 L346.1,246.3 L346.6,246.1 L347.1,245.8 L347.6,245.5 L348.1,245.3 L348.6,245.0 L349.1,244.8 L349.6,244.5 L350.1,244.2 L350.6,244.0 L351.1,243.7 L351.6,243.4 L352.1,243.1 L352.6,242.8 L353.1,242.5 L353.6,242.2 L354.1,241.9 L354.6,241.5 L355.1,241.2 L355.6,240.8 L356.1,240.4 L356.6,240.0 L357.1,239.6 L357.6,239.2 L358.1,238.8 L358.6,238.4 L359.1,238.0 L359.6,237.6 L360.1,237.2 L360.6,236.8 L361.1,236.4 L361.6,236.0 L362.1,235.7 L362.6,235.3 L363.1,234.9 L363.6,234.5 L364.1,234.1 L364.6,233.7 L365.1,233.3 L365.6,232.9 L366.1,232.5 L366.6,232.0 L367.1,231.6 L367.6,231.2 L368.1,230.7 L368.6,230.2 L369.1,229.7 L369.6,229.2 L370.1,228.7 L370.6,228.2 L371.1,227.7 L371.6,227.2 L372.1,226.7 L372.6,226.2 L373.1,225.7 L373.6,225.2 L374.1,224.7 L374.6,224.2 L375.1,223.7 L375.6,223.2 L376.1,222.8 L376.6,222.3 L377.1,221.8 L377.6,221.3 L378.1,220.8 L378.6,220.4 L379.1,219.9 L379.6,219.5 L380.1,219.2 L380.6,218.8 L381.1,218.5 L381.6,218.2 L382.1,217.9 L382.6,217.6 L383.1,217.4 L383.6,217.1 L384.1,216.9 L384.6,216.7 L385.1,216.5 L385.6,216.3 L386.1,216.1 L386.6,215.9 L387.1,215.7 L387.6,215.6 L388.1,215.4 L388.6,215.3 L389.1,215.1 L389.6,215.0 L390.1,214.9 L390.6,214.8 L391.1,214.7 L391.6,214.6 L392.1,214.5 L392.6,214.4 L393.1,214.4 L393.6,214.3 L394.1,214.2 L394.6,214.2 L395.1,214.2 L395.6,214.2 L396.1,214.2 L396.6,214.2 L397.1,214.2 L397.6,214.2 L398.1,214.3 L398.6,214.3 L399.1,214.3 L399.6,214.4 L400.1,214.4 L400.6,214.4 L401.1,214.5 L401.6,214.5 L402.1,214.6 L402.6,214.6 L403.1,214.7 L403.6,214.7 L404.1,214.8 L404.6,214.9 L405.1,215.0 L405.6,215.0 L406.1,215.1 L406.6,215.2 L407.1,215.3 L407.6,215.4 L408.1,215.5 L408.6,215.6 L409.1,215.7 L409.6,215.8 L410.1,215.9 L410.6,216.0 L411.1,216.2 L411.6,216.4 L412.1,216.5 L412.6,216.7 L413.1,216.9 L413.6,217.2 L414.1,217.4 L414.6,217.6 L415.1,217.9 L415.6,218.1 L416.1,218.4 L416.6,218.7 L417.1,218.9 L417.6,219.2 L418.1,219.5 L418.6,219.7 L419.1,220.0 L419.6,220.3 L420.1,220.5 L420.6,220.8 L421.1,221.0 L421.6,221.3 L422.1,221.5 L422.6,221.8 L423.1,222.1 L423.6,222.3 L424.1,222.6 L424.6,222.9 L425.1,223.1 L425.6,223.4 L426.1,223.6 L426.6,223.9 L427.1,224.2 L427.6,224.4 L428.1,224.7 L428.6,224.9 L429.1,225.2 L429.6,225.4 L430.1,225.7 L430.6,225.9 L431.1,226.2 L431.6,226.4 L432.1,226.7 L432.6,226.9 L433.1,227.2 L433.6,227.4 L434.1,227.7 L434.6,227.9 L435.1,228.1 L435.6,228.4 L436.1,228.6 L436.6,228.8 L437.1,229.0 L437.6,229.2 L438.1,229.4 L438.6,229.6 L439.1,229.8 L439.6,229.9 L440.1,230.1 L440.6,230.2 L441.1,230.3 L441.6,230.4 L442.1,230.5 L442.6,230.6 L443.1,230.7 L443.6,230.8 L444.1,230.9 L444.6,231.0 L445.1,231.1 L445.6,231.2 L446.1,231.3 L446.6,231.4 L447.1,231.5 L447.6,231.6 L448.1,231.7 L448.6,231.7 L449.1,231.8 L449.6,231.9 L450.1,232.0 L450.6,232.1 L451.1,232.1 L451.6,232.2 L452.1,232.3 L452.6,232.4 L453.1,232.4 L453.6,232.5 L454.1,232.6 L454.6,232.6 L455.1,232.7 L455.6,232.8 L456.1,232.8 L456.6,232.9 L457.1,233.0 L457.6,233.0 L458.1,233.1 L458.6,233.2 L459.1,233.2 L459.6,233.3 L460.1,233.3 L460.6,233.4 L461.1,233.5 L461.6,233.5 L462.1,233.6 L462.6,233.6 L463.1,233.7 L463.6,233.7 L464.1,233.8 L464.6,233.9 L465.1,233.9 L465.6,234.0 L466.1,234.0 L466.6,234.1 L467.1,234.1 L467.6,234.1 L468.1,234.2 L468.6,234.2 L469.1,234.3 L469.6,234.3 L470.1,234.4 L470.6,234.4 L471.1,234.4 L471.6,234.5 L472.1,234.5 L472.6,234.5 L473.1,234.6 L473.6,234.6 L474.1,234.6 L474.6,234.7 L475.1,234.7 L475.6,234.7 L476.1,234.7 L476.6,234.8 L477.1,234.8 L477.6,234.8 L477.6,242.8 L477.1,242.8 L476.6,242.8 L476.1,242.8 L475.6,242.8 L475.1,242.8 L474.6,242.7 L474.1,242.7 L473.6,242.7 L473.1,242.7 L472.6,242.7 L472.1,242.7 L471.6,242.7 L471.1,242.7 L470.6,242.7 L470.1,242.7 L469.6,242.7 L469.1,242.7 L468.6,242.7 L468.1,242.6 L467.6,242.6 L467.1,242.6 L466.6,242.6 L466.1,242.6 L465.6,242.6 L465.1,242.6 L464.6,242.6 L464.1,242.6 L463.6,242.6 L463.1,242.6 L462.6,242.6 L462.1,242.6 L461.6,242.6 L461.1,242.6 L460.6,242.6 L460.1,242.6 L459.6,242.6 L459.1,242.5 L458.6,242.5 L458.1,242.5 L457.6,242.5 L457.1,242.5 L456.6,242.5 L456.1,242.5 L455.6,242.5 L455.1,242.5 L454.6,242.5 L454.1,242.5 L453.6,242.5 L453.1,242.5 L452.6,242.5 L452.1,242.5 L451.6,242.5 L451.1,242.5 L450.6,242.5 L450.1,242.5 L449.6,242.5 L449.1,242.5 L448.6,242.5 L448.1,242.4 L447.6,242.4 L447.1,242.4 L446.6,242.4 L446.1,242.4 L445.6,242.4 L445.1,242.3 L444.6,242.3 L444.1,242.3 L443.6,242.3 L443.1,242.3 L442.6,242.2 L442.1,242.2 L441.6,242.2 L441.1,242.1 L440.6,242.1 L440.1,242.0 L439.6,242.0 L439.1,241.9 L438.6,241.8 L438.1,241.8 L437.6,241.7 L437.1,241.6 L436.6,241.5 L436.1,241.4 L435.6,241.3 L435.1,241.2 L434.6,241.2 L434.1,241.1 L433.6,241.0 L433.1,240.9 L432.6,240.8 L432.1,240.7 L431.6,240.6 L431.1,240.5 L430.6,240.5 L430.1,240.4 L429.6,240.3 L429.1,240.3 L428.6,240.2 L428.1,240.1 L427.6,240.0 L427.1,240.0 L426.6,239.9 L426.1,239.8 L425.6,239.7 L425.1,239.7 L424.6,239.6 L424.1,239.5 L423.6,239.4 L423.1,239.3 L422.6,239.2 L422.1,239.1 L421.6,239.0 L421.1,239.0 L420.6,238.9 L420.1,238.8 L419.6,238.7 L419.1,238.5 L418.6,238.4 L418.1,238.3 L417.6,238.1 L417.1,238.0 L416.6,237.8 L416.1,237.7 L415.6,237.5 L415.1,237.4 L414.6,237.2 L414.1,237.1 L413.6,236.9 L413.1,236.7 L412.6,236.6 L412.1,236.4 L411.6,236.3 L411.1,236.2 L410.6,236.0 L410.1,235.9 L409.6,235.8 L409.1,235.7 L408.6,235.6 L408.1,235.5 L407.6,235.4 L407.1,235.3 L406.6,235.2 L406.1,235.1 L405.6,235.0 L405.1,234.9 L404.6,234.8 L404.1,234.8 L403.6,234.7 L403.1,234.6 L402.6,234.5 L402.1,234.5 L401.6,234.4 L401.1,234.3 L400.6,234.3 L400.1,234.2 L399.6,234.2 L399.1,234.1 L398.6,234.1 L398.1,234.0 L397.6,234.0 L397.1,233.9 L396.6,233.9 L396.1,233.9 L395.6,233.8 L395.1,233.8 L394.6,233.8 L394.1,233.8 L393.6,233.8 L393.1,233.9 L392.6,233.9 L392.1,234.0 L391.6,234.0 L391.1,234.1 L390.6,234.2 L390.1,234.3 L389.6,234.3 L389.1,234.4 L388.6,234.5 L388.1,234.6 L387.6,234.7 L387.1,234.9 L386.6,235.0 L386.1,235.2 L385.6,235.3 L385.1,235.5 L384.6,235.6 L384.1,235.8 L383.6,236.0 L383.1,236.1 L382.6,236.3 L382.1,236.5 L381.6,236.7 L381.1,236.9 L380.6,237.1 L380.1,237.3 L379.6,237.5 L379.1,237.8 L378.6,238.0 L378.1,238.3 L377.6,238.6 L377.1,238.9 L376.6,239.2 L376.1,239.5 L375.6,239.8 L375.1,240.1 L374.6,240.4 L374.1,240.7 L373.6,241.0 L373.1,241.3 L372.6,241.5 L372.1,241.8 L371.6,242.1 L371.1,242.4 L370.6,242.7 L370.1,243.0 L369.6,243.2 L369.1,243.5 L368.6,243.8 L368.1,244.0 L367.6,244.2 L367.1,244.5 L366.6,244.7 L366.1,244.9 L365.6,245.1 L365.1,245.3 L364.6,245.5 L364.1,245.6 L363.6,245.8 L363.1,246.0 L362.6,246.2 L362.1,246.4 L361.6,246.6 L361.1,246.8 L360.6,247.0 L360.1,247.2 L359.6,247.5 L359.1,247.7 L358.6,248.0 L358.1,248.2 L357.6,248.4 L357.1,248.7 L356.6,248.9 L356.1,249.1 L355.6,249.3 L355.1,249.5 L354.6,249.7 L354.1,249.8 L353.6,250.0 L353.1,250.1 L352.6,250.2 L352.1,250.4 L351.6,250.5 L351.1,250.6 L350.6,250.7 L350.1,250.8 L349.6,250.9 L349.1,251.0 L348.6,251.1 L348.1,251.2 L347.6,251.3 L347.1,251.4 L346.6,251.6 L346.1,251.7 L345.6,251.8 L345.1,251.9 L344.6,252.1 L344.1,252.2 L343.6,252.3 L343.1,252.4 L342.6,252.5 L342.1,252.6 L341.6,252.6 L341.1,252.7 L340.6,252.7 L340.1,252.8 L339.6,252.8 L339.1,252.9 L338.6,252.9 L338.1,253.0 L337.6,253.0 L337.1,253.1 L336.6,253.1 L336.1,253.2 L335.6,253.2 L335.1,253.2 L334.6,253.3 L334.1,253.3 L333.6,253.4 L333.1,253.4 L332.6,253.4 L332.1,253.5 L331.6,253.5 L331.1,253.5 L330.6,253.6 L330.1,253.6 L329.6,253.6 L329.1,253.7 L328.6,253.7 L328.1,253.7 L327.6,253.8 L327.1,253.8 L326.6,253.8 L326.1,253.8 L325.6,253.9 L325.1,253.9 L324.6,253.9 L324.1,253.9 L323.6,253.9 L323.1,254.0 L322.6,254.0 L322.1,254.0 L321.6,254.0 L321.1,254.0 L320.6,254.0 L320.1,254.1 L319.6,254.1 L319.1,254.1 L318.6,254.1 L318.1,254.1 L317.6,254.1 L317.1,254.1 L316.6,254.1 L316.1,254.1 L315.6,254.1Z" fill="url(#pb)" opacity="0.9"/>
<path d="M315.6,252.4 L316.1,252.3 L316.6,252.3 L317.1,252.2 L317.6,252.2 L318.1,252.1 L318.6,252.1 L319.1,252.0 L319.6,251.9 L320.1,251.9 L320.6,251.8 L321.1,251.7 L321.6,251.7 L322.1,251.6 L322.6,251.5 L323.1,251.4 L323.6,251.4 L324.1,251.3 L324.6,251.2 L325.1,251.1 L325.6,251.0 L326.1,250.9 L326.6,250.8 L327.1,250.8 L327.6,250.7 L328.1,250.6 L328.6,250.5 L329.1,250.4 L329.6,250.3 L330.1,250.2 L330.6,250.1 L331.1,250.0 L331.6,249.9 L332.1,249.8 L332.6,249.7 L333.1,249.6 L333.6,249.5 L334.1,249.4 L334.6,249.3 L335.1,249.2 L335.6,249.1 L336.1,249.0 L336.6,248.9 L337.1,248.8 L337.6,248.6 L338.1,248.5 L338.6,248.4 L339.1,248.3 L339.6,248.2 L340.1,248.0 L340.6,247.9 L341.1,247.8 L341.6,247.6 L342.1,247.5 L342.6,247.3 L343.1,247.2 L343.6,247.0 L344.1,246.8 L344.6,246.6 L345.1,246.5 L345.6,246.3 L346.1,246.1 L346.6,245.9 L347.1,245.7 L347.6,245.5 L348.1,245.2 L348.6,245.0 L349.1,244.7 L349.6,244.4 L350.1,244.1 L350.6,243.8 L351.1,243.5 L351.6,243.2 L352.1,242.9 L352.6,242.5 L353.1,242.2 L353.6,241.9 L354.1,241.5 L354.6,241.2 L355.1,240.9 L355.6,240.5 L356.1,240.2 L356.6,239.9 L357.1,239.5 L357.6,239.2 L358.1,238.8 L358.6,238.5 L359.1,238.1 L359.6,237.7 L360.1,237.4 L360.6,237.0 L361.1,236.5 L361.6,236.1 L362.1,235.6 L362.6,235.2 L363.1,234.7 L363.6,234.2 L364.1,233.6 L364.6,233.1 L365.1,232.6 L365.6,232.0 L366.1,231.5 L366.6,230.9 L367.1,230.4 L367.6,229.9 L368.1,229.3 L368.6,228.8 L369.1,228.2 L369.6,227.7 L370.1,227.1 L370.6,226.6 L371.1,226.0 L371.6,225.5 L372.1,224.9 L372.6,224.4 L373.1,223.9 L373.6,223.4 L374.1,222.9 L374.6,222.4 L375.1,221.9 L375.6,221.5 L376.1,221.1 L376.6,220.6 L377.1,220.2 L377.6,219.8 L378.1,219.4 L378.6,219.1 L379.1,218.7 L379.6,218.4 L380.1,218.0 L380.6,217.7 L381.1,217.4 L381.6,217.0 L382.1,216.7 L382.6,216.4 L383.1,216.1 L383.6,215.8 L384.1,215.5 L384.6,215.3 L385.1,215.1 L385.6,214.9 L386.1,214.7 L386.6,214.6 L387.1,214.4 L387.6,214.2 L388.1,214.1 L388.6,213.9 L389.1,213.8 L389.6,213.7 L390.1,213.6 L390.6,213.5 L391.1,213.4 L391.6,213.3 L392.1,213.2 L392.6,213.2 L393.1,213.1 L393.6,213.0 L394.1,213.0 L394.6,212.9 L395.1,212.9 L395.6,212.8 L396.1,212.8 L396.6,212.7 L397.1,212.7 L397.6,212.6 L398.1,212.6 L398.6,212.6 L399.1,212.5 L399.6,212.5 L400.1,212.5 L400.6,212.5 L401.1,212.5 L401.6,212.4 L402.1,212.4 L402.6,212.4 L403.1,212.4 L403.6,212.4 L404.1,212.4 L404.6,212.4 L405.1,212.3 L405.6,212.3 L406.1,212.3 L406.6,212.3 L407.1,212.3 L407.6,212.3 L408.1,212.3 L408.6,212.3 L409.1,212.4 L409.6,212.4 L410.1,212.4 L410.6,212.4 L411.1,212.4 L411.6,212.5 L412.1,212.5 L412.6,212.5 L413.1,212.6 L413.6,212.6 L414.1,212.7 L414.6,212.7 L415.1,212.8 L415.6,212.8 L416.1,212.9 L416.6,213.0 L417.1,213.0 L417.6,213.1 L418.1,213.2 L418.6,213.2 L419.1,213.3 L419.6,213.4 L420.1,213.5 L420.6,213.6 L421.1,213.7 L421.6,213.8 L422.1,213.9 L422.6,214.0 L423.1,214.2 L423.6,214.4 L424.1,214.5 L424.6,214.7 L425.1,214.9 L425.6,215.1 L426.1,215.3 L426.6,215.5 L427.1,215.7 L427.6,215.9 L428.1,216.1 L428.6,216.3 L429.1,216.5 L429.6,216.6 L430.1,216.8 L430.6,217.0 L431.1,217.2 L431.6,217.5 L432.1,217.7 L432.6,217.9 L433.1,218.1 L433.6,218.4 L434.1,218.6 L434.6,218.8 L435.1,219.1 L435.6,219.3 L436.1,219.6 L436.6,219.8 L437.1,220.0 L437.6,220.3 L438.1,220.5 L438.6,220.7 L439.1,221.0 L439.6,221.2 L440.1,221.4 L440.6,221.6 L441.1,221.7 L441.6,221.9 L442.1,222.1 L442.6,222.3 L443.1,222.5 L443.6,222.6 L444.1,222.8 L444.6,223.0 L445.1,223.2 L445.6,223.3 L446.1,223.5 L446.6,223.7 L447.1,223.8 L447.6,224.0 L448.1,224.2 L448.6,224.3 L449.1,224.5 L449.6,224.6 L450.1,224.8 L450.6,224.9 L451.1,225.1 L451.6,225.2 L452.1,225.4 L452.6,225.5 L453.1,225.6 L453.6,225.8 L454.1,225.9 L454.6,226.0 L455.1,226.1 L455.6,226.3 L456.1,226.4 L456.6,226.5 L457.1,226.6 L457.6,226.7 L458.1,226.8 L458.6,226.9 L459.1,227.0 L459.6,227.1 L460.1,227.2 L460.6,227.3 L461.1,227.4 L461.6,227.5 L462.1,227.6 L462.6,227.7 L463.1,227.8 L463.6,227.9 L464.1,228.0 L464.6,228.1 L465.1,228.2 L465.6,228.2 L466.1,228.3 L466.6,228.4 L467.1,228.5 L467.6,228.6 L468.1,228.7 L468.6,228.7 L469.1,228.8 L469.6,228.9 L470.1,229.0 L470.6,229.0 L471.1,229.1 L471.6,229.2 L472.1,229.2 L472.6,229.3 L473.1,229.4 L473.6,229.4 L474.1,229.5 L474.6,229.5 L475.1,229.6 L475.6,229.6 L476.1,229.7 L476.6,229.7 L477.1,229.8 L477.6,229.8 L477.6,237.8 L477.1,237.8 L476.6,237.8 L476.1,237.7 L475.6,237.7 L475.1,237.7 L474.6,237.6 L474.1,237.6 L473.6,237.6 L473.1,237.5 L472.6,237.5 L472.1,237.5 L471.6,237.4 L471.1,237.4 L470.6,237.3 L470.1,237.3 L469.6,237.2 L469.1,237.2 L468.6,237.1 L468.1,237.1 L467.6,237.0 L467.1,236.9 L466.6,236.9 L466.1,236.8 L465.6,236.8 L465.1,236.7 L464.6,236.6 L464.1,236.6 L463.6,236.5 L463.1,236.4 L462.6,236.4 L462.1,236.3 L461.6,236.2 L461.1,236.1 L460.6,236.1 L460.1,236.0 L459.6,235.9 L459.1,235.8 L458.6,235.8 L458.1,235.7 L457.6,235.6 L457.1,235.5 L456.6,235.5 L456.1,235.4 L455.6,235.3 L455.1,235.2 L454.6,235.1 L454.1,235.0 L453.6,234.9 L453.1,234.8 L452.6,234.7 L452.1,234.5 L451.6,234.4 L451.1,234.3 L450.6,234.2 L450.1,234.1 L449.6,233.9 L449.1,233.8 L448.6,233.7 L448.1,233.6 L447.6,233.4 L447.1,233.3 L446.6,233.1 L446.1,233.0 L445.6,232.9 L445.1,232.7 L444.6,232.6 L444.1,232.4 L443.6,232.3 L443.1,232.1 L442.6,232.0 L442.1,231.8 L441.6,231.7 L441.1,231.5 L440.6,231.4 L440.1,231.2 L439.6,231.0 L439.1,230.8 L438.6,230.6 L438.1,230.4 L437.6,230.2 L437.1,230.0 L436.6,229.8 L436.1,229.6 L435.6,229.4 L435.1,229.2 L434.6,229.0 L434.1,228.8 L433.6,228.6 L433.1,228.3 L432.6,228.1 L432.1,227.9 L431.6,227.8 L431.1,227.6 L430.6,227.4 L430.1,227.2 L429.6,227.1 L429.1,226.9 L428.6,226.7 L428.1,226.6 L427.6,226.4 L427.1,226.2 L426.6,226.1 L426.1,225.9 L425.6,225.8 L425.1,225.6 L424.6,225.4 L424.1,225.3 L423.6,225.2 L423.1,225.1 L422.6,224.9 L422.1,224.8 L421.6,224.7 L421.1,224.7 L420.6,224.6 L420.1,224.6 L419.6,224.5 L419.1,224.5 L418.6,224.4 L418.1,224.4 L417.6,224.4 L417.1,224.3 L416.6,224.3 L416.1,224.3 L415.6,224.3 L415.1,224.2 L414.6,224.2 L414.1,224.2 L413.6,224.2 L413.1,224.2 L412.6,224.2 L412.1,224.2 L411.6,224.2 L411.1,224.2 L410.6,224.2 L410.1,224.2 L409.6,224.2 L409.1,224.3 L408.6,224.3 L408.1,224.3 L407.6,224.3 L407.1,224.4 L406.6,224.4 L406.1,224.4 L405.6,224.5 L405.1,224.5 L404.6,224.5 L404.1,224.6 L403.6,224.6 L403.1,224.6 L402.6,224.7 L402.1,224.7 L401.6,224.8 L401.1,224.8 L400.6,224.9 L400.1,224.9 L399.6,224.9 L399.1,225.0 L398.6,225.0 L398.1,225.1 L397.6,225.1 L397.1,225.2 L396.6,225.3 L396.1,225.3 L395.6,225.4 L395.1,225.5 L394.6,225.5 L394.1,225.6 L393.6,225.7 L393.1,225.8 L392.6,225.9 L392.1,225.9 L391.6,226.0 L391.1,226.1 L390.6,226.3 L390.1,226.4 L389.6,226.5 L389.1,226.6 L388.6,226.8 L388.1,226.9 L387.6,227.1 L387.1,227.3 L386.6,227.5 L386.1,227.6 L385.6,227.8 L385.1,228.0 L384.6,228.2 L384.1,228.5 L383.6,228.8 L383.1,229.1 L382.6,229.4 L382.1,229.7 L381.6,230.0 L381.1,230.4 L380.6,230.7 L380.1,231.0 L379.6,231.4 L379.1,231.7 L378.6,232.0 L378.1,232.3 L377.6,232.6 L377.1,232.9 L376.6,233.2 L376.1,233.5 L375.6,233.8 L375.1,234.1 L374.6,234.4 L374.1,234.7 L373.6,235.0 L373.1,235.3 L372.6,235.7 L372.1,236.0 L371.6,236.3 L371.1,236.6 L370.6,236.9 L370.1,237.3 L369.6,237.6 L369.1,237.9 L368.6,238.2 L368.1,238.5 L367.6,238.8 L367.1,239.1 L366.6,239.4 L366.1,239.7 L365.6,240.1 L365.1,240.4 L364.6,240.7 L364.1,241.0 L363.6,241.3 L363.1,241.6 L362.6,242.0 L362.1,242.3 L361.6,242.6 L361.1,242.8 L360.6,243.1 L360.1,243.4 L359.6,243.6 L359.1,243.9 L358.6,244.1 L358.1,244.4 L357.6,244.6 L357.1,244.9 L356.6,245.1 L356.1,245.3 L355.6,245.5 L355.1,245.7 L354.6,246.0 L354.1,246.2 L353.6,246.4 L353.1,246.6 L352.6,246.9 L352.1,247.1 L351.6,247.3 L351.1,247.5 L350.6,247.7 L350.1,247.9 L349.6,248.1 L349.1,248.3 L348.6,248.5 L348.1,248.7 L347.6,248.8 L347.1,249.0 L346.6,249.1 L346.1,249.2 L345.6,249.3 L345.1,249.4 L344.6,249.6 L344.1,249.7 L343.6,249.8 L343.1,249.9 L342.6,250.0 L342.1,250.1 L341.6,250.2 L341.1,250.2 L340.6,250.3 L340.1,250.4 L339.6,250.5 L339.1,250.6 L338.6,250.7 L338.1,250.8 L337.6,250.9 L337.1,250.9 L336.6,251.0 L336.1,251.1 L335.6,251.2 L335.1,251.2 L334.6,251.3 L334.1,251.4 L333.6,251.4 L333.1,251.5 L332.6,251.6 L332.1,251.6 L331.6,251.7 L331.1,251.8 L330.6,251.8 L330.1,251.9 L329.6,252.0 L329.1,252.0 L328.6,252.1 L328.1,252.2 L327.6,252.2 L327.1,252.3 L326.6,252.3 L326.1,252.4 L325.6,252.5 L325.1,252.5 L324.6,252.6 L324.1,252.7 L323.6,252.7 L323.1,252.8 L322.6,252.8 L322.1,252.9 L321.6,253.0 L321.1,253.0 L320.6,253.1 L320.1,253.1 L319.6,253.2 L319.1,253.2 L318.6,253.3 L318.1,253.3 L317.6,253.4 L317.1,253.4 L316.6,253.5 L316.1,253.6 L315.6,253.6Z" fill="url(#pg)" opacity="0.85"/>
<path d="M315.6,253.6 L316.1,253.6 L316.6,253.6 L317.1,253.6 L317.6,253.6 L318.1,253.6 L318.6,253.6 L319.1,253.5 L319.6,253.5 L320.1,253.5 L320.6,253.5 L321.1,253.5 L321.6,253.4 L322.1,253.4 L322.6,253.4 L323.1,253.3 L323.6,253.3 L324.1,253.3 L324.6,253.2 L325.1,253.2 L325.6,253.1 L326.1,253.1 L326.6,253.1 L327.1,253.0 L327.6,253.0 L328.1,252.9 L328.6,252.9 L329.1,252.8 L329.6,252.8 L330.1,252.7 L330.6,252.6 L331.1,252.6 L331.6,252.5 L332.1,252.5 L332.6,252.4 L333.1,252.3 L333.6,252.3 L334.1,252.2 L334.6,252.1 L335.1,252.1 L335.6,252.0 L336.1,251.9 L336.6,251.9 L337.1,251.8 L337.6,251.7 L338.1,251.6 L338.6,251.6 L339.1,251.5 L339.6,251.4 L340.1,251.4 L340.6,251.3 L341.1,251.2 L341.6,251.1 L342.1,251.0 L342.6,250.9 L343.1,250.8 L343.6,250.7 L344.1,250.6 L344.6,250.4 L345.1,250.3 L345.6,250.1 L346.1,250.0 L346.6,249.8 L347.1,249.7 L347.6,249.5 L348.1,249.3 L348.6,249.2 L349.1,249.0 L349.6,248.8 L350.1,248.7 L350.6,248.5 L351.1,248.3 L351.6,248.1 L352.1,247.9 L352.6,247.7 L353.1,247.5 L353.6,247.3 L354.1,247.0 L354.6,246.8 L355.1,246.6 L355.6,246.3 L356.1,246.1 L356.6,245.9 L357.1,245.6 L357.6,245.4 L358.1,245.1 L358.6,244.9 L359.1,244.6 L359.6,244.4 L360.1,244.2 L360.6,243.9 L361.1,243.7 L361.6,243.4 L362.1,243.2 L362.6,242.9 L363.1,242.6 L363.6,242.4 L364.1,242.1 L364.6,241.8 L365.1,241.6 L365.6,241.3 L366.1,241.0 L366.6,240.8 L367.1,240.5 L367.6,240.2 L368.1,240.0 L368.6,239.7 L369.1,239.4 L369.6,239.1 L370.1,238.8 L370.6,238.5 L371.1,238.2 L371.6,237.9 L372.1,237.6 L372.6,237.3 L373.1,237.0 L373.6,236.8 L374.1,236.6 L374.6,236.4 L375.1,236.2 L375.6,236.0 L376.1,235.8 L376.6,235.6 L377.1,235.4 L377.6,235.3 L378.1,235.1 L378.6,234.9 L379.1,234.7 L379.6,234.6 L380.1,234.4 L380.6,234.3 L381.1,234.1 L381.6,234.0 L382.1,233.9 L382.6,233.8 L383.1,233.7 L383.6,233.7 L384.1,233.6 L384.6,233.6 L385.1,233.6 L385.6,233.6 L386.1,233.6 L386.6,233.6 L387.1,233.6 L387.6,233.6 L388.1,233.6 L388.6,233.7 L389.1,233.7 L389.6,233.7 L390.1,233.7 L390.6,233.7 L391.1,233.8 L391.6,233.8 L392.1,233.8 L392.6,233.8 L393.1,233.9 L393.6,233.9 L394.1,233.9 L394.6,234.0 L395.1,234.0 L395.6,234.1 L396.1,234.1 L396.6,234.2 L397.1,234.3 L397.6,234.4 L398.1,234.5 L398.6,234.6 L399.1,234.8 L399.6,234.9 L400.1,235.0 L400.6,235.2 L401.1,235.4 L401.6,235.5 L402.1,235.7 L402.6,235.8 L403.1,236.0 L403.6,236.2 L404.1,236.3 L404.6,236.5 L405.1,236.6 L405.6,236.8 L406.1,237.0 L406.6,237.1 L407.1,237.3 L407.6,237.5 L408.1,237.7 L408.6,237.9 L409.1,238.1 L409.6,238.3 L410.1,238.4 L410.6,238.6 L411.1,238.8 L411.6,238.9 L412.1,239.0 L412.6,239.1 L413.1,239.3 L413.6,239.4 L414.1,239.5 L414.6,239.6 L415.1,239.7 L415.6,239.8 L416.1,239.9 L416.6,240.0 L417.1,240.1 L417.6,240.2 L418.1,240.2 L418.6,240.3 L419.1,240.4 L419.6,240.4 L420.1,240.5 L420.6,240.6 L421.1,240.6 L421.6,240.7 L422.1,240.7 L422.6,240.8 L423.1,240.9 L423.6,240.9 L424.1,241.0 L424.6,241.0 L425.1,241.1 L425.6,241.1 L426.1,241.2 L426.6,241.2 L427.1,241.3 L427.6,241.3 L428.1,241.3 L428.6,241.4 L429.1,241.4 L429.6,241.5 L430.1,241.5 L430.6,241.5 L431.1,241.6 L431.6,241.6 L432.1,241.6 L432.6,241.7 L433.1,241.7 L433.6,241.7 L434.1,241.8 L434.6,241.8 L435.1,241.8 L435.6,241.8 L436.1,241.9 L436.6,241.9 L437.1,241.9 L437.6,241.9 L438.1,241.9 L438.6,242.0 L439.1,242.0 L439.6,242.0 L440.1,242.0 L440.6,242.0 L441.1,242.0 L441.6,242.1 L442.1,242.1 L442.6,242.1 L443.1,242.1 L443.6,242.1 L444.1,242.1 L444.6,242.2 L445.1,242.2 L445.6,242.2 L446.1,242.2 L446.6,242.2 L447.1,242.2 L447.6,242.2 L448.1,242.3 L448.6,242.3 L449.1,242.3 L449.6,242.3 L450.1,242.3 L450.6,242.3 L451.1,242.3 L451.6,242.3 L452.1,242.4 L452.6,242.4 L453.1,242.4 L453.6,242.4 L454.1,242.4 L454.6,242.4 L455.1,242.4 L455.6,242.4 L456.1,242.5 L456.6,242.5 L457.1,242.5 L457.6,242.5 L458.1,242.5 L458.6,242.5 L459.1,242.5 L459.6,242.5 L460.1,242.6 L460.6,242.6 L461.1,242.6 L461.6,242.6 L462.1,242.6 L462.6,242.6 L463.1,242.6 L463.6,242.7 L464.1,242.7 L464.6,242.7 L465.1,242.7 L465.6,242.7 L466.1,242.7 L466.6,242.7 L467.1,242.7 L467.6,242.8 L468.1,242.8 L468.6,242.8 L469.1,242.8 L469.6,242.8 L470.1,242.8 L470.6,242.8 L471.1,242.8 L471.6,242.9 L472.1,242.9 L472.6,242.9 L473.1,242.9 L473.6,242.9 L474.1,242.9 L474.6,242.9 L475.1,242.9 L475.6,243.0 L476.1,243.0 L476.6,243.0 L477.1,243.0 L477.6,243.0" fill="none" stroke="#5b286a" stroke-width="1.7" stroke-linejoin="round"/>
<path d="M315.6,253.3 L316.1,253.3 L316.6,253.3 L317.1,253.3 L317.6,253.3 L318.1,253.3 L318.6,253.3 L319.1,253.2 L319.6,253.2 L320.1,253.2 L320.6,253.2 L321.1,253.1 L321.6,253.1 L322.1,253.1 L322.6,253.1 L323.1,253.0 L323.6,253.0 L324.1,252.9 L324.6,252.9 L325.1,252.9 L325.6,252.8 L326.1,252.8 L326.6,252.7 L327.1,252.7 L327.6,252.6 L328.1,252.5 L328.6,252.5 L329.1,252.4 L329.6,252.4 L330.1,252.3 L330.6,252.2 L331.1,252.2 L331.6,252.1 L332.1,252.0 L332.6,252.0 L333.1,251.9 L333.6,251.8 L334.1,251.8 L334.6,251.7 L335.1,251.6 L335.6,251.5 L336.1,251.4 L336.6,251.4 L337.1,251.3 L337.6,251.2 L338.1,251.1 L338.6,251.0 L339.1,251.0 L339.6,250.9 L340.1,250.8 L340.6,250.7 L341.1,250.6 L341.6,250.5 L342.1,250.4 L342.6,250.2 L343.1,250.1 L343.6,249.9 L344.1,249.8 L344.6,249.6 L345.1,249.4 L345.6,249.2 L346.1,249.0 L346.6,248.8 L347.1,248.6 L347.6,248.4 L348.1,248.3 L348.6,248.1 L349.1,247.9 L349.6,247.7 L350.1,247.5 L350.6,247.3 L351.1,247.1 L351.6,246.9 L352.1,246.7 L352.6,246.5 L353.1,246.3 L353.6,246.1 L354.1,245.8 L354.6,245.6 L355.1,245.3 L355.6,245.1 L356.1,244.8 L356.6,244.5 L357.1,244.2 L357.6,243.8 L358.1,243.5 L358.6,243.2 L359.1,242.9 L359.6,242.5 L360.1,242.2 L360.6,241.9 L361.1,241.6 L361.6,241.3 L362.1,241.0 L362.6,240.7 L363.1,240.5 L363.6,240.2 L364.1,239.9 L364.6,239.6 L365.1,239.3 L365.6,239.0 L366.1,238.7 L366.6,238.4 L367.1,238.0 L367.6,237.7 L368.1,237.3 L368.6,237.0 L369.1,236.6 L369.6,236.2 L370.1,235.9 L370.6,235.5 L371.1,235.1 L371.6,234.7 L372.1,234.3 L372.6,233.9 L373.1,233.5 L373.6,233.1 L374.1,232.7 L374.6,232.3 L375.1,231.9 L375.6,231.5 L376.1,231.1 L376.6,230.7 L377.1,230.3 L377.6,230.0 L378.1,229.6 L378.6,229.2 L379.1,228.9 L379.6,228.5 L380.1,228.2 L380.6,228.0 L381.1,227.7 L381.6,227.4 L382.1,227.2 L382.6,227.0 L383.1,226.7 L383.6,226.5 L384.1,226.3 L384.6,226.1 L385.1,226.0 L385.6,225.8 L386.1,225.6 L386.6,225.5 L387.1,225.3 L387.6,225.2 L388.1,225.0 L388.6,224.9 L389.1,224.8 L389.6,224.7 L390.1,224.6 L390.6,224.5 L391.1,224.4 L391.6,224.3 L392.1,224.3 L392.6,224.2 L393.1,224.1 L393.6,224.1 L394.1,224.0 L394.6,224.0 L395.1,224.0 L395.6,224.0 L396.1,224.0 L396.6,224.0 L397.1,224.1 L397.6,224.1 L398.1,224.1 L398.6,224.2 L399.1,224.2 L399.6,224.3 L400.1,224.3 L400.6,224.4 L401.1,224.4 L401.6,224.5 L402.1,224.5 L402.6,224.6 L403.1,224.6 L403.6,224.7 L404.1,224.8 L404.6,224.9 L405.1,224.9 L405.6,225.0 L406.1,225.1 L406.6,225.2 L407.1,225.3 L407.6,225.4 L408.1,225.5 L408.6,225.6 L409.1,225.7 L409.6,225.8 L410.1,225.9 L410.6,226.0 L411.1,226.2 L411.6,226.3 L412.1,226.5 L412.6,226.7 L413.1,226.8 L413.6,227.0 L414.1,227.2 L414.6,227.4 L415.1,227.6 L415.6,227.8 L416.1,228.0 L416.6,228.3 L417.1,228.5 L417.6,228.7 L418.1,228.9 L418.6,229.1 L419.1,229.3 L419.6,229.5 L420.1,229.6 L420.6,229.8 L421.1,230.0 L421.6,230.2 L422.1,230.3 L422.6,230.5 L423.1,230.7 L423.6,230.9 L424.1,231.0 L424.6,231.2 L425.1,231.4 L425.6,231.6 L426.1,231.7 L426.6,231.9 L427.1,232.1 L427.6,232.2 L428.1,232.4 L428.6,232.6 L429.1,232.7 L429.6,232.9 L430.1,233.0 L430.6,233.2 L431.1,233.4 L431.6,233.5 L432.1,233.7 L432.6,233.9 L433.1,234.0 L433.6,234.2 L434.1,234.4 L434.6,234.5 L435.1,234.7 L435.6,234.9 L436.1,235.0 L436.6,235.2 L437.1,235.3 L437.6,235.5 L438.1,235.6 L438.6,235.7 L439.1,235.8 L439.6,235.9 L440.1,236.0 L440.6,236.1 L441.1,236.2 L441.6,236.3 L442.1,236.4 L442.6,236.4 L443.1,236.5 L443.6,236.6 L444.1,236.6 L444.6,236.7 L445.1,236.7 L445.6,236.8 L446.1,236.8 L446.6,236.9 L447.1,237.0 L447.6,237.0 L448.1,237.1 L448.6,237.1 L449.1,237.1 L449.6,237.2 L450.1,237.2 L450.6,237.3 L451.1,237.3 L451.6,237.4 L452.1,237.4 L452.6,237.4 L453.1,237.5 L453.6,237.5 L454.1,237.5 L454.6,237.6 L455.1,237.6 L455.6,237.7 L456.1,237.7 L456.6,237.7 L457.1,237.8 L457.6,237.8 L458.1,237.8 L458.6,237.9 L459.1,237.9 L459.6,237.9 L460.1,238.0 L460.6,238.0 L461.1,238.0 L461.6,238.0 L462.1,238.1 L462.6,238.1 L463.1,238.1 L463.6,238.2 L464.1,238.2 L464.6,238.2 L465.1,238.3 L465.6,238.3 L466.1,238.3 L466.6,238.3 L467.1,238.4 L467.6,238.4 L468.1,238.4 L468.6,238.4 L469.1,238.5 L469.6,238.5 L470.1,238.5 L470.6,238.5 L471.1,238.6 L471.6,238.6 L472.1,238.6 L472.6,238.6 L473.1,238.6 L473.6,238.7 L474.1,238.7 L474.6,238.7 L475.1,238.7 L475.6,238.7 L476.1,238.8 L476.6,238.8 L477.1,238.8 L477.6,238.8" fill="none" stroke="#105384" stroke-width="1.7" stroke-linejoin="round"/>
<path d="M315.6,253.0 L316.1,252.9 L316.6,252.9 L317.1,252.8 L317.6,252.8 L318.1,252.7 L318.6,252.7 L319.1,252.6 L319.6,252.6 L320.1,252.5 L320.6,252.4 L321.1,252.4 L321.6,252.3 L322.1,252.2 L322.6,252.2 L323.1,252.1 L323.6,252.0 L324.1,252.0 L324.6,251.9 L325.1,251.8 L325.6,251.7 L326.1,251.7 L326.6,251.6 L327.1,251.5 L327.6,251.4 L328.1,251.4 L328.6,251.3 L329.1,251.2 L329.6,251.1 L330.1,251.0 L330.6,251.0 L331.1,250.9 L331.6,250.8 L332.1,250.7 L332.6,250.6 L333.1,250.6 L333.6,250.5 L334.1,250.4 L334.6,250.3 L335.1,250.2 L335.6,250.1 L336.1,250.0 L336.6,249.9 L337.1,249.8 L337.6,249.8 L338.1,249.7 L338.6,249.6 L339.1,249.4 L339.6,249.3 L340.1,249.2 L340.6,249.1 L341.1,249.0 L341.6,248.9 L342.1,248.8 L342.6,248.6 L343.1,248.5 L343.6,248.4 L344.1,248.2 L344.6,248.1 L345.1,248.0 L345.6,247.8 L346.1,247.6 L346.6,247.5 L347.1,247.3 L347.6,247.1 L348.1,246.9 L348.6,246.7 L349.1,246.5 L349.6,246.3 L350.1,246.0 L350.6,245.8 L351.1,245.5 L351.6,245.2 L352.1,245.0 L352.6,244.7 L353.1,244.4 L353.6,244.1 L354.1,243.9 L354.6,243.6 L355.1,243.3 L355.6,243.0 L356.1,242.8 L356.6,242.5 L357.1,242.2 L357.6,241.9 L358.1,241.6 L358.6,241.3 L359.1,241.0 L359.6,240.7 L360.1,240.4 L360.6,240.0 L361.1,239.7 L361.6,239.3 L362.1,239.0 L362.6,238.6 L363.1,238.2 L363.6,237.7 L364.1,237.3 L364.6,236.9 L365.1,236.5 L365.6,236.0 L366.1,235.6 L366.6,235.2 L367.1,234.8 L367.6,234.3 L368.1,233.9 L368.6,233.5 L369.1,233.1 L369.6,232.6 L370.1,232.2 L370.6,231.8 L371.1,231.3 L371.6,230.9 L372.1,230.5 L372.6,230.0 L373.1,229.6 L373.6,229.2 L374.1,228.8 L374.6,228.4 L375.1,228.0 L375.6,227.6 L376.1,227.3 L376.6,226.9 L377.1,226.6 L377.6,226.2 L378.1,225.9 L378.6,225.5 L379.1,225.2 L379.6,224.9 L380.1,224.5 L380.6,224.2 L381.1,223.9 L381.6,223.5 L382.1,223.2 L382.6,222.9 L383.1,222.6 L383.6,222.3 L384.1,222.0 L384.6,221.8 L385.1,221.6 L385.6,221.4 L386.1,221.2 L386.6,221.0 L387.1,220.8 L387.6,220.7 L388.1,220.5 L388.6,220.4 L389.1,220.2 L389.6,220.1 L390.1,220.0 L390.6,219.9 L391.1,219.8 L391.6,219.7 L392.1,219.6 L392.6,219.5 L393.1,219.4 L393.6,219.4 L394.1,219.3 L394.6,219.2 L395.1,219.2 L395.6,219.1 L396.1,219.0 L396.6,219.0 L397.1,218.9 L397.6,218.9 L398.1,218.8 L398.6,218.8 L399.1,218.8 L399.6,218.7 L400.1,218.7 L400.6,218.7 L401.1,218.6 L401.6,218.6 L402.1,218.6 L402.6,218.5 L403.1,218.5 L403.6,218.5 L404.1,218.5 L404.6,218.4 L405.1,218.4 L405.6,218.4 L406.1,218.4 L406.6,218.4 L407.1,218.3 L407.6,218.3 L408.1,218.3 L408.6,218.3 L409.1,218.3 L409.6,218.3 L410.1,218.3 L410.6,218.3 L411.1,218.3 L411.6,218.3 L412.1,218.3 L412.6,218.4 L413.1,218.4 L413.6,218.4 L414.1,218.4 L414.6,218.5 L415.1,218.5 L415.6,218.6 L416.1,218.6 L416.6,218.6 L417.1,218.7 L417.6,218.7 L418.1,218.8 L418.6,218.8 L419.1,218.9 L419.6,219.0 L420.1,219.0 L420.6,219.1 L421.1,219.2 L421.6,219.3 L422.1,219.4 L422.6,219.5 L423.1,219.6 L423.6,219.8 L424.1,219.9 L424.6,220.1 L425.1,220.2 L425.6,220.4 L426.1,220.6 L426.6,220.8 L427.1,220.9 L427.6,221.1 L428.1,221.3 L428.6,221.5 L429.1,221.7 L429.6,221.9 L430.1,222.0 L430.6,222.2 L431.1,222.4 L431.6,222.6 L432.1,222.8 L432.6,223.0 L433.1,223.2 L433.6,223.5 L434.1,223.7 L434.6,223.9 L435.1,224.1 L435.6,224.4 L436.1,224.6 L436.6,224.8 L437.1,225.0 L437.6,225.3 L438.1,225.5 L438.6,225.7 L439.1,225.9 L439.6,226.1 L440.1,226.3 L440.6,226.5 L441.1,226.6 L441.6,226.8 L442.1,227.0 L442.6,227.1 L443.1,227.3 L443.6,227.5 L444.1,227.6 L444.6,227.8 L445.1,227.9 L445.6,228.1 L446.1,228.3 L446.6,228.4 L447.1,228.6 L447.6,228.7 L448.1,228.9 L448.6,229.0 L449.1,229.1 L449.6,229.3 L450.1,229.4 L450.6,229.6 L451.1,229.7 L451.6,229.8 L452.1,230.0 L452.6,230.1 L453.1,230.2 L453.6,230.3 L454.1,230.4 L454.6,230.6 L455.1,230.7 L455.6,230.8 L456.1,230.9 L456.6,231.0 L457.1,231.1 L457.6,231.2 L458.1,231.3 L458.6,231.3 L459.1,231.4 L459.6,231.5 L460.1,231.6 L460.6,231.7 L461.1,231.8 L461.6,231.9 L462.1,231.9 L462.6,232.0 L463.1,232.1 L463.6,232.2 L464.1,232.3 L464.6,232.3 L465.1,232.4 L465.6,232.5 L466.1,232.6 L466.6,232.6 L467.1,232.7 L467.6,232.8 L468.1,232.9 L468.6,232.9 L469.1,233.0 L469.6,233.1 L470.1,233.1 L470.6,233.2 L471.1,233.2 L471.6,233.3 L472.1,233.3 L472.6,233.4 L473.1,233.4 L473.6,233.5 L474.1,233.5 L474.6,233.6 L475.1,233.6 L475.6,233.7 L476.1,233.7 L476.6,233.7 L477.1,233.8 L477.6,233.8" fill="none" stroke="#3db54f" stroke-width="1.7" stroke-linejoin="round"/>
<path d="M315.6,252.5 L316.1,252.3 L316.6,252.1 L317.1,251.9 L317.6,251.7 L318.1,251.6 L318.6,251.4 L319.1,251.2 L319.6,251.1 L320.1,251.0 L320.6,250.9 L321.1,250.9 L321.6,250.8 L322.1,250.7 L322.6,250.7 L323.1,250.6 L323.6,250.6 L324.1,250.5 L324.6,250.5 L325.1,250.4 L325.6,250.4 L326.1,250.3 L326.6,250.3 L327.1,250.2 L327.6,250.2 L328.1,250.1 L328.6,250.0 L329.1,250.0 L329.6,249.9 L330.1,249.8 L330.6,249.8 L331.1,249.7 L331.6,249.6 L332.1,249.5 L332.6,249.4 L333.1,249.3 L333.6,249.2 L334.1,249.1 L334.6,249.0 L335.1,248.9 L335.6,248.7 L336.1,248.6 L336.6,248.4 L337.1,248.2 L337.6,247.9 L338.1,247.7 L338.6,247.4 L339.1,247.2 L339.6,246.8 L340.1,246.4 L340.6,245.9 L341.1,245.4 L341.6,244.8 L342.1,244.2 L342.6,243.7 L343.1,243.1 L343.6,242.6 L344.1,242.0 L344.6,241.5 L345.1,240.9 L345.6,240.4 L346.1,239.8 L346.6,239.2 L347.1,238.6 L347.6,238.0 L348.1,237.4 L348.6,236.7 L349.1,236.1 L349.6,235.4 L350.1,234.7 L350.6,234.0 L351.1,233.3 L351.6,232.5 L352.1,231.8 L352.6,231.1 L353.1,230.4 L353.6,229.6 L354.1,228.9 L354.6,228.2 L355.1,227.5 L355.6,226.8 L356.1,226.1 L356.6,225.4 L357.1,224.7 L357.6,224.0 L358.1,223.3 L358.6,222.6 L359.1,221.9 L359.6,221.2 L360.1,220.6 L360.6,219.9 L361.1,219.2 L361.6,218.5 L362.1,217.8 L362.6,217.2 L363.1,216.5 L363.6,215.8 L364.1,215.2 L364.6,214.5 L365.1,213.9 L365.6,213.2 L366.1,212.6 L366.6,212.0 L367.1,211.3 L367.6,210.7 L368.1,210.1 L368.6,209.6 L369.1,209.0 L369.6,208.4 L370.1,207.8 L370.6,207.3 L371.1,206.7 L371.6,206.1 L372.1,205.6 L372.6,205.1 L373.1,204.5 L373.6,204.0 L374.1,203.5 L374.6,203.0 L375.1,202.5 L375.6,202.0 L376.1,201.5 L376.6,201.1 L377.1,200.6 L377.6,200.1 L378.1,199.7 L378.6,199.3 L379.1,198.8 L379.6,198.4 L380.1,198.0 L380.6,197.6 L381.1,197.2 L381.6,196.7 L382.1,196.3 L382.6,195.9 L383.1,195.5 L383.6,195.1 L384.1,194.7 L384.6,194.3 L385.1,194.0 L385.6,193.7 L386.1,193.5 L386.6,193.2 L387.1,193.0 L387.6,192.7 L388.1,192.5 L388.6,192.3 L389.1,192.1 L389.6,192.0 L390.1,191.8 L390.6,191.7 L391.1,191.7 L391.6,191.7 L392.1,191.7 L392.6,191.7 L393.1,191.8 L393.6,191.8 L394.1,191.8 L394.6,191.9 L395.1,191.9 L395.6,192.0 L396.1,192.0 L396.6,192.1 L397.1,192.2 L397.6,192.3 L398.1,192.4 L398.6,192.6 L399.1,192.7 L399.6,192.9 L400.1,193.1 L400.6,193.3 L401.1,193.5 L401.6,193.7 L402.1,193.8 L402.6,194.0 L403.1,194.2 L403.6,194.4 L404.1,194.6 L404.6,194.8 L405.1,195.0 L405.6,195.2 L406.1,195.4 L406.6,195.6 L407.1,195.8 L407.6,196.0 L408.1,196.2 L408.6,196.4 L409.1,196.6 L409.6,196.8 L410.1,197.1 L410.6,197.3 L411.1,197.5 L411.6,197.7 L412.1,197.9 L412.6,198.2 L413.1,198.4 L413.6,198.6 L414.1,198.9 L414.6,199.1 L415.1,199.3 L415.6,199.5 L416.1,199.8 L416.6,200.0 L417.1,200.2 L417.6,200.4 L418.1,200.7 L418.6,200.9 L419.1,201.1 L419.6,201.3 L420.1,201.5 L420.6,201.8 L421.1,202.0 L421.6,202.2 L422.1,202.4 L422.6,202.7 L423.1,202.9 L423.6,203.1 L424.1,203.3 L424.6,203.6 L425.1,203.8 L425.6,204.0 L426.1,204.2 L426.6,204.5 L427.1,204.7 L427.6,204.9 L428.1,205.1 L428.6,205.3 L429.1,205.5 L429.6,205.6 L430.1,205.8 L430.6,206.0 L431.1,206.2 L431.6,206.4 L432.1,206.5 L432.6,206.7 L433.1,206.9 L433.6,207.0 L434.1,207.2 L434.6,207.4 L435.1,207.5 L435.6,207.7 L436.1,207.8 L436.6,208.0 L437.1,208.1 L437.6,208.3 L438.1,208.4 L438.6,208.6 L439.1,208.7 L439.6,208.9 L440.1,209.0 L440.6,209.1 L441.1,209.3 L441.6,209.4 L442.1,209.6 L442.6,209.7 L443.1,209.8 L443.6,210.0 L444.1,210.1 L444.6,210.2 L445.1,210.3 L445.6,210.5 L446.1,210.6 L446.6,210.7 L447.1,210.8 L447.6,211.0 L448.1,211.1 L448.6,211.2 L449.1,211.3 L449.6,211.5 L450.1,211.6 L450.6,211.7 L451.1,211.8 L451.6,211.9 L452.1,212.0 L452.6,212.2 L453.1,212.3 L453.6,212.4 L454.1,212.5 L454.6,212.6 L455.1,212.7 L455.6,212.8 L456.1,212.9 L456.6,213.0 L457.1,213.1 L457.6,213.3 L458.1,213.4 L458.6,213.5 L459.1,213.6 L459.6,213.7 L460.1,213.8 L460.6,213.9 L461.1,214.0 L461.6,214.1 L462.1,214.2 L462.6,214.3 L463.1,214.4 L463.6,214.5 L464.1,214.6 L464.6,214.7 L465.1,214.8 L465.6,214.9 L466.1,215.0 L466.6,215.1 L467.1,215.2 L467.6,215.3 L468.1,215.4 L468.6,215.5 L469.1,215.6 L469.6,215.7 L470.1,215.8 L470.6,215.9 L471.1,216.0 L471.6,216.1 L472.1,216.2 L472.6,216.3 L473.1,216.4 L473.6,216.5 L474.1,216.6 L474.6,216.7 L475.1,216.7 L475.6,216.8 L476.1,216.9 L476.6,217.0 L477.1,217.1 L477.6,217.2" fill="none" stroke="#c41230" stroke-width="1.7" stroke-linejoin="round"/>
<line x1="329.2" y1="157.7" x2="337.7" y2="157.7" stroke="#c41230" stroke-width="1.3" />
<circle cx="333.45" cy="157.7" r="1.6" fill="#c41230"/>
<text x="341.6" y="160.3" font-size="8" font-style="italic" stroke="#231f20" stroke-width="0.15">Fga<tspan font-size="5.1" dy="-3.36">WT/WT</tspan></text>
<line x1="329.2" y1="169.2" x2="337.7" y2="169.2" stroke="#3db54f" stroke-width="1.3" />
<circle cx="333.45" cy="169.2" r="1.6" fill="#3db54f"/>
<text x="341.6" y="171.8" font-size="8" font-style="italic" stroke="#231f20" stroke-width="0.15">Fga<tspan font-size="5.1" dy="-3.36">WT/270</tspan></text>
<line x1="388.5" y1="157.7" x2="397" y2="157.7" stroke="#105384" stroke-width="1.3" />
<circle cx="392.75" cy="157.7" r="1.6" fill="#105384"/>
<text x="400.9" y="160.3" font-size="8" font-style="italic" stroke="#231f20" stroke-width="0.15">Fga<tspan font-size="5.1" dy="-3.36">270/270</tspan></text>
<line x1="388.5" y1="169.2" x2="397" y2="169.2" stroke="#5b286a" stroke-width="1.3" />
<circle cx="392.75" cy="169.2" r="1.6" fill="#5b286a"/>
<text x="400.9" y="171.8" font-size="8" font-style="italic" stroke="#231f20" stroke-width="0.15">Fga<tspan font-size="5.1" dy="-3.36">−/−</tspan></text>
<path d="M480.4,202.8 H481.8 V225 H480.4" fill="none" stroke="#3a3a3a" stroke-width="0.75"/>
<path d="M480.4,227.7 H481.8 V239.7 H480.4" fill="none" stroke="#3a3a3a" stroke-width="0.75"/>
<path d="M492,202.8 H493.4 V231 H492" fill="none" stroke="#3a3a3a" stroke-width="0.75"/>
<path d="M491.8,233 H493.2 V239.7 H491.8" fill="none" stroke="#3a3a3a" stroke-width="0.75"/>
<path d="M504,202.8 H505.4 V239.7 H504" fill="none" stroke="#3a3a3a" stroke-width="0.75"/>
<text x="483.6" y="216.6" font-size="7.2" stroke="#231f20" stroke-width="0.18" >ns</text>
<text x="483.6" y="236.2" font-size="7.2" stroke="#231f20" stroke-width="0.18" >ns</text>
<circle cx="496.65" cy="215.8" r="0.95" fill="#231f20"/>
<circle cx="499.75" cy="215.8" r="0.95" fill="#231f20"/>
<text x="495" y="238.6" font-size="7.2" stroke="#231f20" stroke-width="0.18" >ns</text>
<circle cx="508.45" cy="219.8" r="0.95" fill="#231f20"/>
<circle cx="511.55" cy="219.8" r="0.95" fill="#231f20"/>
<line x1="34.9" y1="325.7" x2="34.9" y2="419.1" stroke="#231f20" stroke-width="1.1" />
<line x1="32.1" y1="418.6" x2="34.9" y2="418.6" stroke="#231f20" stroke-width="0.9" />
<text x="29.1" y="421.6" font-size="8.8" stroke="#231f20" stroke-width="0.18" text-anchor="end" textLength="4.31" lengthAdjust="spacingAndGlyphs" >0</text>
<line x1="32.1" y1="389.2" x2="34.9" y2="389.2" stroke="#231f20" stroke-width="0.9" />
<text x="29.1" y="392.2" font-size="8.8" stroke="#231f20" stroke-width="0.18" text-anchor="end" textLength="4.31" lengthAdjust="spacingAndGlyphs" >5</text>
<line x1="32.1" y1="359.5" x2="34.9" y2="359.5" stroke="#231f20" stroke-width="0.9" />
<text x="29.1" y="362.5" font-size="8.8" stroke="#231f20" stroke-width="0.18" text-anchor="end" textLength="8.61" lengthAdjust="spacingAndGlyphs" >10</text>
<line x1="32.1" y1="329.9" x2="34.9" y2="329.9" stroke="#231f20" stroke-width="0.9" />
<text x="29.1" y="332.9" font-size="8.8" stroke="#231f20" stroke-width="0.18" text-anchor="end" textLength="8.61" lengthAdjust="spacingAndGlyphs" >15</text>
<line x1="32.9" y1="418.6" x2="94.4" y2="418.6" stroke="#231f20" stroke-width="1.1" />
<rect x="41.1" y="377.7" width="11.4" height="40.9" fill="#4a5566" />
<line x1="46.8" y1="377.7" x2="46.8" y2="376.2" stroke="#1a1a1a" stroke-width="0.9" />
<line x1="44.2" y1="376.2" x2="49.4" y2="376.2" stroke="#1a1a1a" stroke-width="1" />
<line x1="46.8" y1="418.6" x2="46.8" y2="421.2" stroke="#231f20" stroke-width="0.9" />
<rect x="58.9" y="340.8" width="11.4" height="77.8" fill="#c41230" />
<line x1="64.6" y1="340.8" x2="64.6" y2="339.2" stroke="#1a1a1a" stroke-width="0.9" />
<line x1="62" y1="339.2" x2="67.2" y2="339.2" stroke="#1a1a1a" stroke-width="1" />
<line x1="64.6" y1="418.6" x2="64.6" y2="421.2" stroke="#231f20" stroke-width="0.9" />
<rect x="76.9" y="337.7" width="11.4" height="80.9" fill="#105384" />
<line x1="82.6" y1="337.7" x2="82.6" y2="334.4" stroke="#1a1a1a" stroke-width="0.9" />
<line x1="80" y1="334.4" x2="85.2" y2="334.4" stroke="#1a1a1a" stroke-width="1" />
<line x1="82.6" y1="418.6" x2="82.6" y2="421.2" stroke="#231f20" stroke-width="0.9" />
<rect x="41.1" y="377.7" width="11.4" height="40.9" fill="none" stroke="#3a4659" stroke-width="0.6"/>
<text transform="translate(17.6,371.5) rotate(-90)" font-size="8.5" stroke="#231f20" stroke-width="0.18" text-anchor="middle" textLength="66.5" lengthAdjust="spacingAndGlyphs" >Platelet area (µm<tspan font-size="5.8" dy="-3.2">2</tspan><tspan dy="3.2">)</tspan></text>
<line x1="46.9" y1="319.9" x2="82.3" y2="319.9" stroke="#7a7a7a" stroke-width="1.3" />
<circle cx="59.65" cy="317.2" r="0.95" fill="#231f20"/>
<circle cx="62.95" cy="317.2" r="0.95" fill="#231f20"/>
<circle cx="66.25" cy="317.2" r="0.95" fill="#231f20"/>
<circle cx="69.55" cy="317.2" r="0.95" fill="#231f20"/>
<line x1="46.9" y1="330.2" x2="62.3" y2="330.2" stroke="#7a7a7a" stroke-width="1.3" />
<circle cx="49.65" cy="327.3" r="0.95" fill="#231f20"/>
<circle cx="52.95" cy="327.3" r="0.95" fill="#231f20"/>
<circle cx="56.25" cy="327.3" r="0.95" fill="#231f20"/>
<circle cx="59.55" cy="327.3" r="0.95" fill="#231f20"/>
<line x1="66.5" y1="330.2" x2="82.3" y2="330.2" stroke="#7a7a7a" stroke-width="1.3" />
<text x="74.5" y="327.7" font-size="7.6" stroke="#231f20" stroke-width="0.08" text-anchor="middle" textLength="6.8" lengthAdjust="spacingAndGlyphs" >ns</text>
<text transform="translate(50.2,428.2) rotate(-45)" font-size="8" text-anchor="end">No Fib</text>
<text transform="translate(70.1,429.4) rotate(-45)" font-size="8" text-anchor="end">FibAα<tspan font-size="5.5" dy="-3.6">WT</tspan></text>
<text transform="translate(87.4,429.4) rotate(-45)" font-size="8" text-anchor="end">FibAα<tspan font-size="5.5" dy="-3.6">270</tspan></text>
<line x1="144.7" y1="326.3" x2="144.7" y2="419.3" stroke="#231f20" stroke-width="1.1" />
<line x1="141.9" y1="418.8" x2="144.7" y2="418.8" stroke="#231f20" stroke-width="0.9" />
<text x="138.7" y="421.8" font-size="8.5" stroke="#231f20" stroke-width="0.18" text-anchor="end" textLength="4.16" lengthAdjust="spacingAndGlyphs" >0</text>
<line x1="141.9" y1="396.5" x2="144.7" y2="396.5" stroke="#231f20" stroke-width="0.9" />
<text x="138.7" y="399.5" font-size="8.5" stroke="#231f20" stroke-width="0.18" text-anchor="end" textLength="20.79" lengthAdjust="spacingAndGlyphs" >20000</text>
<line x1="141.9" y1="374.2" x2="144.7" y2="374.2" stroke="#231f20" stroke-width="0.9" />
<text x="138.7" y="377.2" font-size="8.5" stroke="#231f20" stroke-width="0.18" text-anchor="end" textLength="20.79" lengthAdjust="spacingAndGlyphs" >40000</text>
<line x1="141.9" y1="351.9" x2="144.7" y2="351.9" stroke="#231f20" stroke-width="0.9" />
<text x="138.7" y="354.9" font-size="8.5" stroke="#231f20" stroke-width="0.18" text-anchor="end" textLength="20.79" lengthAdjust="spacingAndGlyphs" >60000</text>
<line x1="141.9" y1="329.6" x2="144.7" y2="329.6" stroke="#231f20" stroke-width="0.9" />
<text x="138.7" y="332.6" font-size="8.5" stroke="#231f20" stroke-width="0.18" text-anchor="end" textLength="20.79" lengthAdjust="spacingAndGlyphs" >80000</text>
<line x1="142.7" y1="418.8" x2="233.5" y2="418.8" stroke="#231f20" stroke-width="1.1" />
<rect x="148.6" y="389.4" width="14.2" height="29.4" fill="#c41230" />
<line x1="155.7" y1="389.4" x2="155.7" y2="388.1" stroke="#1a1a1a" stroke-width="0.9" />
<line x1="153.1" y1="388.1" x2="158.3" y2="388.1" stroke="#1a1a1a" stroke-width="1" />
<line x1="155.7" y1="418.8" x2="155.7" y2="421.4" stroke="#231f20" stroke-width="0.9" />
<text transform="translate(160.6,430.5) rotate(-45)" font-size="7.8" text-anchor="end" stroke="#231f20" stroke-width="0.12">Fga<tspan font-size="5.4" dy="-3.1">WT/WT</tspan></text>
<rect x="170.9" y="390.3" width="14.2" height="28.5" fill="#3db54f" />
<line x1="178" y1="390.3" x2="178" y2="389.1" stroke="#1a1a1a" stroke-width="0.9" />
<line x1="175.4" y1="389.1" x2="180.6" y2="389.1" stroke="#1a1a1a" stroke-width="1" />
<line x1="178" y1="418.8" x2="178" y2="421.4" stroke="#231f20" stroke-width="0.9" />
<text transform="translate(182.9,430.5) rotate(-45)" font-size="7.8" text-anchor="end" stroke="#231f20" stroke-width="0.12">Fga<tspan font-size="5.4" dy="-3.1">WT/270</tspan></text>
<rect x="193.2" y="387" width="14.2" height="31.8" fill="#105384" />
<line x1="200.3" y1="387" x2="200.3" y2="385.6" stroke="#1a1a1a" stroke-width="0.9" />
<line x1="197.7" y1="385.6" x2="202.9" y2="385.6" stroke="#1a1a1a" stroke-width="1" />
<line x1="200.3" y1="418.8" x2="200.3" y2="421.4" stroke="#231f20" stroke-width="0.9" />
<text transform="translate(205.2,430.5) rotate(-45)" font-size="7.8" text-anchor="end" stroke="#231f20" stroke-width="0.12">Fga<tspan font-size="5.4" dy="-3.1">270/270</tspan></text>
<rect x="215.5" y="385.5" width="14.2" height="33.3" fill="#5b286a" />
<line x1="222.6" y1="385.5" x2="222.6" y2="384.1" stroke="#1a1a1a" stroke-width="0.9" />
<line x1="220" y1="384.1" x2="225.2" y2="384.1" stroke="#1a1a1a" stroke-width="1" />
<line x1="222.6" y1="418.8" x2="222.6" y2="421.4" stroke="#231f20" stroke-width="0.9" />
<text transform="translate(227.5,430.5) rotate(-45)" font-size="7.8" text-anchor="end" stroke="#231f20" stroke-width="0.12">Fga<tspan font-size="5.4" dy="-3.1">−/−</tspan></text>
<text transform="translate(111.7,372.5) rotate(-90)" font-size="8.7" stroke="#231f20" stroke-width="0.18" text-anchor="middle" textLength="52.7" lengthAdjust="spacingAndGlyphs" >GPIIb/IIIa (MFI)</text>
<line x1="155.7" y1="333.5" x2="222.5" y2="333.5" stroke="#7a7a7a" stroke-width="1.25" />
<text x="189.1" y="331.2" font-size="7.6" stroke="#231f20" stroke-width="0.08" text-anchor="middle" textLength="6.8" lengthAdjust="spacingAndGlyphs" >ns</text>
<line x1="177.9" y1="343" x2="222.5" y2="343" stroke="#7a7a7a" stroke-width="1.25" />
<circle cx="198.55" cy="340.4" r="0.95" fill="#231f20"/>
<circle cx="201.85" cy="340.4" r="0.95" fill="#231f20"/>
<line x1="155.7" y1="352.9" x2="200.4" y2="352.9" stroke="#7a7a7a" stroke-width="1.25" />
<text x="178.05" y="350.6" font-size="7.6" stroke="#231f20" stroke-width="0.08" text-anchor="middle" textLength="6.8" lengthAdjust="spacingAndGlyphs" >ns</text>
<line x1="155.7" y1="364.1" x2="176.2" y2="364.1" stroke="#7a7a7a" stroke-width="1.25" />
<text x="165.95" y="361.8" font-size="7.6" stroke="#231f20" stroke-width="0.08" text-anchor="middle" textLength="6.8" lengthAdjust="spacingAndGlyphs" >ns</text>
<line x1="180" y1="364.1" x2="198.3" y2="364.1" stroke="#7a7a7a" stroke-width="1.25" />
<text x="189.15" y="361.8" font-size="7.6" stroke="#231f20" stroke-width="0.08" text-anchor="middle" textLength="6.8" lengthAdjust="spacingAndGlyphs" >ns</text>
<line x1="202.1" y1="364.1" x2="222.5" y2="364.1" stroke="#7a7a7a" stroke-width="1.25" />
<text x="212.3" y="361.8" font-size="7.6" stroke="#231f20" stroke-width="0.08" text-anchor="middle" textLength="6.8" lengthAdjust="spacingAndGlyphs" >ns</text>
<line x1="283.8" y1="326.3" x2="283.8" y2="419.3" stroke="#231f20" stroke-width="1.1" />
<line x1="281" y1="418.8" x2="283.8" y2="418.8" stroke="#231f20" stroke-width="0.9" />
<text x="277.8" y="421.8" font-size="8.5" stroke="#231f20" stroke-width="0.18" text-anchor="end" textLength="4.16" lengthAdjust="spacingAndGlyphs" >0</text>
<line x1="281" y1="396.5" x2="283.8" y2="396.5" stroke="#231f20" stroke-width="0.9" />
<text x="277.8" y="399.5" font-size="8.5" stroke="#231f20" stroke-width="0.18" text-anchor="end" textLength="20.79" lengthAdjust="spacingAndGlyphs" >20000</text>
<line x1="281" y1="374.2" x2="283.8" y2="374.2" stroke="#231f20" stroke-width="0.9" />
<text x="277.8" y="377.2" font-size="8.5" stroke="#231f20" stroke-width="0.18" text-anchor="end" textLength="20.79" lengthAdjust="spacingAndGlyphs" >40000</text>
<line x1="281" y1="351.9" x2="283.8" y2="351.9" stroke="#231f20" stroke-width="0.9" />
<text x="277.8" y="354.9" font-size="8.5" stroke="#231f20" stroke-width="0.18" text-anchor="end" textLength="20.79" lengthAdjust="spacingAndGlyphs" >60000</text>
<line x1="281" y1="329.6" x2="283.8" y2="329.6" stroke="#231f20" stroke-width="0.9" />
<text x="277.8" y="332.6" font-size="8.5" stroke="#231f20" stroke-width="0.18" text-anchor="end" textLength="20.79" lengthAdjust="spacingAndGlyphs" >80000</text>
<line x1="281.8" y1="418.8" x2="372.6" y2="418.8" stroke="#231f20" stroke-width="1.1" />
<rect x="287.7" y="395.6" width="14.2" height="23.2" fill="#c41230" />
<line x1="294.8" y1="395.6" x2="294.8" y2="394.8" stroke="#1a1a1a" stroke-width="0.9" />
<line x1="292.2" y1="394.8" x2="297.4" y2="394.8" stroke="#1a1a1a" stroke-width="1" />
<line x1="294.8" y1="418.8" x2="294.8" y2="421.4" stroke="#231f20" stroke-width="0.9" />
<text transform="translate(299.7,430.5) rotate(-45)" font-size="7.8" text-anchor="end" stroke="#231f20" stroke-width="0.12">Fga<tspan font-size="5.4" dy="-3.1">WT/WT</tspan></text>
<rect x="310" y="395.8" width="14.2" height="23" fill="#3db54f" />
<line x1="317.1" y1="395.8" x2="317.1" y2="395" stroke="#1a1a1a" stroke-width="0.9" />
<line x1="314.5" y1="395" x2="319.7" y2="395" stroke="#1a1a1a" stroke-width="1" />
<line x1="317.1" y1="418.8" x2="317.1" y2="421.4" stroke="#231f20" stroke-width="0.9" />
<text transform="translate(322,430.5) rotate(-45)" font-size="7.8" text-anchor="end" stroke="#231f20" stroke-width="0.12">Fga<tspan font-size="5.4" dy="-3.1">WT/270</tspan></text>
<rect x="332.3" y="396.5" width="14.2" height="22.3" fill="#105384" />
<line x1="339.4" y1="396.5" x2="339.4" y2="395.8" stroke="#1a1a1a" stroke-width="0.9" />
<line x1="336.8" y1="395.8" x2="342" y2="395.8" stroke="#1a1a1a" stroke-width="1" />
<line x1="339.4" y1="418.8" x2="339.4" y2="421.4" stroke="#231f20" stroke-width="0.9" />
<text transform="translate(344.3,430.5) rotate(-45)" font-size="7.8" text-anchor="end" stroke="#231f20" stroke-width="0.12">Fga<tspan font-size="5.4" dy="-3.1">270/270</tspan></text>
<rect x="354.6" y="398.7" width="14.2" height="20.1" fill="#5b286a" />
<line x1="361.7" y1="398.7" x2="361.7" y2="398" stroke="#1a1a1a" stroke-width="0.9" />
<line x1="359.1" y1="398" x2="364.3" y2="398" stroke="#1a1a1a" stroke-width="1" />
<line x1="361.7" y1="418.8" x2="361.7" y2="421.4" stroke="#231f20" stroke-width="0.9" />
<text transform="translate(366.6,430.5) rotate(-45)" font-size="7.8" text-anchor="end" stroke="#231f20" stroke-width="0.12">Fga<tspan font-size="5.4" dy="-3.1">−/−</tspan></text>
<text transform="translate(251,372.5) rotate(-90)" font-size="8.7" stroke="#231f20" stroke-width="0.18" text-anchor="middle" textLength="36.8" lengthAdjust="spacingAndGlyphs" >GPIX (MFI)</text>
<line x1="295" y1="333.5" x2="361.9" y2="333.5" stroke="#7a7a7a" stroke-width="1.25" />
<circle cx="323.5" cy="330.9" r="0.95" fill="#231f20"/>
<circle cx="326.8" cy="330.9" r="0.95" fill="#231f20"/>
<circle cx="330.1" cy="330.9" r="0.95" fill="#231f20"/>
<circle cx="333.4" cy="330.9" r="0.95" fill="#231f20"/>
<line x1="317.2" y1="343" x2="361.9" y2="343" stroke="#7a7a7a" stroke-width="1.25" />
<circle cx="334.6" cy="340.4" r="0.95" fill="#231f20"/>
<circle cx="337.9" cy="340.4" r="0.95" fill="#231f20"/>
<circle cx="341.2" cy="340.4" r="0.95" fill="#231f20"/>
<circle cx="344.5" cy="340.4" r="0.95" fill="#231f20"/>
<line x1="295" y1="352.9" x2="339.7" y2="352.9" stroke="#7a7a7a" stroke-width="1.25" />
<text x="317.35" y="350.6" font-size="7.6" stroke="#231f20" stroke-width="0.08" text-anchor="middle" textLength="6.8" lengthAdjust="spacingAndGlyphs" >ns</text>
<line x1="295" y1="364.1" x2="315.5" y2="364.1" stroke="#7a7a7a" stroke-width="1.25" />
<text x="305.25" y="361.8" font-size="7.6" stroke="#231f20" stroke-width="0.08" text-anchor="middle" textLength="6.8" lengthAdjust="spacingAndGlyphs" >ns</text>
<line x1="319.3" y1="364.1" x2="337.6" y2="364.1" stroke="#7a7a7a" stroke-width="1.25" />
<text x="328.45" y="361.8" font-size="7.6" stroke="#231f20" stroke-width="0.08" text-anchor="middle" textLength="6.8" lengthAdjust="spacingAndGlyphs" >ns</text>
<line x1="341.4" y1="364.1" x2="361.9" y2="364.1" stroke="#7a7a7a" stroke-width="1.25" />
<circle cx="350" cy="361.5" r="0.95" fill="#231f20"/>
<circle cx="353.3" cy="361.5" r="0.95" fill="#231f20"/>
<line x1="423.8" y1="326.3" x2="423.8" y2="419.3" stroke="#231f20" stroke-width="1.1" />
<line x1="421" y1="418.8" x2="423.8" y2="418.8" stroke="#231f20" stroke-width="0.9" />
<text x="417.8" y="421.8" font-size="8.5" stroke="#231f20" stroke-width="0.18" text-anchor="end" textLength="4.16" lengthAdjust="spacingAndGlyphs" >0</text>
<line x1="421" y1="396.5" x2="423.8" y2="396.5" stroke="#231f20" stroke-width="0.9" />
<text x="417.8" y="399.5" font-size="8.5" stroke="#231f20" stroke-width="0.18" text-anchor="end" textLength="20.79" lengthAdjust="spacingAndGlyphs" >20000</text>
<line x1="421" y1="374.2" x2="423.8" y2="374.2" stroke="#231f20" stroke-width="0.9" />
<text x="417.8" y="377.2" font-size="8.5" stroke="#231f20" stroke-width="0.18" text-anchor="end" textLength="20.79" lengthAdjust="spacingAndGlyphs" >40000</text>
<line x1="421" y1="351.9" x2="423.8" y2="351.9" stroke="#231f20" stroke-width="0.9" />
<text x="417.8" y="354.9" font-size="8.5" stroke="#231f20" stroke-width="0.18" text-anchor="end" textLength="20.79" lengthAdjust="spacingAndGlyphs" >60000</text>
<line x1="421" y1="329.6" x2="423.8" y2="329.6" stroke="#231f20" stroke-width="0.9" />
<text x="417.8" y="332.6" font-size="8.5" stroke="#231f20" stroke-width="0.18" text-anchor="end" textLength="20.79" lengthAdjust="spacingAndGlyphs" >80000</text>
<line x1="421.8" y1="418.8" x2="512.6" y2="418.8" stroke="#231f20" stroke-width="1.1" />
<rect x="427.7" y="353.8" width="14.2" height="65" fill="#c41230" />
<line x1="434.8" y1="353.8" x2="434.8" y2="351.5" stroke="#1a1a1a" stroke-width="0.9" />
<line x1="432.2" y1="351.5" x2="437.4" y2="351.5" stroke="#1a1a1a" stroke-width="1" />
<line x1="434.8" y1="418.8" x2="434.8" y2="421.4" stroke="#231f20" stroke-width="0.9" />
<text transform="translate(439.7,430.5) rotate(-45)" font-size="7.8" text-anchor="end" stroke="#231f20" stroke-width="0.12">Fga<tspan font-size="5.4" dy="-3.1">WT/WT</tspan></text>
<rect x="450" y="352.3" width="14.2" height="66.5" fill="#3db54f" />
<line x1="457.1" y1="352.3" x2="457.1" y2="351.5" stroke="#1a1a1a" stroke-width="0.9" />
<line x1="454.5" y1="351.5" x2="459.7" y2="351.5" stroke="#1a1a1a" stroke-width="1" />
<line x1="457.1" y1="418.8" x2="457.1" y2="421.4" stroke="#231f20" stroke-width="0.9" />
<text transform="translate(462,430.5) rotate(-45)" font-size="7.8" text-anchor="end" stroke="#231f20" stroke-width="0.12">Fga<tspan font-size="5.4" dy="-3.1">WT/270</tspan></text>
<rect x="472.3" y="355.8" width="14.2" height="63" fill="#105384" />
<line x1="479.4" y1="355.8" x2="479.4" y2="354.7" stroke="#1a1a1a" stroke-width="0.9" />
<line x1="476.8" y1="354.7" x2="482" y2="354.7" stroke="#1a1a1a" stroke-width="1" />
<line x1="479.4" y1="418.8" x2="479.4" y2="421.4" stroke="#231f20" stroke-width="0.9" />
<text transform="translate(484.3,430.5) rotate(-45)" font-size="7.8" text-anchor="end" stroke="#231f20" stroke-width="0.12">Fga<tspan font-size="5.4" dy="-3.1">270/270</tspan></text>
<rect x="494.6" y="362.3" width="14.2" height="56.5" fill="#5b286a" />
<line x1="501.7" y1="362.3" x2="501.7" y2="361" stroke="#1a1a1a" stroke-width="0.9" />
<line x1="499.1" y1="361" x2="504.3" y2="361" stroke="#1a1a1a" stroke-width="1" />
<line x1="501.7" y1="418.8" x2="501.7" y2="421.4" stroke="#231f20" stroke-width="0.9" />
<text transform="translate(506.6,430.5) rotate(-45)" font-size="7.8" text-anchor="end" stroke="#231f20" stroke-width="0.12">Fga<tspan font-size="5.4" dy="-3.1">−/−</tspan></text>
<text transform="translate(390.8,372.5) rotate(-90)" font-size="8.7" stroke="#231f20" stroke-width="0.18" text-anchor="middle" textLength="45" lengthAdjust="spacingAndGlyphs" >GPIb-α (MFI)</text>
<line x1="435.4" y1="320" x2="501.7" y2="320" stroke="#7a7a7a" stroke-width="1.25" />
<circle cx="465.25" cy="317.4" r="0.95" fill="#231f20"/>
<circle cx="468.55" cy="317.4" r="0.95" fill="#231f20"/>
<circle cx="471.85" cy="317.4" r="0.95" fill="#231f20"/>
<line x1="457.5" y1="329.4" x2="501.7" y2="329.4" stroke="#7a7a7a" stroke-width="1.25" />
<circle cx="474.65" cy="326.8" r="0.95" fill="#231f20"/>
<circle cx="477.95" cy="326.8" r="0.95" fill="#231f20"/>
<circle cx="481.25" cy="326.8" r="0.95" fill="#231f20"/>
<circle cx="484.55" cy="326.8" r="0.95" fill="#231f20"/>
<line x1="435.4" y1="339.8" x2="479.2" y2="339.8" stroke="#7a7a7a" stroke-width="1.25" />
<text x="457.3" y="337.5" font-size="7.6" stroke="#231f20" stroke-width="0.08" text-anchor="middle" textLength="6.8" lengthAdjust="spacingAndGlyphs" >ns</text>
<line x1="435.4" y1="350" x2="455.2" y2="350" stroke="#7a7a7a" stroke-width="1.25" />
<text x="445.3" y="347.7" font-size="7.6" stroke="#231f20" stroke-width="0.08" text-anchor="middle" textLength="6.8" lengthAdjust="spacingAndGlyphs" >ns</text>
<line x1="459.4" y1="350" x2="477.7" y2="350" stroke="#7a7a7a" stroke-width="1.25" />
<text x="468.55" y="347.7" font-size="7.6" stroke="#231f20" stroke-width="0.08" text-anchor="middle" textLength="6.8" lengthAdjust="spacingAndGlyphs" >ns</text>
<line x1="481.5" y1="350" x2="501.7" y2="350" stroke="#7a7a7a" stroke-width="1.25" />
<circle cx="489.95" cy="347.4" r="0.95" fill="#231f20"/>
<circle cx="493.25" cy="347.4" r="0.95" fill="#231f20"/>
<rect x="0.5" y="0.5" width="519" height="458" fill="none" stroke="#000" stroke-width="1"/>
</svg>
</body></html>
